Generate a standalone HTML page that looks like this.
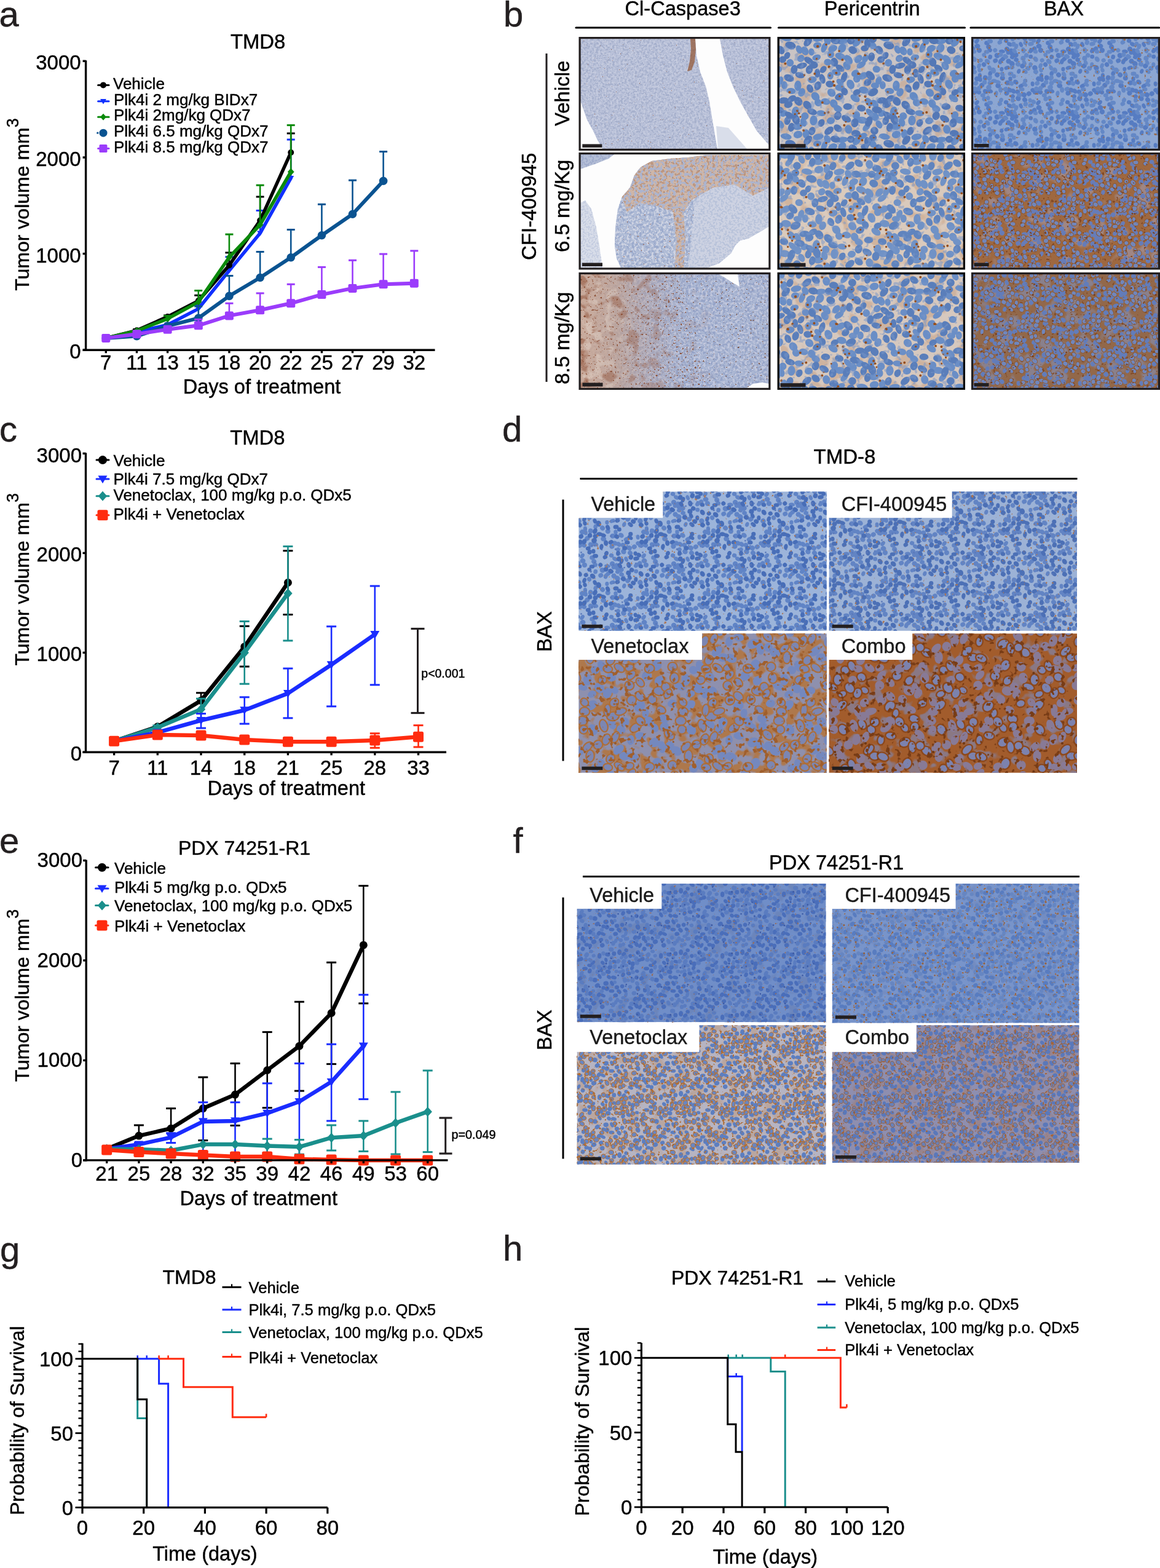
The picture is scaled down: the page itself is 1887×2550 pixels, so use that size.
<!DOCTYPE html>
<html><head><meta charset="utf-8"><title>Figure</title>
<style>html,body{margin:0;padding:0;background:#fff;}svg{display:block;}</style></head>
<body><svg width="1887" height="2550" viewBox="0 0 1887 2550" font-family="'Liberation Sans', Arial, Helvetica, sans-serif">
<defs><filter id="f1" x="0" y="0" width="1" height="1" color-interpolation-filters="sRGB"><feTurbulence type="fractalNoise" baseFrequency="0.3" numOctaves="2" seed="2"/><feColorMatrix type="matrix" values="0 0 0 0 0.651 0 0 0 0 0.690 0 0 0 0 0.800 14 0 0 0 -7.0"/></filter><filter id="f2" x="0" y="0" width="1" height="1" color-interpolation-filters="sRGB"><feTurbulence type="fractalNoise" baseFrequency="0.3" numOctaves="2" seed="6"/><feColorMatrix type="matrix" values="0 0 0 0 0.769 0 0 0 0 0.792 0 0 0 0 0.871 14 0 0 0 -7.5"/></filter><filter id="f3" x="0" y="0" width="1" height="1" color-interpolation-filters="sRGB"><feTurbulence type="fractalNoise" baseFrequency="0.45" numOctaves="2" seed="11"/><feColorMatrix type="matrix" values="0 0 0 0 0.588 0 0 0 0 0.353 0 0 0 0 0.235 14 0 0 0 -11.0"/></filter><clipPath id="c1"><polygon points="1025.0,305.0 1032.0,285.0 1042.0,272.0 1060.0,262.0 1090.0,258.0 1120.0,256.0 1150.0,252.0 1251.0,252.0 1251.0,368.0 1238.0,376.0 1217.0,388.0 1204.0,391.0 1196.0,399.0 1189.0,412.0 1170.0,428.0 1150.0,435.5 1010.0,435.5 1003.0,420.0 1000.0,400.0 1001.0,370.0 1005.0,340.0 1012.0,320.0"/></clipPath><filter id="f4" x="0" y="0" width="1" height="1" color-interpolation-filters="sRGB"><feTurbulence type="fractalNoise" baseFrequency="0.25" numOctaves="2" seed="5"/><feColorMatrix type="matrix" values="0 0 0 0 0.608 0 0 0 0 0.667 0 0 0 0 0.800 14 0 0 0 -7.0"/></filter><filter id="f5" x="0" y="0" width="1" height="1" color-interpolation-filters="sRGB"><feTurbulence type="fractalNoise" baseFrequency="0.25" numOctaves="2" seed="9"/><feColorMatrix type="matrix" values="0 0 0 0 0.804 0 0 0 0 0.824 0 0 0 0 0.886 14 0 0 0 -7.4"/></filter><filter id="f6" x="0" y="0" width="1" height="1" color-interpolation-filters="sRGB"><feTurbulence type="fractalNoise" baseFrequency="0.35" numOctaves="2" seed="14"/><feColorMatrix type="matrix" values="0 0 0 0 0.627 0 0 0 0 0.392 0 0 0 0 0.275 14 0 0 0 -10.5"/></filter><clipPath id="c2"><polygon points="1150.0,300.0 1200.0,290.0 1251.0,300.0 1251.0,368.0 1238.0,376.0 1217.0,388.0 1204.0,391.0 1196.0,399.0 1189.0,412.0 1170.0,428.0 1150.0,435.5 1120.0,435.5 1125.0,380.0 1130.0,330.0"/></clipPath><filter id="f7" x="0" y="0" width="1" height="1" color-interpolation-filters="sRGB"><feTurbulence type="fractalNoise" baseFrequency="0.3" numOctaves="2" seed="6"/><feColorMatrix type="matrix" values="0 0 0 0 0.725 0 0 0 0 0.765 0 0 0 0 0.855 14 0 0 0 -7.0"/></filter><clipPath id="c3"><polygon points="944.0,251.0 999.0,251.0 990.0,258.0 970.0,266.0 944.0,275.0"/></clipPath><filter id="f8" x="0" y="0" width="1" height="1" color-interpolation-filters="sRGB"><feTurbulence type="fractalNoise" baseFrequency="0.3" numOctaves="2" seed="8"/><feColorMatrix type="matrix" values="0 0 0 0 0.627 0 0 0 0 0.675 0 0 0 0 0.800 14 0 0 0 -7.0"/></filter><clipPath id="c4"><polygon points="944.0,330.0 952.0,326.0 962.0,340.0 970.0,370.0 975.0,400.0 980.0,435.5 944.0,435.5"/></clipPath><filter id="f9" x="0" y="0" width="1" height="1" color-interpolation-filters="sRGB"><feTurbulence type="fractalNoise" baseFrequency="0.35" numOctaves="2" seed="9"/><feColorMatrix type="matrix" values="0 0 0 0 0.769 0 0 0 0 0.800 0 0 0 0 0.878 14 0 0 0 -7.0"/></filter><clipPath id="c5"><polygon points="1032.0,285.0 1042.0,272.0 1060.0,262.0 1090.0,258.0 1120.0,256.0 1150.0,252.0 1251.0,252.0 1251.0,305.0 1225.0,318.0 1195.0,300.0 1160.0,305.0 1125.0,325.0 1112.0,345.0 1115.0,390.0 1112.0,435.5 1098.0,435.5 1100.0,390.0 1095.0,345.0 1070.0,335.0 1040.0,330.0 1020.0,345.0 1012.0,320.0 1025.0,305.0"/></clipPath><filter id="f10" x="0" y="0" width="1" height="1" color-interpolation-filters="sRGB"><feTurbulence type="fractalNoise" baseFrequency="0.22" numOctaves="2" seed="12"/><feColorMatrix type="matrix" values="0 0 0 0 0.737 0 0 0 0 0.588 0 0 0 0 0.502 14 0 0 0 -7.2"/></filter><filter id="f11" x="0" y="0" width="1" height="1" color-interpolation-filters="sRGB"><feTurbulence type="fractalNoise" baseFrequency="0.22" numOctaves="2" seed="16"/><feColorMatrix type="matrix" values="0 0 0 0 0.675 0 0 0 0 0.706 0 0 0 0 0.808 14 0 0 0 -7.0"/></filter><filter id="f12" x="0" y="0" width="1" height="1" color-interpolation-filters="sRGB"><feTurbulence type="fractalNoise" baseFrequency="0.35" numOctaves="2" seed="21"/><feColorMatrix type="matrix" values="0 0 0 0 0.549 0 0 0 0 0.333 0 0 0 0 0.216 14 0 0 0 -10.5"/></filter><linearGradient id="g31" x1="0" y1="0" x2="1" y2="0"><stop offset="0" stop-color="rgb(205,170,150)" stop-opacity="0.9"/><stop offset="0.2" stop-color="rgb(195,160,140)" stop-opacity="0.7"/><stop offset="0.42" stop-color="rgb(180,160,160)" stop-opacity="0.3"/><stop offset="0.6" stop-color="rgb(170,175,200)" stop-opacity="0"/></linearGradient><filter id="f13" x="0" y="0" width="1" height="1" color-interpolation-filters="sRGB"><feTurbulence type="fractalNoise" baseFrequency="0.25" numOctaves="2" seed="14"/><feColorMatrix type="matrix" values="0 0 0 0 0.588 0 0 0 0 0.643 0 0 0 0 0.784 14 0 0 0 -7.0"/></filter><filter id="f14" x="0" y="0" width="1" height="1" color-interpolation-filters="sRGB"><feTurbulence type="fractalNoise" baseFrequency="0.25" numOctaves="2" seed="18"/><feColorMatrix type="matrix" values="0 0 0 0 0.753 0 0 0 0 0.776 0 0 0 0 0.863 14 0 0 0 -7.6"/></filter><filter id="f15" x="0" y="0" width="1" height="1" color-interpolation-filters="sRGB"><feTurbulence type="fractalNoise" baseFrequency="0.3" numOctaves="2" seed="23"/><feColorMatrix type="matrix" values="0 0 0 0 0.471 0 0 0 0 0.294 0 0 0 0 0.216 14 0 0 0 -10.2"/></filter><clipPath id="c6"><polygon points="944.0,446.0 1100.0,446.0 1120.0,500.0 1130.0,560.0 1150.0,631.0 944.0,631.0"/></clipPath><linearGradient id="gm31" x1="0" y1="0" x2="1" y2="0"><stop offset="0" stop-color="#fff"/><stop offset="0.35" stop-color="#888"/><stop offset="0.75" stop-color="#000"/></linearGradient><mask id="m31" maskUnits="userSpaceOnUse" x="944" y="446" width="307" height="185"><rect x="944" y="446" width="307" height="185" fill="url(#gm31)"/></mask><linearGradient id="gm31b" x1="0" y1="0" x2="1" y2="0"><stop offset="0" stop-color="#fff"/><stop offset="0.15" stop-color="#bbb"/><stop offset="0.32" stop-color="#000"/></linearGradient><mask id="m31b" maskUnits="userSpaceOnUse" x="944" y="446" width="307" height="185"><rect x="944" y="446" width="307" height="185" fill="url(#gm31b)"/></mask><filter id="f16" x="0" y="0" width="1" height="1" color-interpolation-filters="sRGB"><feTurbulence type="fractalNoise" baseFrequency="0.05" numOctaves="2" seed="77"/><feColorMatrix type="matrix" values="0 0 0 0 0.588 0 0 0 0 0.361 0 0 0 0 0.267 9 0 0 0 -5.0"/></filter><filter id="f17" x="0" y="0" width="1" height="1" color-interpolation-filters="sRGB"><feTurbulence type="fractalNoise" baseFrequency="0.3" numOctaves="2" seed="79"/><feColorMatrix type="matrix" values="0 0 0 0 0.549 0 0 0 0 0.314 0 0 0 0 0.216 14 0 0 0 -9.3"/></filter><filter id="f18" x="0" y="0" width="1" height="1" color-interpolation-filters="sRGB"><feTurbulence type="fractalNoise" baseFrequency="0.06" numOctaves="2" seed="78"/><feColorMatrix type="matrix" values="0 0 0 0 0.894 0 0 0 0 0.843 0 0 0 0 0.804 9 0 0 0 -5.0"/></filter><g id="GA0"><ellipse cx="38.1" cy="87.1" rx="7.1" ry="5.6" transform="rotate(113 38.1 87.1)"/><ellipse cx="86.6" cy="87.9" rx="7.2" ry="6.1" transform="rotate(42 86.6 87.9)"/><ellipse cx="138.9" cy="83.7" rx="8.2" ry="5.7" transform="rotate(12 138.9 83.7)"/><ellipse cx="114.3" cy="147.4" rx="7.2" ry="6.0" transform="rotate(80 114.3 147.4)"/><ellipse cx="137.0" cy="-1.4" rx="8.0" ry="4.9" transform="rotate(155 137.0 -1.4)"/><ellipse cx="137.0" cy="158.6" rx="8.0" ry="4.9" transform="rotate(155 137.0 158.6)"/><ellipse cx="114.2" cy="33.8" rx="8.5" ry="5.6" transform="rotate(51 114.2 33.8)"/><ellipse cx="77.1" cy="102.2" rx="7.5" ry="5.2" transform="rotate(12 77.1 102.2)"/><ellipse cx="3.2" cy="68.3" rx="7.2" ry="4.8" transform="rotate(109 3.2 68.3)"/><ellipse cx="163.2" cy="68.3" rx="7.2" ry="4.8" transform="rotate(109 163.2 68.3)"/><ellipse cx="60.4" cy="93.8" rx="7.7" ry="6.2" transform="rotate(50 60.4 93.8)"/><ellipse cx="-0.2" cy="49.5" rx="6.2" ry="5.6" transform="rotate(6 -0.2 49.5)"/><ellipse cx="159.8" cy="49.5" rx="6.2" ry="5.6" transform="rotate(6 159.8 49.5)"/><ellipse cx="137.9" cy="60.3" rx="8.6" ry="5.3" transform="rotate(156 137.9 60.3)"/><ellipse cx="135.0" cy="42.3" rx="8.4" ry="4.8" transform="rotate(146 135.0 42.3)"/><ellipse cx="103.9" cy="15.5" rx="7.8" ry="6.2" transform="rotate(121 103.9 15.5)"/><ellipse cx="43.3" cy="125.9" rx="6.2" ry="6.1" transform="rotate(57 43.3 125.9)"/><ellipse cx="55.4" cy="66.7" rx="7.3" ry="5.3" transform="rotate(166 55.4 66.7)"/><ellipse cx="31.9" cy="76.4" rx="8.5" ry="5.7" transform="rotate(92 31.9 76.4)"/><ellipse cx="19.2" cy="39.1" rx="6.1" ry="6.0" transform="rotate(92 19.2 39.1)"/><ellipse cx="143.5" cy="143.9" rx="7.7" ry="4.6" transform="rotate(134 143.5 143.9)"/><ellipse cx="80.5" cy="38.2" rx="6.1" ry="5.5" transform="rotate(10 80.5 38.2)"/><ellipse cx="125.2" cy="56.3" rx="6.6" ry="5.5" transform="rotate(147 125.2 56.3)"/><ellipse cx="84.8" cy="60.2" rx="6.3" ry="5.1" transform="rotate(96 84.8 60.2)"/><ellipse cx="90.3" cy="105.5" rx="7.1" ry="6.0" transform="rotate(61 90.3 105.5)"/><ellipse cx="127.8" cy="5.8" rx="8.3" ry="5.5" transform="rotate(129 127.8 5.8)"/><ellipse cx="127.8" cy="165.8" rx="8.3" ry="5.5" transform="rotate(129 127.8 165.8)"/><ellipse cx="88.7" cy="16.0" rx="7.7" ry="5.5" transform="rotate(156 88.7 16.0)"/><ellipse cx="104.4" cy="4.4" rx="9.0" ry="4.7" transform="rotate(171 104.4 4.4)"/><ellipse cx="104.4" cy="164.4" rx="9.0" ry="4.7" transform="rotate(171 104.4 164.4)"/><ellipse cx="100.9" cy="28.7" rx="8.7" ry="5.7" transform="rotate(22 100.9 28.7)"/><ellipse cx="147.3" cy="103.2" rx="7.9" ry="5.3" transform="rotate(54 147.3 103.2)"/><ellipse cx="74.8" cy="14.2" rx="8.8" ry="4.6" transform="rotate(111 74.8 14.2)"/><ellipse cx="79.8" cy="3.0" rx="7.0" ry="5.2" transform="rotate(62 79.8 3.0)"/><ellipse cx="79.8" cy="163.0" rx="7.0" ry="5.2" transform="rotate(62 79.8 163.0)"/><ellipse cx="12.8" cy="-0.9" rx="9.0" ry="4.9" transform="rotate(11 12.8 -0.9)"/><ellipse cx="12.8" cy="159.1" rx="9.0" ry="4.9" transform="rotate(11 12.8 159.1)"/><ellipse cx="69.9" cy="121.1" rx="7.5" ry="4.8" transform="rotate(8 69.9 121.1)"/><ellipse cx="41.1" cy="135.8" rx="7.3" ry="5.2" transform="rotate(72 41.1 135.8)"/><ellipse cx="85.4" cy="25.5" rx="6.1" ry="5.6" transform="rotate(91 85.4 25.5)"/><ellipse cx="62.3" cy="30.5" rx="7.0" ry="4.8" transform="rotate(164 62.3 30.5)"/><ellipse cx="32.1" cy="-4.2" rx="7.4" ry="6.0" transform="rotate(165 32.1 -4.2)"/><ellipse cx="32.1" cy="155.8" rx="7.4" ry="6.0" transform="rotate(165 32.1 155.8)"/><ellipse cx="27.9" cy="118.4" rx="8.2" ry="6.0" transform="rotate(100 27.9 118.4)"/><ellipse cx="96.9" cy="113.7" rx="7.2" ry="5.4" transform="rotate(28 96.9 113.7)"/><ellipse cx="125.0" cy="96.7" rx="8.4" ry="5.5" transform="rotate(34 125.0 96.7)"/><ellipse cx="130.4" cy="33.0" rx="7.6" ry="5.4" transform="rotate(131 130.4 33.0)"/><ellipse cx="117.6" cy="74.2" rx="8.1" ry="6.0" transform="rotate(66 117.6 74.2)"/><ellipse cx="65.1" cy="-0.4" rx="8.8" ry="5.1" transform="rotate(168 65.1 -0.4)"/><ellipse cx="65.1" cy="159.6" rx="8.8" ry="5.1" transform="rotate(168 65.1 159.6)"/><ellipse cx="9.8" cy="75.5" rx="6.6" ry="5.0" transform="rotate(89 9.8 75.5)"/><ellipse cx="57.5" cy="132.9" rx="8.2" ry="6.2" transform="rotate(94 57.5 132.9)"/><ellipse cx="21.0" cy="84.9" rx="7.6" ry="4.9" transform="rotate(9 21.0 84.9)"/><ellipse cx="-2.6" cy="126.9" rx="7.1" ry="6.2" transform="rotate(65 -2.6 126.9)"/><ellipse cx="157.4" cy="126.9" rx="7.1" ry="6.2" transform="rotate(65 157.4 126.9)"/><ellipse cx="54.0" cy="21.4" rx="6.0" ry="4.7" transform="rotate(87 54.0 21.4)"/><ellipse cx="136.2" cy="132.4" rx="8.8" ry="5.6" transform="rotate(6 136.2 132.4)"/><ellipse cx="36.8" cy="32.0" rx="6.2" ry="5.5" transform="rotate(134 36.8 32.0)"/><ellipse cx="-6.2" cy="11.1" rx="6.8" ry="5.4" transform="rotate(48 -6.2 11.1)"/><ellipse cx="153.8" cy="11.1" rx="6.8" ry="5.4" transform="rotate(48 153.8 11.1)"/><ellipse cx="8.7" cy="121.5" rx="6.5" ry="4.9" transform="rotate(148 8.7 121.5)"/><ellipse cx="85.5" cy="133.3" rx="6.6" ry="5.6" transform="rotate(168 85.5 133.3)"/><ellipse cx="111.5" cy="44.0" rx="7.4" ry="5.6" transform="rotate(59 111.5 44.0)"/><ellipse cx="43.2" cy="19.7" rx="7.5" ry="5.8" transform="rotate(61 43.2 19.7)"/><ellipse cx="45.2" cy="-5.3" rx="7.4" ry="5.4" transform="rotate(96 45.2 -5.3)"/><ellipse cx="45.2" cy="154.7" rx="7.4" ry="5.4" transform="rotate(96 45.2 154.7)"/><ellipse cx="141.5" cy="32.3" rx="7.2" ry="4.8" transform="rotate(115 141.5 32.3)"/><ellipse cx="-2.9" cy="105.8" rx="7.6" ry="4.9" transform="rotate(54 -2.9 105.8)"/><ellipse cx="157.1" cy="105.8" rx="7.6" ry="4.9" transform="rotate(54 157.1 105.8)"/><ellipse cx="63.6" cy="10.6" rx="6.8" ry="5.1" transform="rotate(169 63.6 10.6)"/><ellipse cx="33.9" cy="17.6" rx="7.1" ry="4.9" transform="rotate(66 33.9 17.6)"/><ellipse cx="100.4" cy="70.6" rx="6.7" ry="4.6" transform="rotate(39 100.4 70.6)"/><ellipse cx="64.9" cy="103.9" rx="6.3" ry="5.8" transform="rotate(43 64.9 103.9)"/><ellipse cx="31.1" cy="142.6" rx="8.4" ry="5.8" transform="rotate(176 31.1 142.6)"/><ellipse cx="100.3" cy="79.6" rx="7.9" ry="5.5" transform="rotate(5 100.3 79.6)"/><ellipse cx="94.5" cy="54.9" rx="7.7" ry="5.0" transform="rotate(22 94.5 54.9)"/><ellipse cx="149.4" cy="120.5" rx="8.5" ry="4.7" transform="rotate(45 149.4 120.5)"/><ellipse cx="127.2" cy="124.6" rx="6.7" ry="5.9" transform="rotate(109 127.2 124.6)"/><ellipse cx="3.9" cy="139.4" rx="7.0" ry="4.9" transform="rotate(59 3.9 139.4)"/><ellipse cx="163.9" cy="139.4" rx="7.0" ry="4.9" transform="rotate(59 163.9 139.4)"/><ellipse cx="-2.6" cy="76.2" rx="6.7" ry="4.9" transform="rotate(6 -2.6 76.2)"/><ellipse cx="157.4" cy="76.2" rx="6.7" ry="4.9" transform="rotate(6 157.4 76.2)"/><ellipse cx="127.7" cy="65.2" rx="6.1" ry="5.8" transform="rotate(76 127.7 65.2)"/></g><g id="GA1"><ellipse cx="96.9" cy="145.4" rx="7.4" ry="5.5" transform="rotate(35 96.9 145.4)"/><ellipse cx="48.2" cy="5.0" rx="8.6" ry="5.4" transform="rotate(129 48.2 5.0)"/><ellipse cx="48.2" cy="165.0" rx="8.6" ry="5.4" transform="rotate(129 48.2 165.0)"/><ellipse cx="140.6" cy="15.6" rx="6.4" ry="5.0" transform="rotate(174 140.6 15.6)"/><ellipse cx="124.6" cy="136.8" rx="7.3" ry="6.0" transform="rotate(103 124.6 136.8)"/><ellipse cx="92.8" cy="3.2" rx="7.8" ry="5.7" transform="rotate(11 92.8 3.2)"/><ellipse cx="92.8" cy="163.2" rx="7.8" ry="5.7" transform="rotate(11 92.8 163.2)"/><ellipse cx="118.1" cy="3.5" rx="6.2" ry="5.7" transform="rotate(173 118.1 3.5)"/><ellipse cx="118.1" cy="163.5" rx="6.2" ry="5.7" transform="rotate(173 118.1 163.5)"/><ellipse cx="100.5" cy="47.8" rx="7.8" ry="4.9" transform="rotate(33 100.5 47.8)"/><ellipse cx="49.6" cy="35.6" rx="8.4" ry="5.0" transform="rotate(34 49.6 35.6)"/><ellipse cx="70.1" cy="136.9" rx="6.5" ry="5.2" transform="rotate(117 70.1 136.9)"/><ellipse cx="99.1" cy="94.3" rx="7.3" ry="5.5" transform="rotate(153 99.1 94.3)"/><ellipse cx="-5.9" cy="87.0" rx="8.7" ry="6.1" transform="rotate(154 -5.9 87.0)"/><ellipse cx="154.1" cy="87.0" rx="8.7" ry="6.1" transform="rotate(154 154.1 87.0)"/><ellipse cx="38.3" cy="43.8" rx="8.7" ry="4.8" transform="rotate(166 38.3 43.8)"/><ellipse cx="19.9" cy="10.9" rx="8.9" ry="6.1" transform="rotate(16 19.9 10.9)"/><ellipse cx="50.5" cy="50.3" rx="7.1" ry="5.7" transform="rotate(106 50.5 50.3)"/><ellipse cx="0.6" cy="115.7" rx="8.4" ry="5.6" transform="rotate(8 0.6 115.7)"/><ellipse cx="160.6" cy="115.7" rx="8.4" ry="5.6" transform="rotate(8 160.6 115.7)"/><ellipse cx="96.7" cy="125.2" rx="7.1" ry="6.0" transform="rotate(112 96.7 125.2)"/><ellipse cx="8.5" cy="100.4" rx="8.3" ry="5.1" transform="rotate(171 8.5 100.4)"/><ellipse cx="149.8" cy="59.9" rx="8.7" ry="5.9" transform="rotate(47 149.8 59.9)"/><ellipse cx="4.1" cy="18.4" rx="7.4" ry="5.8" transform="rotate(51 4.1 18.4)"/><ellipse cx="164.1" cy="18.4" rx="7.4" ry="5.8" transform="rotate(51 164.1 18.4)"/><ellipse cx="63.5" cy="56.0" rx="7.3" ry="4.7" transform="rotate(90 63.5 56.0)"/><ellipse cx="82.5" cy="149.6" rx="8.6" ry="5.5" transform="rotate(140 82.5 149.6)"/><ellipse cx="91.2" cy="38.2" rx="7.4" ry="6.1" transform="rotate(75 91.2 38.2)"/><ellipse cx="14.8" cy="133.4" rx="6.9" ry="5.2" transform="rotate(104 14.8 133.4)"/><ellipse cx="47.3" cy="108.1" rx="8.0" ry="6.0" transform="rotate(48 47.3 108.1)"/><ellipse cx="107.7" cy="85.8" rx="6.3" ry="5.4" transform="rotate(63 107.7 85.8)"/><ellipse cx="73.2" cy="50.0" rx="6.5" ry="4.7" transform="rotate(129 73.2 50.0)"/><ellipse cx="57.5" cy="42.5" rx="7.2" ry="6.1" transform="rotate(8 57.5 42.5)"/><ellipse cx="18.0" cy="124.6" rx="8.2" ry="4.9" transform="rotate(34 18.0 124.6)"/><ellipse cx="107.2" cy="62.6" rx="9.0" ry="4.8" transform="rotate(109 107.2 62.6)"/><ellipse cx="127.7" cy="87.2" rx="6.5" ry="4.9" transform="rotate(156 127.7 87.2)"/><ellipse cx="83.8" cy="73.7" rx="6.6" ry="5.5" transform="rotate(7 83.8 73.7)"/><ellipse cx="135.2" cy="112.9" rx="7.2" ry="5.4" transform="rotate(12 135.2 112.9)"/><ellipse cx="22.3" cy="97.4" rx="7.3" ry="4.9" transform="rotate(151 22.3 97.4)"/><ellipse cx="71.7" cy="65.2" rx="8.1" ry="4.7" transform="rotate(73 71.7 65.2)"/><ellipse cx="126.3" cy="-6.1" rx="7.5" ry="5.6" transform="rotate(5 126.3 -6.1)"/><ellipse cx="126.3" cy="153.9" rx="7.5" ry="5.6" transform="rotate(5 126.3 153.9)"/><ellipse cx="14.5" cy="27.3" rx="6.1" ry="4.7" transform="rotate(118 14.5 27.3)"/><ellipse cx="151.6" cy="29.5" rx="7.2" ry="5.5" transform="rotate(99 151.6 29.5)"/><ellipse cx="-3.6" cy="149.7" rx="6.4" ry="6.3" transform="rotate(20 -3.6 149.7)"/><ellipse cx="156.4" cy="149.7" rx="6.4" ry="6.3" transform="rotate(20 156.4 149.7)"/><ellipse cx="17.4" cy="63.9" rx="8.5" ry="5.8" transform="rotate(20 17.4 63.9)"/><ellipse cx="55.2" cy="118.7" rx="8.2" ry="5.1" transform="rotate(19 55.2 118.7)"/><ellipse cx="145.4" cy="71.0" rx="6.6" ry="5.4" transform="rotate(146 145.4 71.0)"/><ellipse cx="25.8" cy="49.9" rx="7.4" ry="5.5" transform="rotate(98 25.8 49.9)"/><ellipse cx="16.4" cy="107.0" rx="7.1" ry="5.5" transform="rotate(161 16.4 107.0)"/><ellipse cx="112.9" cy="110.4" rx="7.4" ry="5.3" transform="rotate(2 112.9 110.4)"/><ellipse cx="51.7" cy="81.0" rx="7.1" ry="5.1" transform="rotate(65 51.7 81.0)"/><ellipse cx="35.2" cy="59.3" rx="7.8" ry="4.8" transform="rotate(15 35.2 59.3)"/><ellipse cx="32.6" cy="101.7" rx="7.8" ry="6.2" transform="rotate(54 32.6 101.7)"/><ellipse cx="28.8" cy="131.3" rx="8.5" ry="6.2" transform="rotate(71 28.8 131.3)"/><ellipse cx="121.3" cy="18.4" rx="7.3" ry="6.1" transform="rotate(26 121.3 18.4)"/><ellipse cx="21.3" cy="144.0" rx="7.3" ry="5.3" transform="rotate(102 21.3 144.0)"/><ellipse cx="7.1" cy="33.8" rx="6.0" ry="5.5" transform="rotate(168 7.1 33.8)"/><ellipse cx="144.9" cy="7.7" rx="8.0" ry="5.1" transform="rotate(85 144.9 7.7)"/><ellipse cx="144.9" cy="167.7" rx="8.0" ry="5.1" transform="rotate(85 144.9 167.7)"/><ellipse cx="-6.0" cy="1.0" rx="6.2" ry="5.7" transform="rotate(167 -6.0 1.0)"/><ellipse cx="-6.0" cy="161.0" rx="6.2" ry="5.7" transform="rotate(167 -6.0 161.0)"/><ellipse cx="154.0" cy="1.0" rx="6.2" ry="5.7" transform="rotate(167 154.0 1.0)"/><ellipse cx="154.0" cy="161.0" rx="6.2" ry="5.7" transform="rotate(167 154.0 161.0)"/><ellipse cx="54.9" cy="150.1" rx="7.0" ry="5.4" transform="rotate(114 54.9 150.1)"/><ellipse cx="64.2" cy="76.5" rx="7.5" ry="5.5" transform="rotate(110 64.2 76.5)"/><ellipse cx="110.6" cy="130.1" rx="8.3" ry="5.3" transform="rotate(30 110.6 130.1)"/><ellipse cx="147.3" cy="134.6" rx="8.8" ry="5.8" transform="rotate(111 147.3 134.6)"/></g><g id="GAd"><circle cx="109.9" cy="135.2" r="1.3"/><circle cx="42.5" cy="59.0" r="1.7"/><circle cx="107.3" cy="140.7" r="2.0"/><circle cx="148.6" cy="111.4" r="1.6"/><circle cx="81.3" cy="119.8" r="2.0"/><circle cx="59.2" cy="56.9" r="1.9"/><circle cx="36.5" cy="141.3" r="1.3"/><circle cx="103.8" cy="77.7" r="1.5"/><circle cx="91.2" cy="75.9" r="2.2"/><circle cx="141.5" cy="93.9" r="2.1"/><circle cx="141.4" cy="26.4" r="2.0"/><circle cx="133.3" cy="158.5" r="2.0"/><circle cx="62.7" cy="33.0" r="1.9"/><circle cx="33.7" cy="121.2" r="1.8"/><circle cx="132.1" cy="57.0" r="1.6"/><circle cx="144.7" cy="106.0" r="1.6"/><circle cx="89.7" cy="69.7" r="1.9"/><circle cx="82.7" cy="45.7" r="2.2"/><circle cx="141.6" cy="121.4" r="1.6"/><circle cx="31.1" cy="117.0" r="2.0"/><circle cx="104.4" cy="34.2" r="1.9"/><circle cx="83.7" cy="59.7" r="1.8"/><circle cx="71.8" cy="103.8" r="2.0"/><circle cx="157.2" cy="17.8" r="1.8"/><circle cx="151.3" cy="105.1" r="1.8"/><circle cx="136.5" cy="5.0" r="2.0"/><circle cx="99.7" cy="93.5" r="1.6"/><circle cx="99.1" cy="20.1" r="1.8"/><circle cx="41.2" cy="149.1" r="2.0"/><circle cx="75.7" cy="120.8" r="1.6"/><circle cx="83.8" cy="25.8" r="2.1"/><circle cx="122.2" cy="121.6" r="1.4"/><circle cx="131.1" cy="1.9" r="1.8"/><circle cx="78.0" cy="9.5" r="1.7"/><circle cx="141.9" cy="99.9" r="1.6"/><circle cx="130.3" cy="56.9" r="2.1"/><circle cx="64.1" cy="12.4" r="2.2"/><circle cx="11.4" cy="40.5" r="2.0"/><circle cx="18.4" cy="87.1" r="2.1"/><circle cx="94.4" cy="55.7" r="2.0"/><circle cx="132.1" cy="92.7" r="1.9"/><circle cx="51.6" cy="65.2" r="2.2"/><circle cx="155.5" cy="0.3" r="1.5"/><circle cx="36.0" cy="126.9" r="1.5"/><circle cx="27.1" cy="122.5" r="1.5"/></g><g id="GB0"><ellipse cx="28.0" cy="94.5" rx="4.3" ry="3.7" transform="rotate(151 28.0 94.5)"/><ellipse cx="42.4" cy="28.8" rx="3.7" ry="2.9" transform="rotate(47 42.4 28.8)"/><ellipse cx="10.1" cy="6.2" rx="3.5" ry="3.4" transform="rotate(111 10.1 6.2)"/><ellipse cx="12.2" cy="93.5" rx="3.5" ry="2.6" transform="rotate(64 12.2 93.5)"/><ellipse cx="13.6" cy="38.2" rx="4.5" ry="3.0" transform="rotate(2 13.6 38.2)"/><ellipse cx="-1.8" cy="42.4" rx="3.3" ry="2.7" transform="rotate(10 -1.8 42.4)"/><ellipse cx="98.2" cy="42.4" rx="3.3" ry="2.7" transform="rotate(10 98.2 42.4)"/><ellipse cx="-0.2" cy="12.2" rx="3.8" ry="3.5" transform="rotate(74 -0.2 12.2)"/><ellipse cx="99.8" cy="12.2" rx="3.8" ry="3.5" transform="rotate(74 99.8 12.2)"/><ellipse cx="47.8" cy="24.2" rx="3.7" ry="2.6" transform="rotate(76 47.8 24.2)"/><ellipse cx="79.1" cy="74.5" rx="3.8" ry="2.7" transform="rotate(38 79.1 74.5)"/><ellipse cx="33.7" cy="65.7" rx="4.3" ry="3.4" transform="rotate(147 33.7 65.7)"/><ellipse cx="65.5" cy="68.6" rx="3.7" ry="3.4" transform="rotate(172 65.5 68.6)"/><ellipse cx="85.9" cy="28.0" rx="4.0" ry="2.8" transform="rotate(71 85.9 28.0)"/><ellipse cx="56.9" cy="74.6" rx="4.5" ry="2.9" transform="rotate(1 56.9 74.6)"/><ellipse cx="1.3" cy="87.6" rx="3.6" ry="3.2" transform="rotate(141 1.3 87.6)"/><ellipse cx="101.3" cy="87.6" rx="3.6" ry="3.2" transform="rotate(141 101.3 87.6)"/><ellipse cx="60.8" cy="13.9" rx="3.6" ry="3.5" transform="rotate(94 60.8 13.9)"/><ellipse cx="51.2" cy="43.4" rx="4.4" ry="3.5" transform="rotate(12 51.2 43.4)"/><ellipse cx="87.4" cy="17.6" rx="3.2" ry="3.2" transform="rotate(61 87.4 17.6)"/><ellipse cx="52.6" cy="52.1" rx="3.7" ry="3.0" transform="rotate(41 52.6 52.1)"/><ellipse cx="90.2" cy="37.2" rx="3.9" ry="3.0" transform="rotate(112 90.2 37.2)"/><ellipse cx="37.2" cy="17.5" rx="4.4" ry="3.3" transform="rotate(94 37.2 17.5)"/><ellipse cx="22.2" cy="78.7" rx="4.1" ry="3.6" transform="rotate(124 22.2 78.7)"/><ellipse cx="40.0" cy="40.1" rx="4.3" ry="2.9" transform="rotate(74 40.0 40.1)"/><ellipse cx="-2.6" cy="-1.2" rx="4.5" ry="3.3" transform="rotate(56 -2.6 -1.2)"/><ellipse cx="-2.6" cy="98.8" rx="4.5" ry="3.3" transform="rotate(56 -2.6 98.8)"/><ellipse cx="97.4" cy="-1.2" rx="4.5" ry="3.3" transform="rotate(56 97.4 -1.2)"/><ellipse cx="97.4" cy="98.8" rx="4.5" ry="3.3" transform="rotate(56 97.4 98.8)"/><ellipse cx="75.6" cy="48.3" rx="4.0" ry="3.2" transform="rotate(109 75.6 48.3)"/><ellipse cx="1.9" cy="24.5" rx="4.2" ry="2.8" transform="rotate(171 1.9 24.5)"/><ellipse cx="101.9" cy="24.5" rx="4.2" ry="2.8" transform="rotate(171 101.9 24.5)"/><ellipse cx="95.3" cy="87.8" rx="4.2" ry="3.3" transform="rotate(125 95.3 87.8)"/><ellipse cx="50.3" cy="15.4" rx="4.4" ry="3.2" transform="rotate(12 50.3 15.4)"/><ellipse cx="87.7" cy="1.9" rx="4.5" ry="2.8" transform="rotate(28 87.7 1.9)"/><ellipse cx="87.7" cy="101.9" rx="4.5" ry="2.8" transform="rotate(28 87.7 101.9)"/><ellipse cx="-0.4" cy="70.6" rx="4.5" ry="3.7" transform="rotate(68 -0.4 70.6)"/><ellipse cx="99.6" cy="70.6" rx="4.5" ry="3.7" transform="rotate(68 99.6 70.6)"/><ellipse cx="91.2" cy="30.5" rx="4.0" ry="3.7" transform="rotate(108 91.2 30.5)"/><ellipse cx="80.7" cy="8.3" rx="3.4" ry="3.0" transform="rotate(19 80.7 8.3)"/><ellipse cx="60.5" cy="52.7" rx="4.6" ry="3.0" transform="rotate(15 60.5 52.7)"/><ellipse cx="69.7" cy="11.7" rx="4.6" ry="3.6" transform="rotate(92 69.7 11.7)"/><ellipse cx="7.1" cy="22.6" rx="3.7" ry="3.4" transform="rotate(160 7.1 22.6)"/><ellipse cx="26.4" cy="28.7" rx="4.5" ry="2.8" transform="rotate(136 26.4 28.7)"/><ellipse cx="29.7" cy="56.7" rx="4.1" ry="3.7" transform="rotate(14 29.7 56.7)"/><ellipse cx="54.1" cy="36.2" rx="4.2" ry="3.6" transform="rotate(137 54.1 36.2)"/><ellipse cx="16.4" cy="-0.5" rx="4.0" ry="3.0" transform="rotate(1 16.4 -0.5)"/><ellipse cx="16.4" cy="99.5" rx="4.0" ry="3.0" transform="rotate(1 16.4 99.5)"/><ellipse cx="21.1" cy="33.1" rx="4.0" ry="2.7" transform="rotate(14 21.1 33.1)"/><ellipse cx="-2.6" cy="52.7" rx="3.3" ry="3.3" transform="rotate(108 -2.6 52.7)"/><ellipse cx="97.4" cy="52.7" rx="3.3" ry="3.3" transform="rotate(108 97.4 52.7)"/><ellipse cx="5.1" cy="82.0" rx="4.4" ry="2.7" transform="rotate(170 5.1 82.0)"/><ellipse cx="41.7" cy="0.3" rx="3.8" ry="3.6" transform="rotate(152 41.7 0.3)"/><ellipse cx="41.7" cy="100.3" rx="3.8" ry="3.6" transform="rotate(152 41.7 100.3)"/><ellipse cx="9.3" cy="88.8" rx="4.5" ry="3.2" transform="rotate(95 9.3 88.8)"/><ellipse cx="61.7" cy="26.9" rx="4.4" ry="2.8" transform="rotate(17 61.7 26.9)"/><ellipse cx="3.3" cy="0.6" rx="4.4" ry="2.6" transform="rotate(118 3.3 0.6)"/><ellipse cx="3.3" cy="100.6" rx="4.4" ry="2.6" transform="rotate(118 3.3 100.6)"/><ellipse cx="103.3" cy="0.6" rx="4.4" ry="2.6" transform="rotate(118 103.3 0.6)"/><ellipse cx="103.3" cy="100.6" rx="4.4" ry="2.6" transform="rotate(118 103.3 100.6)"/><ellipse cx="37.4" cy="50.8" rx="4.4" ry="2.8" transform="rotate(62 37.4 50.8)"/><ellipse cx="39.6" cy="91.4" rx="3.7" ry="3.2" transform="rotate(159 39.6 91.4)"/><ellipse cx="57.6" cy="62.2" rx="4.5" ry="2.9" transform="rotate(60 57.6 62.2)"/><ellipse cx="47.7" cy="62.2" rx="4.3" ry="3.7" transform="rotate(175 47.7 62.2)"/><ellipse cx="74.2" cy="66.9" rx="3.4" ry="3.3" transform="rotate(34 74.2 66.9)"/><ellipse cx="84.6" cy="46.0" rx="4.1" ry="3.3" transform="rotate(24 84.6 46.0)"/><ellipse cx="11.1" cy="73.7" rx="3.4" ry="3.2" transform="rotate(96 11.1 73.7)"/><ellipse cx="22.0" cy="1.4" rx="3.8" ry="3.0" transform="rotate(103 22.0 1.4)"/><ellipse cx="22.0" cy="101.4" rx="3.8" ry="3.0" transform="rotate(103 22.0 101.4)"/><ellipse cx="42.8" cy="81.9" rx="4.5" ry="2.7" transform="rotate(26 42.8 81.9)"/><ellipse cx="36.3" cy="80.9" rx="4.2" ry="3.3" transform="rotate(130 36.3 80.9)"/><ellipse cx="69.0" cy="75.6" rx="4.3" ry="3.2" transform="rotate(47 69.0 75.6)"/><ellipse cx="43.6" cy="69.6" rx="3.4" ry="3.1" transform="rotate(10 43.6 69.6)"/><ellipse cx="76.7" cy="14.8" rx="4.0" ry="3.2" transform="rotate(139 76.7 14.8)"/><ellipse cx="49.3" cy="70.8" rx="3.9" ry="3.7" transform="rotate(128 49.3 70.8)"/><ellipse cx="63.3" cy="81.8" rx="4.0" ry="3.3" transform="rotate(168 63.3 81.8)"/><ellipse cx="6.0" cy="53.9" rx="4.5" ry="3.3" transform="rotate(142 6.0 53.9)"/><ellipse cx="21.3" cy="42.0" rx="4.1" ry="3.3" transform="rotate(105 21.3 42.0)"/><ellipse cx="23.4" cy="89.5" rx="3.0" ry="2.8" transform="rotate(114 23.4 89.5)"/></g><g id="GB1"><ellipse cx="23.6" cy="10.3" rx="3.6" ry="2.8" transform="rotate(12 23.6 10.3)"/><ellipse cx="54.9" cy="28.9" rx="4.6" ry="2.7" transform="rotate(94 54.9 28.9)"/><ellipse cx="27.7" cy="17.3" rx="3.2" ry="2.9" transform="rotate(167 27.7 17.3)"/><ellipse cx="80.0" cy="19.3" rx="3.5" ry="3.4" transform="rotate(132 80.0 19.3)"/><ellipse cx="8.7" cy="60.6" rx="4.1" ry="3.2" transform="rotate(32 8.7 60.6)"/><ellipse cx="90.9" cy="57.2" rx="4.4" ry="3.6" transform="rotate(92 90.9 57.2)"/><ellipse cx="8.1" cy="46.3" rx="4.6" ry="3.2" transform="rotate(117 8.1 46.3)"/><ellipse cx="14.5" cy="67.4" rx="3.7" ry="3.1" transform="rotate(114 14.5 67.4)"/><ellipse cx="27.6" cy="35.6" rx="4.2" ry="3.0" transform="rotate(101 27.6 35.6)"/><ellipse cx="89.6" cy="95.5" rx="4.2" ry="3.8" transform="rotate(3 89.6 95.5)"/><ellipse cx="87.0" cy="68.0" rx="3.3" ry="3.1" transform="rotate(161 87.0 68.0)"/><ellipse cx="45.5" cy="36.5" rx="4.3" ry="3.8" transform="rotate(103 45.5 36.5)"/><ellipse cx="59.6" cy="-2.9" rx="4.0" ry="3.3" transform="rotate(105 59.6 -2.9)"/><ellipse cx="59.6" cy="97.1" rx="4.0" ry="3.3" transform="rotate(105 59.6 97.1)"/><ellipse cx="64.7" cy="42.8" rx="3.3" ry="2.8" transform="rotate(7 64.7 42.8)"/><ellipse cx="76.7" cy="26.9" rx="4.4" ry="3.6" transform="rotate(124 76.7 26.9)"/><ellipse cx="55.1" cy="87.9" rx="3.4" ry="3.3" transform="rotate(60 55.1 87.9)"/><ellipse cx="91.5" cy="44.0" rx="3.4" ry="3.1" transform="rotate(20 91.5 44.0)"/><ellipse cx="75.9" cy="85.5" rx="3.6" ry="2.7" transform="rotate(165 75.9 85.5)"/><ellipse cx="63.7" cy="93.0" rx="3.8" ry="2.7" transform="rotate(100 63.7 93.0)"/><ellipse cx="71.1" cy="0.6" rx="3.5" ry="3.3" transform="rotate(88 71.1 0.6)"/><ellipse cx="71.1" cy="100.6" rx="3.5" ry="3.3" transform="rotate(88 71.1 100.6)"/><ellipse cx="-1.4" cy="62.7" rx="4.1" ry="3.3" transform="rotate(56 -1.4 62.7)"/><ellipse cx="98.6" cy="62.7" rx="4.1" ry="3.3" transform="rotate(56 98.6 62.7)"/><ellipse cx="78.2" cy="56.8" rx="4.5" ry="3.2" transform="rotate(79 78.2 56.8)"/><ellipse cx="34.0" cy="43.3" rx="4.0" ry="3.4" transform="rotate(112 34.0 43.3)"/><ellipse cx="80.1" cy="80.7" rx="4.5" ry="2.8" transform="rotate(105 80.1 80.7)"/><ellipse cx="82.6" cy="40.4" rx="3.6" ry="2.6" transform="rotate(92 82.6 40.4)"/><ellipse cx="14.9" cy="23.8" rx="3.7" ry="3.5" transform="rotate(29 14.9 23.8)"/><ellipse cx="16.3" cy="89.0" rx="3.8" ry="3.2" transform="rotate(55 16.3 89.0)"/><ellipse cx="23.2" cy="55.4" rx="3.8" ry="3.5" transform="rotate(33 23.2 55.4)"/><ellipse cx="73.8" cy="34.5" rx="4.6" ry="3.6" transform="rotate(114 73.8 34.5)"/><ellipse cx="70.5" cy="43.7" rx="3.3" ry="2.6" transform="rotate(160 70.5 43.7)"/><ellipse cx="41.0" cy="75.0" rx="3.3" ry="2.9" transform="rotate(16 41.0 75.0)"/><ellipse cx="93.5" cy="78.2" rx="4.0" ry="3.4" transform="rotate(168 93.5 78.2)"/><ellipse cx="66.9" cy="89.1" rx="3.8" ry="2.7" transform="rotate(61 66.9 89.1)"/><ellipse cx="57.0" cy="20.4" rx="3.2" ry="3.1" transform="rotate(17 57.0 20.4)"/><ellipse cx="67.7" cy="26.3" rx="3.9" ry="3.4" transform="rotate(132 67.7 26.3)"/><ellipse cx="5.3" cy="16.1" rx="4.5" ry="3.7" transform="rotate(121 5.3 16.1)"/><ellipse cx="43.6" cy="13.5" rx="3.5" ry="3.2" transform="rotate(58 43.6 13.5)"/><ellipse cx="62.3" cy="60.2" rx="3.0" ry="2.7" transform="rotate(49 62.3 60.2)"/><ellipse cx="16.2" cy="16.0" rx="4.5" ry="3.6" transform="rotate(127 16.2 16.0)"/><ellipse cx="79.8" cy="32.9" rx="4.3" ry="2.8" transform="rotate(17 79.8 32.9)"/><ellipse cx="22.3" cy="24.6" rx="4.5" ry="3.1" transform="rotate(44 22.3 24.6)"/><ellipse cx="49.5" cy="94.2" rx="4.3" ry="3.1" transform="rotate(64 49.5 94.2)"/><ellipse cx="83.8" cy="57.4" rx="3.4" ry="2.7" transform="rotate(11 83.8 57.4)"/><ellipse cx="11.9" cy="51.3" rx="3.7" ry="3.3" transform="rotate(29 11.9 51.3)"/><ellipse cx="56.2" cy="7.2" rx="4.2" ry="3.6" transform="rotate(6 56.2 7.2)"/><ellipse cx="16.8" cy="73.3" rx="4.5" ry="2.8" transform="rotate(97 16.8 73.3)"/><ellipse cx="26.9" cy="74.7" rx="3.2" ry="3.0" transform="rotate(2 26.9 74.7)"/><ellipse cx="76.0" cy="-1.3" rx="3.1" ry="3.0" transform="rotate(127 76.0 -1.3)"/><ellipse cx="76.0" cy="98.7" rx="3.1" ry="3.0" transform="rotate(127 76.0 98.7)"/><ellipse cx="-1.9" cy="92.4" rx="3.0" ry="2.8" transform="rotate(73 -1.9 92.4)"/><ellipse cx="98.1" cy="92.4" rx="3.0" ry="2.8" transform="rotate(73 98.1 92.4)"/><ellipse cx="92.8" cy="17.1" rx="3.0" ry="3.0" transform="rotate(46 92.8 17.1)"/><ellipse cx="43.7" cy="46.8" rx="4.0" ry="3.3" transform="rotate(169 43.7 46.8)"/><ellipse cx="36.3" cy="35.8" rx="3.9" ry="3.3" transform="rotate(84 36.3 35.8)"/><ellipse cx="31.9" cy="86.7" rx="4.3" ry="3.6" transform="rotate(173 31.9 86.7)"/><ellipse cx="72.0" cy="92.0" rx="3.3" ry="3.1" transform="rotate(98 72.0 92.0)"/><ellipse cx="73.1" cy="20.4" rx="3.3" ry="2.7" transform="rotate(133 73.1 20.4)"/><ellipse cx="16.4" cy="79.4" rx="3.3" ry="2.9" transform="rotate(136 16.4 79.4)"/><ellipse cx="81.2" cy="89.7" rx="4.4" ry="3.1" transform="rotate(177 81.2 89.7)"/><ellipse cx="27.3" cy="81.8" rx="3.4" ry="3.3" transform="rotate(155 27.3 81.8)"/><ellipse cx="62.2" cy="34.8" rx="4.1" ry="3.1" transform="rotate(105 62.2 34.8)"/><ellipse cx="-2.1" cy="29.1" rx="4.1" ry="3.2" transform="rotate(12 -2.1 29.1)"/><ellipse cx="97.9" cy="29.1" rx="4.1" ry="3.2" transform="rotate(12 97.9 29.1)"/><ellipse cx="-3.1" cy="22.0" rx="3.8" ry="3.3" transform="rotate(124 -3.1 22.0)"/><ellipse cx="96.9" cy="22.0" rx="3.8" ry="3.3" transform="rotate(124 96.9 22.0)"/><ellipse cx="75.6" cy="42.0" rx="3.2" ry="3.0" transform="rotate(165 75.6 42.0)"/></g><g id="GBd"><circle cx="93.8" cy="94.8" r="1.5"/><circle cx="67.6" cy="49.2" r="1.2"/><circle cx="39.1" cy="95.2" r="1.4"/><circle cx="79.9" cy="66.7" r="1.0"/><circle cx="44.8" cy="35.0" r="1.6"/><circle cx="68.8" cy="36.6" r="1.3"/><circle cx="89.3" cy="52.8" r="1.4"/><circle cx="36.2" cy="42.6" r="1.4"/><circle cx="19.9" cy="67.6" r="1.5"/><circle cx="99.5" cy="52.9" r="1.3"/><circle cx="99.4" cy="79.3" r="1.5"/><circle cx="52.6" cy="13.2" r="1.5"/><circle cx="9.4" cy="71.3" r="1.1"/><circle cx="80.8" cy="64.1" r="1.3"/><circle cx="48.0" cy="29.9" r="1.6"/><circle cx="55.6" cy="96.0" r="1.0"/><circle cx="2.5" cy="17.5" r="1.1"/><circle cx="98.5" cy="12.8" r="1.3"/><circle cx="85.6" cy="30.4" r="1.1"/><circle cx="21.2" cy="5.4" r="1.3"/><circle cx="56.2" cy="21.6" r="1.3"/><circle cx="50.2" cy="69.5" r="1.1"/><circle cx="22.7" cy="87.6" r="1.4"/><circle cx="75.8" cy="34.4" r="1.3"/><circle cx="37.9" cy="68.0" r="1.6"/></g><g id="GC0"><ellipse cx="99.7" cy="118.7" rx="9.8" ry="7.9" transform="rotate(133 99.7 118.7)"/><ellipse cx="75.1" cy="39.5" rx="8.9" ry="6.9" transform="rotate(2 75.1 39.5)"/><ellipse cx="65.3" cy="29.1" rx="10.0" ry="6.5" transform="rotate(137 65.3 29.1)"/><ellipse cx="22.2" cy="98.8" rx="7.4" ry="5.5" transform="rotate(157 22.2 98.8)"/><ellipse cx="123.8" cy="-6.4" rx="7.6" ry="5.9" transform="rotate(56 123.8 -6.4)"/><ellipse cx="123.8" cy="153.6" rx="7.6" ry="5.9" transform="rotate(56 123.8 153.6)"/><ellipse cx="131.0" cy="76.9" rx="8.1" ry="6.7" transform="rotate(127 131.0 76.9)"/><ellipse cx="58.6" cy="92.6" rx="7.0" ry="5.6" transform="rotate(33 58.6 92.6)"/><ellipse cx="124.1" cy="17.3" rx="9.6" ry="7.5" transform="rotate(155 124.1 17.3)"/><ellipse cx="69.3" cy="-3.5" rx="7.7" ry="6.8" transform="rotate(65 69.3 -3.5)"/><ellipse cx="69.3" cy="156.5" rx="7.7" ry="6.8" transform="rotate(65 69.3 156.5)"/><ellipse cx="54.4" cy="147.9" rx="8.9" ry="6.3" transform="rotate(57 54.4 147.9)"/><ellipse cx="23.3" cy="-3.4" rx="9.2" ry="7.5" transform="rotate(60 23.3 -3.4)"/><ellipse cx="23.3" cy="156.6" rx="9.2" ry="7.5" transform="rotate(60 23.3 156.6)"/><ellipse cx="20.9" cy="117.1" rx="10.3" ry="7.1" transform="rotate(142 20.9 117.1)"/><ellipse cx="27.0" cy="59.7" rx="7.2" ry="6.6" transform="rotate(25 27.0 59.7)"/><ellipse cx="75.2" cy="144.3" rx="7.6" ry="7.4" transform="rotate(96 75.2 144.3)"/><ellipse cx="-0.6" cy="31.3" rx="9.1" ry="7.1" transform="rotate(33 -0.6 31.3)"/><ellipse cx="159.4" cy="31.3" rx="9.1" ry="7.1" transform="rotate(33 159.4 31.3)"/><ellipse cx="100.9" cy="6.7" rx="8.7" ry="6.1" transform="rotate(10 100.9 6.7)"/><ellipse cx="100.9" cy="166.7" rx="8.7" ry="6.1" transform="rotate(10 100.9 166.7)"/><ellipse cx="148.7" cy="22.9" rx="7.2" ry="7.1" transform="rotate(173 148.7 22.9)"/><ellipse cx="46.9" cy="97.3" rx="8.7" ry="7.1" transform="rotate(109 46.9 97.3)"/><ellipse cx="109.1" cy="130.0" rx="7.5" ry="5.5" transform="rotate(100 109.1 130.0)"/><ellipse cx="115.1" cy="143.8" rx="8.6" ry="7.4" transform="rotate(55 115.1 143.8)"/><ellipse cx="111.1" cy="69.3" rx="8.0" ry="7.5" transform="rotate(164 111.1 69.3)"/><ellipse cx="152.4" cy="114.0" rx="7.5" ry="6.2" transform="rotate(165 152.4 114.0)"/><ellipse cx="34.1" cy="88.9" rx="9.3" ry="7.4" transform="rotate(50 34.1 88.9)"/><ellipse cx="88.3" cy="40.7" rx="9.6" ry="6.8" transform="rotate(24 88.3 40.7)"/><ellipse cx="37.6" cy="53.3" rx="9.1" ry="6.4" transform="rotate(69 37.6 53.3)"/><ellipse cx="139.1" cy="139.0" rx="8.6" ry="6.9" transform="rotate(20 139.1 139.0)"/><ellipse cx="135.8" cy="25.0" rx="9.7" ry="6.3" transform="rotate(82 135.8 25.0)"/><ellipse cx="14.7" cy="75.4" rx="9.4" ry="7.1" transform="rotate(90 14.7 75.4)"/><ellipse cx="140.0" cy="152.0" rx="7.7" ry="7.2" transform="rotate(115 140.0 152.0)"/><ellipse cx="85.0" cy="13.5" rx="8.1" ry="5.8" transform="rotate(98 85.0 13.5)"/><ellipse cx="5.4" cy="86.8" rx="9.6" ry="5.6" transform="rotate(22 5.4 86.8)"/><ellipse cx="165.4" cy="86.8" rx="9.6" ry="5.6" transform="rotate(22 165.4 86.8)"/><ellipse cx="53.4" cy="71.3" rx="7.8" ry="7.0" transform="rotate(31 53.4 71.3)"/><ellipse cx="127.5" cy="51.8" rx="9.4" ry="7.7" transform="rotate(112 127.5 51.8)"/></g><g id="GC1"><ellipse cx="134.5" cy="124.2" rx="7.9" ry="5.6" transform="rotate(28 134.5 124.2)"/><ellipse cx="86.3" cy="108.5" rx="7.9" ry="7.7" transform="rotate(124 86.3 108.5)"/><ellipse cx="47.8" cy="57.8" rx="7.6" ry="5.9" transform="rotate(12 47.8 57.8)"/><ellipse cx="130.8" cy="93.8" rx="9.1" ry="7.3" transform="rotate(12 130.8 93.8)"/><ellipse cx="41.0" cy="-9.8" rx="10.3" ry="6.4" transform="rotate(73 41.0 -9.8)"/><ellipse cx="41.0" cy="150.2" rx="10.3" ry="6.4" transform="rotate(73 41.0 150.2)"/><ellipse cx="19.0" cy="39.4" rx="9.9" ry="6.7" transform="rotate(92 19.0 39.4)"/><ellipse cx="147.8" cy="5.1" rx="9.6" ry="6.4" transform="rotate(45 147.8 5.1)"/><ellipse cx="147.8" cy="165.1" rx="9.6" ry="6.4" transform="rotate(45 147.8 165.1)"/><ellipse cx="-3.8" cy="72.6" rx="8.7" ry="7.3" transform="rotate(86 -3.8 72.6)"/><ellipse cx="156.2" cy="72.6" rx="8.7" ry="7.3" transform="rotate(86 156.2 72.6)"/><ellipse cx="100.3" cy="79.9" rx="8.2" ry="5.7" transform="rotate(49 100.3 79.9)"/><ellipse cx="10.1" cy="127.2" rx="8.2" ry="7.0" transform="rotate(6 10.1 127.2)"/><ellipse cx="58.1" cy="112.7" rx="8.0" ry="6.7" transform="rotate(139 58.1 112.7)"/><ellipse cx="-6.9" cy="54.4" rx="7.6" ry="7.6" transform="rotate(85 -6.9 54.4)"/><ellipse cx="153.1" cy="54.4" rx="7.6" ry="7.6" transform="rotate(85 153.1 54.4)"/><ellipse cx="52.1" cy="43.8" rx="8.0" ry="6.8" transform="rotate(121 52.1 43.8)"/><ellipse cx="56.0" cy="134.9" rx="10.0" ry="7.2" transform="rotate(176 56.0 134.9)"/><ellipse cx="82.9" cy="84.7" rx="7.6" ry="7.6" transform="rotate(169 82.9 84.7)"/><ellipse cx="45.3" cy="12.6" rx="9.3" ry="6.5" transform="rotate(111 45.3 12.6)"/><ellipse cx="66.5" cy="56.2" rx="9.3" ry="5.7" transform="rotate(37 66.5 56.2)"/><ellipse cx="92.9" cy="-6.7" rx="9.9" ry="6.5" transform="rotate(146 92.9 -6.7)"/><ellipse cx="92.9" cy="153.3" rx="9.9" ry="6.5" transform="rotate(146 92.9 153.3)"/><ellipse cx="31.9" cy="21.3" rx="7.6" ry="7.3" transform="rotate(119 31.9 21.3)"/><ellipse cx="100.7" cy="142.6" rx="8.3" ry="6.6" transform="rotate(41 100.7 142.6)"/><ellipse cx="46.9" cy="125.1" rx="9.9" ry="5.5" transform="rotate(96 46.9 125.1)"/><ellipse cx="39.0" cy="75.9" rx="7.1" ry="6.7" transform="rotate(152 39.0 75.9)"/><ellipse cx="142.1" cy="87.3" rx="7.4" ry="7.1" transform="rotate(77 142.1 87.3)"/><ellipse cx="86.1" cy="68.1" rx="8.9" ry="5.6" transform="rotate(132 86.1 68.1)"/><ellipse cx="59.9" cy="8.9" rx="9.4" ry="5.9" transform="rotate(114 59.9 8.9)"/><ellipse cx="59.9" cy="168.9" rx="9.4" ry="5.9" transform="rotate(114 59.9 168.9)"/><ellipse cx="68.7" cy="127.1" rx="9.6" ry="5.7" transform="rotate(164 68.7 127.1)"/><ellipse cx="115.6" cy="57.3" rx="8.0" ry="7.1" transform="rotate(173 115.6 57.3)"/><ellipse cx="6.3" cy="142.3" rx="8.7" ry="7.4" transform="rotate(0 6.3 142.3)"/><ellipse cx="166.3" cy="142.3" rx="8.7" ry="7.4" transform="rotate(0 166.3 142.3)"/><ellipse cx="120.1" cy="107.5" rx="7.7" ry="7.1" transform="rotate(62 120.1 107.5)"/><ellipse cx="83.0" cy="56.0" rx="7.3" ry="5.7" transform="rotate(162 83.0 56.0)"/><ellipse cx="9.8" cy="112.1" rx="7.2" ry="6.0" transform="rotate(51 9.8 112.1)"/><ellipse cx="8.4" cy="-3.5" rx="7.1" ry="6.9" transform="rotate(87 8.4 -3.5)"/><ellipse cx="8.4" cy="156.5" rx="7.1" ry="6.9" transform="rotate(87 8.4 156.5)"/><ellipse cx="145.6" cy="98.2" rx="8.4" ry="5.8" transform="rotate(124 145.6 98.2)"/><ellipse cx="100.2" cy="102.4" rx="8.9" ry="6.5" transform="rotate(42 100.2 102.4)"/><ellipse cx="14.9" cy="24.3" rx="9.2" ry="5.8" transform="rotate(136 14.9 24.3)"/></g><g id="GCd"><circle cx="130.6" cy="128.6" r="2.2"/><circle cx="147.9" cy="153.1" r="2.1"/><circle cx="154.4" cy="16.5" r="1.6"/><circle cx="10.3" cy="33.0" r="1.9"/><circle cx="73.4" cy="108.9" r="2.2"/><circle cx="13.4" cy="64.5" r="2.0"/><circle cx="60.0" cy="18.8" r="2.1"/><circle cx="59.9" cy="109.4" r="2.0"/><circle cx="154.0" cy="151.2" r="1.6"/><circle cx="121.6" cy="115.4" r="1.8"/><circle cx="18.7" cy="76.6" r="1.9"/><circle cx="118.0" cy="146.9" r="1.9"/></g><g id="GD0"><ellipse cx="-3.4" cy="73.5" rx="3.9" ry="3.0" transform="rotate(88 -3.4 73.5)"/><ellipse cx="96.6" cy="73.5" rx="3.9" ry="3.0" transform="rotate(88 96.6 73.5)"/><ellipse cx="19.7" cy="63.5" rx="4.1" ry="3.9" transform="rotate(106 19.7 63.5)"/><ellipse cx="82.8" cy="91.3" rx="4.2" ry="4.0" transform="rotate(35 82.8 91.3)"/><ellipse cx="63.3" cy="24.5" rx="4.1" ry="3.4" transform="rotate(22 63.3 24.5)"/><ellipse cx="11.7" cy="66.3" rx="3.9" ry="3.2" transform="rotate(87 11.7 66.3)"/><ellipse cx="59.7" cy="83.4" rx="4.8" ry="3.6" transform="rotate(34 59.7 83.4)"/><ellipse cx="94.1" cy="19.2" rx="4.5" ry="3.5" transform="rotate(130 94.1 19.2)"/><ellipse cx="69.4" cy="26.6" rx="4.4" ry="4.2" transform="rotate(131 69.4 26.6)"/><ellipse cx="93.7" cy="29.1" rx="3.5" ry="3.4" transform="rotate(10 93.7 29.1)"/><ellipse cx="90.8" cy="89.3" rx="4.1" ry="3.8" transform="rotate(142 90.8 89.3)"/><ellipse cx="44.4" cy="37.1" rx="4.5" ry="3.3" transform="rotate(109 44.4 37.1)"/><ellipse cx="53.6" cy="3.3" rx="3.7" ry="3.4" transform="rotate(9 53.6 3.3)"/><ellipse cx="53.6" cy="103.3" rx="3.7" ry="3.4" transform="rotate(9 53.6 103.3)"/><ellipse cx="70.1" cy="34.3" rx="3.9" ry="3.5" transform="rotate(21 70.1 34.3)"/><ellipse cx="46.4" cy="49.5" rx="3.5" ry="3.1" transform="rotate(94 46.4 49.5)"/><ellipse cx="27.2" cy="18.5" rx="3.8" ry="3.6" transform="rotate(24 27.2 18.5)"/><ellipse cx="6.1" cy="4.0" rx="4.6" ry="3.1" transform="rotate(128 6.1 4.0)"/><ellipse cx="6.1" cy="104.0" rx="4.6" ry="3.1" transform="rotate(128 6.1 104.0)"/><ellipse cx="40.7" cy="76.4" rx="4.5" ry="4.1" transform="rotate(17 40.7 76.4)"/><ellipse cx="72.4" cy="86.4" rx="3.8" ry="3.7" transform="rotate(22 72.4 86.4)"/><ellipse cx="84.1" cy="-0.7" rx="4.1" ry="3.8" transform="rotate(46 84.1 -0.7)"/><ellipse cx="84.1" cy="99.3" rx="4.1" ry="3.8" transform="rotate(46 84.1 99.3)"/><ellipse cx="20.2" cy="85.9" rx="4.6" ry="3.9" transform="rotate(39 20.2 85.9)"/><ellipse cx="77.7" cy="9.4" rx="4.4" ry="3.0" transform="rotate(66 77.7 9.4)"/><ellipse cx="25.2" cy="13.3" rx="4.0" ry="4.0" transform="rotate(65 25.2 13.3)"/><ellipse cx="39.0" cy="27.3" rx="4.5" ry="4.2" transform="rotate(47 39.0 27.3)"/><ellipse cx="10.9" cy="60.3" rx="4.6" ry="3.2" transform="rotate(91 10.9 60.3)"/><ellipse cx="78.2" cy="76.5" rx="4.9" ry="3.1" transform="rotate(150 78.2 76.5)"/><ellipse cx="73.4" cy="-2.9" rx="4.4" ry="4.1" transform="rotate(49 73.4 -2.9)"/><ellipse cx="73.4" cy="97.1" rx="4.4" ry="4.1" transform="rotate(49 73.4 97.1)"/><ellipse cx="6.1" cy="65.4" rx="4.2" ry="3.8" transform="rotate(57 6.1 65.4)"/><ellipse cx="14.2" cy="75.6" rx="4.0" ry="3.9" transform="rotate(134 14.2 75.6)"/><ellipse cx="7.0" cy="12.1" rx="4.5" ry="4.0" transform="rotate(178 7.0 12.1)"/><ellipse cx="54.5" cy="88.4" rx="4.2" ry="4.1" transform="rotate(129 54.5 88.4)"/><ellipse cx="59.4" cy="9.0" rx="4.8" ry="3.4" transform="rotate(33 59.4 9.0)"/><ellipse cx="47.8" cy="63.9" rx="4.2" ry="4.1" transform="rotate(112 47.8 63.9)"/><ellipse cx="64.3" cy="93.8" rx="3.6" ry="3.5" transform="rotate(147 64.3 93.8)"/><ellipse cx="61.5" cy="19.3" rx="3.7" ry="3.1" transform="rotate(120 61.5 19.3)"/><ellipse cx="39.1" cy="58.8" rx="4.1" ry="3.9" transform="rotate(49 39.1 58.8)"/><ellipse cx="57.0" cy="22.6" rx="3.4" ry="3.3" transform="rotate(177 57.0 22.6)"/><ellipse cx="57.6" cy="36.6" rx="4.2" ry="4.1" transform="rotate(144 57.6 36.6)"/><ellipse cx="-0.2" cy="16.1" rx="3.7" ry="3.6" transform="rotate(73 -0.2 16.1)"/><ellipse cx="99.8" cy="16.1" rx="3.7" ry="3.6" transform="rotate(73 99.8 16.1)"/><ellipse cx="47.0" cy="20.6" rx="5.0" ry="3.1" transform="rotate(9 47.0 20.6)"/><ellipse cx="48.2" cy="33.0" rx="4.5" ry="3.5" transform="rotate(138 48.2 33.0)"/><ellipse cx="8.9" cy="86.7" rx="4.4" ry="3.6" transform="rotate(31 8.9 86.7)"/><ellipse cx="36.3" cy="35.7" rx="4.1" ry="3.6" transform="rotate(150 36.3 35.7)"/><ellipse cx="60.5" cy="65.3" rx="3.8" ry="3.2" transform="rotate(84 60.5 65.3)"/><ellipse cx="-3.2" cy="83.7" rx="3.5" ry="3.5" transform="rotate(63 -3.2 83.7)"/><ellipse cx="96.8" cy="83.7" rx="3.5" ry="3.5" transform="rotate(63 96.8 83.7)"/><ellipse cx="74.3" cy="52.9" rx="4.0" ry="3.1" transform="rotate(109 74.3 52.9)"/><ellipse cx="65.5" cy="85.3" rx="4.4" ry="3.6" transform="rotate(45 65.5 85.3)"/><ellipse cx="22.5" cy="7.1" rx="4.3" ry="3.7" transform="rotate(10 22.5 7.1)"/><ellipse cx="9.9" cy="18.8" rx="4.2" ry="4.1" transform="rotate(44 9.9 18.8)"/><ellipse cx="69.4" cy="70.6" rx="4.6" ry="3.7" transform="rotate(36 69.4 70.6)"/><ellipse cx="0.4" cy="47.4" rx="4.4" ry="4.2" transform="rotate(63 0.4 47.4)"/><ellipse cx="100.4" cy="47.4" rx="4.4" ry="4.2" transform="rotate(63 100.4 47.4)"/><ellipse cx="27.5" cy="85.2" rx="4.9" ry="3.3" transform="rotate(19 27.5 85.2)"/><ellipse cx="27.8" cy="56.4" rx="4.0" ry="3.4" transform="rotate(108 27.8 56.4)"/><ellipse cx="63.6" cy="30.0" rx="3.6" ry="3.3" transform="rotate(20 63.6 30.0)"/><ellipse cx="1.3" cy="87.5" rx="4.5" ry="3.2" transform="rotate(6 1.3 87.5)"/><ellipse cx="101.3" cy="87.5" rx="4.5" ry="3.2" transform="rotate(6 101.3 87.5)"/><ellipse cx="27.7" cy="29.7" rx="3.8" ry="3.4" transform="rotate(104 27.7 29.7)"/><ellipse cx="55.1" cy="47.2" rx="4.7" ry="3.1" transform="rotate(160 55.1 47.2)"/><ellipse cx="55.9" cy="71.7" rx="4.2" ry="3.9" transform="rotate(169 55.9 71.7)"/><ellipse cx="63.3" cy="40.6" rx="4.7" ry="4.2" transform="rotate(50 63.3 40.6)"/><ellipse cx="17.5" cy="42.0" rx="3.9" ry="3.5" transform="rotate(52 17.5 42.0)"/><ellipse cx="55.1" cy="17.0" rx="4.3" ry="4.2" transform="rotate(45 55.1 17.0)"/><ellipse cx="80.4" cy="44.2" rx="4.3" ry="3.9" transform="rotate(142 80.4 44.2)"/></g><g id="GD1"><ellipse cx="79.3" cy="82.2" rx="4.2" ry="3.3" transform="rotate(0 79.3 82.2)"/><ellipse cx="73.0" cy="41.4" rx="4.3" ry="3.8" transform="rotate(35 73.0 41.4)"/><ellipse cx="66.3" cy="61.0" rx="3.5" ry="3.5" transform="rotate(178 66.3 61.0)"/><ellipse cx="1.7" cy="33.3" rx="4.8" ry="3.7" transform="rotate(55 1.7 33.3)"/><ellipse cx="101.7" cy="33.3" rx="4.8" ry="3.7" transform="rotate(55 101.7 33.3)"/><ellipse cx="52.7" cy="28.9" rx="4.5" ry="3.6" transform="rotate(33 52.7 28.9)"/><ellipse cx="9.6" cy="44.1" rx="4.7" ry="3.1" transform="rotate(109 9.6 44.1)"/><ellipse cx="44.7" cy="83.1" rx="4.7" ry="3.6" transform="rotate(85 44.7 83.1)"/><ellipse cx="1.9" cy="53.8" rx="4.0" ry="3.8" transform="rotate(34 1.9 53.8)"/><ellipse cx="101.9" cy="53.8" rx="4.0" ry="3.8" transform="rotate(34 101.9 53.8)"/><ellipse cx="32.9" cy="51.7" rx="5.0" ry="4.1" transform="rotate(76 32.9 51.7)"/><ellipse cx="26.8" cy="47.5" rx="4.2" ry="3.2" transform="rotate(68 26.8 47.5)"/><ellipse cx="63.4" cy="46.7" rx="4.0" ry="3.2" transform="rotate(164 63.4 46.7)"/><ellipse cx="61.0" cy="57.0" rx="4.5" ry="3.4" transform="rotate(177 61.0 57.0)"/><ellipse cx="85.3" cy="6.2" rx="4.1" ry="3.7" transform="rotate(110 85.3 6.2)"/><ellipse cx="23.2" cy="37.1" rx="4.9" ry="3.8" transform="rotate(44 23.2 37.1)"/><ellipse cx="70.1" cy="12.7" rx="4.7" ry="3.1" transform="rotate(111 70.1 12.7)"/><ellipse cx="81.8" cy="18.9" rx="4.9" ry="3.6" transform="rotate(79 81.8 18.9)"/><ellipse cx="47.7" cy="57.9" rx="4.7" ry="3.4" transform="rotate(65 47.7 57.9)"/><ellipse cx="94.0" cy="8.4" rx="4.8" ry="3.3" transform="rotate(174 94.0 8.4)"/><ellipse cx="18.6" cy="70.8" rx="3.9" ry="3.7" transform="rotate(91 18.6 70.8)"/><ellipse cx="84.5" cy="53.1" rx="4.8" ry="3.2" transform="rotate(42 84.5 53.1)"/><ellipse cx="25.5" cy="79.1" rx="4.6" ry="4.2" transform="rotate(127 25.5 79.1)"/><ellipse cx="34.1" cy="68.6" rx="5.0" ry="3.4" transform="rotate(5 34.1 68.6)"/><ellipse cx="18.2" cy="-2.3" rx="4.0" ry="3.7" transform="rotate(101 18.2 -2.3)"/><ellipse cx="18.2" cy="97.7" rx="4.0" ry="3.7" transform="rotate(101 18.2 97.7)"/><ellipse cx="92.8" cy="0.3" rx="3.7" ry="3.2" transform="rotate(71 92.8 0.3)"/><ellipse cx="92.8" cy="100.3" rx="3.7" ry="3.2" transform="rotate(71 92.8 100.3)"/><ellipse cx="75.3" cy="91.3" rx="4.1" ry="3.6" transform="rotate(9 75.3 91.3)"/><ellipse cx="24.4" cy="-3.5" rx="3.8" ry="3.2" transform="rotate(86 24.4 -3.5)"/><ellipse cx="24.4" cy="96.5" rx="3.8" ry="3.2" transform="rotate(86 24.4 96.5)"/><ellipse cx="62.2" cy="72.6" rx="4.2" ry="3.6" transform="rotate(35 62.2 72.6)"/><ellipse cx="27.5" cy="72.1" rx="4.0" ry="3.7" transform="rotate(18 27.5 72.1)"/><ellipse cx="37.4" cy="89.3" rx="4.9" ry="3.2" transform="rotate(99 37.4 89.3)"/><ellipse cx="52.7" cy="81.7" rx="4.3" ry="3.3" transform="rotate(152 52.7 81.7)"/><ellipse cx="1.4" cy="21.0" rx="3.9" ry="3.2" transform="rotate(10 1.4 21.0)"/><ellipse cx="101.4" cy="21.0" rx="3.9" ry="3.2" transform="rotate(10 101.4 21.0)"/><ellipse cx="65.6" cy="8.8" rx="4.1" ry="3.7" transform="rotate(111 65.6 8.8)"/><ellipse cx="26.9" cy="63.8" rx="5.0" ry="3.6" transform="rotate(116 26.9 63.8)"/><ellipse cx="17.7" cy="26.3" rx="3.4" ry="3.3" transform="rotate(56 17.7 26.3)"/><ellipse cx="40.3" cy="70.4" rx="4.7" ry="3.1" transform="rotate(21 40.3 70.4)"/><ellipse cx="44.7" cy="25.7" rx="3.9" ry="3.9" transform="rotate(166 44.7 25.7)"/><ellipse cx="64.5" cy="-0.2" rx="4.1" ry="3.4" transform="rotate(94 64.5 -0.2)"/><ellipse cx="64.5" cy="99.8" rx="4.1" ry="3.4" transform="rotate(94 64.5 99.8)"/><ellipse cx="45.4" cy="-0.0" rx="4.1" ry="3.4" transform="rotate(109 45.4 -0.0)"/><ellipse cx="45.4" cy="100.0" rx="4.1" ry="3.4" transform="rotate(109 45.4 100.0)"/><ellipse cx="43.4" cy="5.9" rx="3.9" ry="3.4" transform="rotate(149 43.4 5.9)"/><ellipse cx="3.0" cy="81.6" rx="3.9" ry="3.8" transform="rotate(45 3.0 81.6)"/><ellipse cx="103.0" cy="81.6" rx="3.9" ry="3.8" transform="rotate(45 103.0 81.6)"/><ellipse cx="83.2" cy="38.6" rx="4.5" ry="3.0" transform="rotate(62 83.2 38.6)"/><ellipse cx="86.7" cy="26.9" rx="3.8" ry="3.6" transform="rotate(27 86.7 26.9)"/><ellipse cx="84.1" cy="74.3" rx="4.8" ry="3.1" transform="rotate(36 84.1 74.3)"/><ellipse cx="22.0" cy="21.4" rx="4.3" ry="3.2" transform="rotate(1 22.0 21.4)"/><ellipse cx="10.5" cy="51.2" rx="3.7" ry="3.2" transform="rotate(74 10.5 51.2)"/><ellipse cx="67.2" cy="19.9" rx="4.5" ry="3.3" transform="rotate(54 67.2 19.9)"/><ellipse cx="-1.7" cy="2.7" rx="4.0" ry="3.4" transform="rotate(36 -1.7 2.7)"/><ellipse cx="-1.7" cy="102.7" rx="4.0" ry="3.4" transform="rotate(36 -1.7 102.7)"/><ellipse cx="98.3" cy="2.7" rx="4.0" ry="3.4" transform="rotate(36 98.3 2.7)"/><ellipse cx="98.3" cy="102.7" rx="4.0" ry="3.4" transform="rotate(36 98.3 102.7)"/><ellipse cx="93.3" cy="42.4" rx="4.2" ry="3.1" transform="rotate(92 93.3 42.4)"/><ellipse cx="35.8" cy="18.7" rx="3.5" ry="3.5" transform="rotate(51 35.8 18.7)"/><ellipse cx="4.2" cy="72.4" rx="4.0" ry="3.6" transform="rotate(148 4.2 72.4)"/><ellipse cx="15.8" cy="91.8" rx="4.1" ry="3.2" transform="rotate(160 15.8 91.8)"/><ellipse cx="81.4" cy="31.7" rx="4.1" ry="4.0" transform="rotate(10 81.4 31.7)"/><ellipse cx="27.5" cy="4.2" rx="4.6" ry="3.4" transform="rotate(4 27.5 4.2)"/><ellipse cx="27.5" cy="104.2" rx="4.6" ry="3.4" transform="rotate(4 27.5 104.2)"/><ellipse cx="9.4" cy="80.9" rx="4.6" ry="3.7" transform="rotate(117 9.4 80.9)"/><ellipse cx="12.2" cy="35.1" rx="3.6" ry="3.5" transform="rotate(148 12.2 35.1)"/><ellipse cx="84.8" cy="68.5" rx="3.6" ry="3.6" transform="rotate(177 84.8 68.5)"/><ellipse cx="89.2" cy="48.1" rx="4.1" ry="3.5" transform="rotate(29 89.2 48.1)"/></g><g id="GDd"><circle cx="52.7" cy="71.8" r="1.6"/><circle cx="56.2" cy="18.4" r="1.1"/><circle cx="2.1" cy="90.2" r="0.9"/><circle cx="86.0" cy="18.6" r="1.0"/><circle cx="26.1" cy="87.6" r="1.4"/><circle cx="63.5" cy="48.0" r="1.0"/><circle cx="21.9" cy="87.3" r="1.3"/><circle cx="92.8" cy="16.0" r="1.0"/><circle cx="57.5" cy="19.2" r="1.0"/><circle cx="80.3" cy="18.6" r="1.5"/><circle cx="60.4" cy="93.2" r="1.6"/><circle cx="79.3" cy="87.5" r="1.3"/><circle cx="20.2" cy="29.7" r="1.6"/><circle cx="26.3" cy="14.7" r="1.5"/><circle cx="74.5" cy="37.3" r="1.0"/><circle cx="74.6" cy="23.1" r="1.4"/><circle cx="12.3" cy="60.3" r="1.1"/><circle cx="68.4" cy="0.3" r="1.2"/><circle cx="38.1" cy="93.9" r="1.2"/><circle cx="82.5" cy="53.4" r="1.4"/><circle cx="64.7" cy="45.4" r="0.9"/><circle cx="4.5" cy="98.4" r="1.3"/><circle cx="58.1" cy="48.3" r="1.2"/><circle cx="71.3" cy="79.4" r="1.3"/><circle cx="92.0" cy="45.8" r="1.1"/></g><pattern id="pP1" patternUnits="userSpaceOnUse" x="1266" y="63" width="160" height="160"><use href="#GA0" fill="rgb(100,138,196)"/><use href="#GA1" fill="rgb(84,120,182)"/><use href="#GAd" fill="rgb(150,78,28)"/></pattern><pattern id="pP2" patternUnits="userSpaceOnUse" x="1300" y="280" width="160" height="160"><use href="#GA0" fill="rgb(112,146,198)"/><use href="#GA1" fill="rgb(96,132,190)"/><use href="#GAd" fill="rgb(150,78,28)"/></pattern><pattern id="pP3" patternUnits="userSpaceOnUse" x="1230" y="470" width="160" height="160"><use href="#GA0" fill="rgb(106,142,198)"/><use href="#GA1" fill="rgb(90,126,186)"/><use href="#GAd" fill="rgb(150,78,28)"/></pattern><filter id="f19" x="0" y="0" width="1" height="1" color-interpolation-filters="sRGB"><feTurbulence type="fractalNoise" baseFrequency="0.05" numOctaves="2" seed="21"/><feColorMatrix type="matrix" values="0 0 0 0 0.784 0 0 0 0 0.627 0 0 0 0 0.510 8 0 0 0 -4.2"/></filter><filter id="f20" x="0" y="0" width="1" height="1" color-interpolation-filters="sRGB"><feTurbulence type="fractalNoise" baseFrequency="0.12" numOctaves="2" seed="22"/><feColorMatrix type="matrix" values="0 0 0 0 0.471 0 0 0 0 0.588 0 0 0 0 0.784 12 0 0 0 -6.9"/></filter><filter id="f21" x="0" y="0" width="1" height="1" color-interpolation-filters="sRGB"><feTurbulence type="fractalNoise" baseFrequency="0.05" numOctaves="2" seed="23"/><feColorMatrix type="matrix" values="0 0 0 0 0.784 0 0 0 0 0.627 0 0 0 0 0.510 8 0 0 0 -4.2"/></filter><filter id="f22" x="0" y="0" width="1" height="1" color-interpolation-filters="sRGB"><feTurbulence type="fractalNoise" baseFrequency="0.12" numOctaves="2" seed="24"/><feColorMatrix type="matrix" values="0 0 0 0 0.471 0 0 0 0 0.588 0 0 0 0 0.784 12 0 0 0 -6.9"/></filter><filter id="f23" x="0" y="0" width="1" height="1" color-interpolation-filters="sRGB"><feTurbulence type="fractalNoise" baseFrequency="0.05" numOctaves="2" seed="25"/><feColorMatrix type="matrix" values="0 0 0 0 0.784 0 0 0 0 0.627 0 0 0 0 0.510 8 0 0 0 -4.2"/></filter><filter id="f24" x="0" y="0" width="1" height="1" color-interpolation-filters="sRGB"><feTurbulence type="fractalNoise" baseFrequency="0.12" numOctaves="2" seed="26"/><feColorMatrix type="matrix" values="0 0 0 0 0.471 0 0 0 0 0.588 0 0 0 0 0.784 12 0 0 0 -6.9"/></filter><pattern id="pB1" patternUnits="userSpaceOnUse" x="1583" y="63" width="100" height="100"><use href="#GD0" fill="rgb(86,124,194)"/><use href="#GD1" fill="rgb(100,136,198)"/><use href="#GDd" fill="rgb(150,108,85)"/></pattern><pattern id="pB2" patternUnits="userSpaceOnUse" x="1620" y="260" width="100" height="100"><use href="#GD0" fill="rgb(102,124,184)"/><use href="#GD1" fill="rgb(114,134,186)" stroke="rgb(140,85,45)" stroke-width="1.0"/><use href="#GDd" fill="rgb(120,62,28)"/></pattern><pattern id="pB3" patternUnits="userSpaceOnUse" x="1560" y="450" width="100" height="100"><use href="#GD0" fill="rgb(98,124,186)"/><use href="#GD1" fill="rgb(112,134,188)" stroke="rgb(140,88,50)" stroke-width="1.0"/><use href="#GDd" fill="rgb(120,62,28)"/></pattern><filter id="f25" x="0" y="0" width="1" height="1" color-interpolation-filters="sRGB"><feTurbulence type="fractalNoise" baseFrequency="0.18" numOctaves="2" seed="31"/><feColorMatrix type="matrix" values="0 0 0 0 0.588 0 0 0 0 0.431 0 0 0 0 0.333 14 0 0 0 -9.8"/></filter><filter id="f26" x="0" y="0" width="1" height="1" color-interpolation-filters="sRGB"><feTurbulence type="fractalNoise" baseFrequency="0.04" numOctaves="2" seed="33"/><feColorMatrix type="matrix" values="0 0 0 0 0.627 0 0 0 0 0.647 0 0 0 0 0.784 8 0 0 0 -4.4"/></filter><filter id="f27" x="0" y="0" width="1" height="1" color-interpolation-filters="sRGB"><feTurbulence type="fractalNoise" baseFrequency="0.2" numOctaves="2" seed="34"/><feColorMatrix type="matrix" values="0 0 0 0 0.510 0 0 0 0 0.282 0 0 0 0 0.137 14 0 0 0 -9.2"/></filter><filter id="f28" x="0" y="0" width="1" height="1" color-interpolation-filters="sRGB"><feTurbulence type="fractalNoise" baseFrequency="0.045" numOctaves="2" seed="35"/><feColorMatrix type="matrix" values="0 0 0 0 0.510 0 0 0 0 0.580 0 0 0 0 0.765 8 0 0 0 -4.0"/></filter><filter id="f29" x="0" y="0" width="1" height="1" color-interpolation-filters="sRGB"><feTurbulence type="fractalNoise" baseFrequency="0.2" numOctaves="2" seed="36"/><feColorMatrix type="matrix" values="0 0 0 0 0.510 0 0 0 0 0.294 0 0 0 0 0.157 14 0 0 0 -9.4"/></filter><pattern id="pD1" patternUnits="userSpaceOnUse" x="941" y="800" width="100" height="100"><use href="#GD0" fill="rgb(96,132,198)"/><use href="#GD1" fill="rgb(72,110,184)"/><use href="#GDd" fill="rgb(90,120,185)"/></pattern><pattern id="pD2" patternUnits="userSpaceOnUse" x="1330" y="780" width="100" height="100"><use href="#GD0" fill="rgb(98,132,196)"/><use href="#GD1" fill="rgb(76,112,182)"/><use href="#GDd" fill="rgb(90,120,185)"/></pattern><pattern id="pD3" patternUnits="userSpaceOnUse" x="941" y="1030" width="160" height="160"><use href="#GC0" fill="rgb(116,136,190)"/><use href="#GC1" fill="rgb(124,134,178)" stroke="rgb(172,110,58)" stroke-width="2.2"/><use href="#GCd" fill="rgb(150,90,45)"/></pattern><pattern id="pD4" patternUnits="userSpaceOnUse" x="1348" y="1030" width="160" height="160"><use href="#GC0" fill="rgb(124,130,174)" stroke="rgb(140,72,28)" stroke-width="2.4"/><use href="#GC1" fill="rgb(136,122,150)"/><use href="#GCd" fill="rgb(110,55,20)"/></pattern><filter id="f30" x="0" y="0" width="1" height="1" color-interpolation-filters="sRGB"><feTurbulence type="fractalNoise" baseFrequency="0.2" numOctaves="2" seed="41"/><feColorMatrix type="matrix" values="0 0 0 0 0.667 0 0 0 0 0.471 0 0 0 0 0.353 14 0 0 0 -10.2"/></filter><filter id="f31" x="0" y="0" width="1" height="1" color-interpolation-filters="sRGB"><feTurbulence type="fractalNoise" baseFrequency="0.2" numOctaves="2" seed="43"/><feColorMatrix type="matrix" values="0 0 0 0 0.667 0 0 0 0 0.463 0 0 0 0 0.333 14 0 0 0 -10.0"/></filter><filter id="f32" x="0" y="0" width="1" height="1" color-interpolation-filters="sRGB"><feTurbulence type="fractalNoise" baseFrequency="0.05" numOctaves="2" seed="45"/><feColorMatrix type="matrix" values="0 0 0 0 0.706 0 0 0 0 0.455 0 0 0 0 0.235 9 0 0 0 -4.45"/></filter><filter id="f33" x="0" y="0" width="1" height="1" color-interpolation-filters="sRGB"><feTurbulence type="fractalNoise" baseFrequency="0.12" numOctaves="2" seed="46"/><feColorMatrix type="matrix" values="0 0 0 0 0.627 0 0 0 0 0.373 0 0 0 0 0.176 12 0 0 0 -7.2"/></filter><filter id="f34" x="0" y="0" width="1" height="1" color-interpolation-filters="sRGB"><feTurbulence type="fractalNoise" baseFrequency="0.05" numOctaves="2" seed="47"/><feColorMatrix type="matrix" values="0 0 0 0 0.502 0 0 0 0 0.518 0 0 0 0 0.667 9 0 0 0 -4.9"/></filter><filter id="f35" x="0" y="0" width="1" height="1" color-interpolation-filters="sRGB"><feTurbulence type="fractalNoise" baseFrequency="0.12" numOctaves="2" seed="48"/><feColorMatrix type="matrix" values="0 0 0 0 0.471 0 0 0 0 0.235 0 0 0 0 0.086 12 0 0 0 -7.4"/></filter><pattern id="pF1" patternUnits="userSpaceOnUse" x="938" y="1437" width="100" height="100"><use href="#GB0" fill="rgb(74,110,186)"/><use href="#GB1" fill="rgb(90,124,192)"/><use href="#GBd" fill="rgb(60,90,165)"/></pattern><pattern id="pF2" patternUnits="userSpaceOnUse" x="1353" y="1437" width="100" height="100"><use href="#GB0" fill="rgb(88,124,192)"/><use href="#GB1" fill="rgb(102,134,194)"/><use href="#GBd" fill="rgb(150,95,55)"/></pattern><pattern id="pF3" patternUnits="userSpaceOnUse" x="938" y="1667" width="100" height="100"><use href="#GB0" fill="rgb(92,126,192)"/><use href="#GB1" fill="rgb(104,134,194)" stroke="rgb(176,112,58)" stroke-width="1.1"/><use href="#GBd" fill="rgb(165,100,50)"/></pattern><pattern id="pF4" patternUnits="userSpaceOnUse" x="1353" y="1667" width="100" height="100"><use href="#GB0" fill="rgb(90,120,186)"/><use href="#GB1" fill="rgb(104,128,184)" stroke="rgb(150,95,60)" stroke-width="0.9"/><use href="#GBd" fill="rgb(150,90,50)"/></pattern><filter id="f36" x="0" y="0" width="1" height="1" color-interpolation-filters="sRGB"><feTurbulence type="fractalNoise" baseFrequency="0.05" numOctaves="2" seed="51"/><feColorMatrix type="matrix" values="0 0 0 0 0.392 0 0 0 0 0.471 0 0 0 0 0.667 8 0 0 0 -4.4"/></filter><filter id="f37" x="0" y="0" width="1" height="1" color-interpolation-filters="sRGB"><feTurbulence type="fractalNoise" baseFrequency="0.25" numOctaves="2" seed="52"/><feColorMatrix type="matrix" values="0 0 0 0 0.588 0 0 0 0 0.431 0 0 0 0 0.373 14 0 0 0 -10.0"/></filter><filter id="f38" x="0" y="0" width="1" height="1" color-interpolation-filters="sRGB"><feTurbulence type="fractalNoise" baseFrequency="0.05" numOctaves="2" seed="53"/><feColorMatrix type="matrix" values="0 0 0 0 0.431 0 0 0 0 0.510 0 0 0 0 0.706 8 0 0 0 -4.4"/></filter><filter id="f39" x="0" y="0" width="1" height="1" color-interpolation-filters="sRGB"><feTurbulence type="fractalNoise" baseFrequency="0.25" numOctaves="2" seed="54"/><feColorMatrix type="matrix" values="0 0 0 0 0.627 0 0 0 0 0.412 0 0 0 0 0.255 14 0 0 0 -9.6"/></filter><filter id="f40" x="0" y="0" width="1" height="1" color-interpolation-filters="sRGB"><feTurbulence type="fractalNoise" baseFrequency="0.05" numOctaves="2" seed="55"/><feColorMatrix type="matrix" values="0 0 0 0 0.745 0 0 0 0 0.588 0 0 0 0 0.471 8 0 0 0 -4.2"/></filter><filter id="f41" x="0" y="0" width="1" height="1" color-interpolation-filters="sRGB"><feTurbulence type="fractalNoise" baseFrequency="0.2" numOctaves="2" seed="56"/><feColorMatrix type="matrix" values="0 0 0 0 0.686 0 0 0 0 0.431 0 0 0 0 0.216 14 0 0 0 -9.0"/></filter><filter id="f42" x="0" y="0" width="1" height="1" color-interpolation-filters="sRGB"><feTurbulence type="fractalNoise" baseFrequency="0.05" numOctaves="2" seed="57"/><feColorMatrix type="matrix" values="0 0 0 0 0.647 0 0 0 0 0.463 0 0 0 0 0.373 8 0 0 0 -4.3"/></filter><filter id="f43" x="0" y="0" width="1" height="1" color-interpolation-filters="sRGB"><feTurbulence type="fractalNoise" baseFrequency="0.2" numOctaves="2" seed="58"/><feColorMatrix type="matrix" values="0 0 0 0 0.647 0 0 0 0 0.392 0 0 0 0 0.216 14 0 0 0 -9.2"/></filter></defs>
<rect width="1887" height="2550" fill="#fff"/>
<text x="-1.5" y="42.8" font-size="58" text-anchor="start" fill="#231f20" stroke="#231f20" stroke-width="0.45" stroke-linejoin="round">a</text>
<text x="419.6" y="79.3" font-size="32.8" text-anchor="middle" fill="#000" stroke="#000" stroke-width="0.45" stroke-linejoin="round">TMD8</text>
<line x1="322.8" y1="502.1" x2="322.8" y2="495.7" stroke="#1030ff" stroke-width="2.6" stroke-linecap="butt"/>
<line x1="316.2" y1="495.7" x2="329.2" y2="495.7" stroke="#1030ff" stroke-width="3.0" stroke-linecap="butt"/>
<line x1="372.9" y1="440.0" x2="372.9" y2="417.8" stroke="#1030ff" stroke-width="2.6" stroke-linecap="butt"/>
<line x1="366.4" y1="417.8" x2="379.4" y2="417.8" stroke="#1030ff" stroke-width="3.0" stroke-linecap="butt"/>
<line x1="423.1" y1="379.3" x2="423.1" y2="342.4" stroke="#1030ff" stroke-width="2.6" stroke-linecap="butt"/>
<line x1="416.6" y1="342.4" x2="429.6" y2="342.4" stroke="#1030ff" stroke-width="3.0" stroke-linecap="butt"/>
<line x1="473.2" y1="289.6" x2="473.2" y2="227.0" stroke="#1030ff" stroke-width="2.6" stroke-linecap="butt"/>
<line x1="466.7" y1="227.0" x2="479.7" y2="227.0" stroke="#1030ff" stroke-width="3.0" stroke-linecap="butt"/>
<polyline points="172.3,549.9 222.5,539.5 272.6,528.3 322.8,502.1 372.9,440.0 423.1,379.3 473.2,289.6" fill="none" stroke="#1030ff" stroke-width="5.5" stroke-linejoin="round" stroke-linecap="round"/>
<polygon points="167.3,546.1 177.3,546.1 172.3,554.6" fill="#1030ff"/>
<polygon points="217.5,535.8 227.5,535.8 222.5,544.3" fill="#1030ff"/>
<polygon points="267.6,524.5 277.6,524.5 272.6,533.0" fill="#1030ff"/>
<polygon points="317.8,498.3 327.8,498.3 322.8,506.8" fill="#1030ff"/>
<polygon points="367.9,436.3 377.9,436.3 372.9,444.8" fill="#1030ff"/>
<polygon points="418.1,375.5 428.1,375.5 423.1,384.0" fill="#1030ff"/>
<polygon points="468.2,285.9 478.2,285.9 473.2,294.4" fill="#1030ff"/>
<line x1="222.5" y1="537.3" x2="222.5" y2="535.6" stroke="#000000" stroke-width="2.6" stroke-linecap="butt"/>
<line x1="216.0" y1="535.6" x2="229.0" y2="535.6" stroke="#000000" stroke-width="3.0" stroke-linecap="butt"/>
<line x1="272.6" y1="515.1" x2="272.6" y2="512.9" stroke="#000000" stroke-width="2.6" stroke-linecap="butt"/>
<line x1="266.1" y1="512.9" x2="279.1" y2="512.9" stroke="#000000" stroke-width="3.0" stroke-linecap="butt"/>
<line x1="322.8" y1="489.1" x2="322.8" y2="480.3" stroke="#000000" stroke-width="2.6" stroke-linecap="butt"/>
<line x1="316.2" y1="480.3" x2="329.2" y2="480.3" stroke="#000000" stroke-width="3.0" stroke-linecap="butt"/>
<line x1="372.9" y1="431.4" x2="372.9" y2="410.9" stroke="#000000" stroke-width="2.6" stroke-linecap="butt"/>
<line x1="366.4" y1="410.9" x2="379.4" y2="410.9" stroke="#000000" stroke-width="3.0" stroke-linecap="butt"/>
<line x1="423.1" y1="358.6" x2="423.1" y2="320.0" stroke="#000000" stroke-width="2.6" stroke-linecap="butt"/>
<line x1="416.6" y1="320.0" x2="429.6" y2="320.0" stroke="#000000" stroke-width="3.0" stroke-linecap="butt"/>
<line x1="473.2" y1="248.0" x2="473.2" y2="216.9" stroke="#000000" stroke-width="2.6" stroke-linecap="butt"/>
<line x1="466.7" y1="216.9" x2="479.7" y2="216.9" stroke="#000000" stroke-width="3.0" stroke-linecap="butt"/>
<polyline points="172.3,549.9 222.5,537.3 272.6,515.1 322.8,489.1 372.9,431.4 423.1,358.6 473.2,248.0" fill="none" stroke="#000000" stroke-width="5.5" stroke-linejoin="round" stroke-linecap="round"/>
<circle cx="172.3" cy="549.9" r="5.0" fill="#000000"/>
<circle cx="222.5" cy="537.3" r="5.0" fill="#000000"/>
<circle cx="272.6" cy="515.1" r="5.0" fill="#000000"/>
<circle cx="322.8" cy="489.1" r="5.0" fill="#000000"/>
<circle cx="372.9" cy="431.4" r="5.0" fill="#000000"/>
<circle cx="423.1" cy="358.6" r="5.0" fill="#000000"/>
<circle cx="473.2" cy="248.0" r="5.0" fill="#000000"/>
<line x1="272.6" y1="518.4" x2="272.6" y2="513.7" stroke="#0b8a0b" stroke-width="2.6" stroke-linecap="butt"/>
<line x1="266.1" y1="513.7" x2="279.1" y2="513.7" stroke="#0b8a0b" stroke-width="3.0" stroke-linecap="butt"/>
<line x1="322.8" y1="491.1" x2="322.8" y2="472.6" stroke="#0b8a0b" stroke-width="2.6" stroke-linecap="butt"/>
<line x1="316.2" y1="472.6" x2="329.2" y2="472.6" stroke="#0b8a0b" stroke-width="3.0" stroke-linecap="butt"/>
<line x1="372.9" y1="418.3" x2="372.9" y2="381.1" stroke="#0b8a0b" stroke-width="2.6" stroke-linecap="butt"/>
<line x1="366.4" y1="381.1" x2="379.4" y2="381.1" stroke="#0b8a0b" stroke-width="3.0" stroke-linecap="butt"/>
<line x1="423.1" y1="365.5" x2="423.1" y2="301.2" stroke="#0b8a0b" stroke-width="2.6" stroke-linecap="butt"/>
<line x1="416.6" y1="301.2" x2="429.6" y2="301.2" stroke="#0b8a0b" stroke-width="3.0" stroke-linecap="butt"/>
<line x1="473.2" y1="279.5" x2="473.2" y2="203.6" stroke="#0b8a0b" stroke-width="2.6" stroke-linecap="butt"/>
<line x1="466.7" y1="203.6" x2="479.7" y2="203.6" stroke="#0b8a0b" stroke-width="3.0" stroke-linecap="butt"/>
<polyline points="172.3,549.9 222.5,538.0 272.6,518.4 322.8,491.1 372.9,418.3 423.1,365.5 473.2,279.5" fill="none" stroke="#0b8a0b" stroke-width="5.5" stroke-linejoin="round" stroke-linecap="round"/>
<polygon points="172.3,543.9 177.7,549.9 172.3,555.9 166.9,549.9" fill="#0b8a0b"/>
<polygon points="222.5,532.0 227.9,538.0 222.5,544.0 217.1,538.0" fill="#0b8a0b"/>
<polygon points="272.6,512.4 278.0,518.4 272.6,524.4 267.2,518.4" fill="#0b8a0b"/>
<polygon points="322.8,485.1 328.1,491.1 322.8,497.1 317.4,491.1" fill="#0b8a0b"/>
<polygon points="372.9,412.3 378.3,418.3 372.9,424.3 367.5,418.3" fill="#0b8a0b"/>
<polygon points="423.1,359.5 428.4,365.5 423.1,371.5 417.7,365.5" fill="#0b8a0b"/>
<polygon points="473.2,273.5 478.6,279.5 473.2,285.5 467.8,279.5" fill="#0b8a0b"/>
<line x1="322.8" y1="517.3" x2="322.8" y2="498.2" stroke="#0a5391" stroke-width="2.6" stroke-linecap="butt"/>
<line x1="316.2" y1="498.2" x2="329.2" y2="498.2" stroke="#0a5391" stroke-width="3.0" stroke-linecap="butt"/>
<line x1="372.9" y1="481.4" x2="372.9" y2="448.5" stroke="#0a5391" stroke-width="2.6" stroke-linecap="butt"/>
<line x1="366.4" y1="448.5" x2="379.4" y2="448.5" stroke="#0a5391" stroke-width="3.0" stroke-linecap="butt"/>
<line x1="423.1" y1="451.5" x2="423.1" y2="409.5" stroke="#0a5391" stroke-width="2.6" stroke-linecap="butt"/>
<line x1="416.6" y1="409.5" x2="429.6" y2="409.5" stroke="#0a5391" stroke-width="3.0" stroke-linecap="butt"/>
<line x1="473.2" y1="418.7" x2="473.2" y2="373.5" stroke="#0a5391" stroke-width="2.6" stroke-linecap="butt"/>
<line x1="466.7" y1="373.5" x2="479.7" y2="373.5" stroke="#0a5391" stroke-width="3.0" stroke-linecap="butt"/>
<line x1="523.4" y1="382.7" x2="523.4" y2="332.3" stroke="#0a5391" stroke-width="2.6" stroke-linecap="butt"/>
<line x1="516.9" y1="332.3" x2="529.9" y2="332.3" stroke="#0a5391" stroke-width="3.0" stroke-linecap="butt"/>
<line x1="573.5" y1="348.2" x2="573.5" y2="293.2" stroke="#0a5391" stroke-width="2.6" stroke-linecap="butt"/>
<line x1="567.0" y1="293.2" x2="580.0" y2="293.2" stroke="#0a5391" stroke-width="3.0" stroke-linecap="butt"/>
<line x1="623.6" y1="294.3" x2="623.6" y2="246.6" stroke="#0a5391" stroke-width="2.6" stroke-linecap="butt"/>
<line x1="617.1" y1="246.6" x2="630.1" y2="246.6" stroke="#0a5391" stroke-width="3.0" stroke-linecap="butt"/>
<polyline points="172.3,549.9 222.5,546.6 272.6,530.1 322.8,517.3 372.9,481.4 423.1,451.5 473.2,418.7 523.4,382.7 573.5,348.2 623.6,294.3" fill="none" stroke="#0a5391" stroke-width="6" stroke-linejoin="round" stroke-linecap="round"/>
<circle cx="172.3" cy="549.9" r="6.8" fill="#0a5391"/>
<circle cx="222.5" cy="546.6" r="6.8" fill="#0a5391"/>
<circle cx="272.6" cy="530.1" r="6.8" fill="#0a5391"/>
<circle cx="322.8" cy="517.3" r="6.8" fill="#0a5391"/>
<circle cx="372.9" cy="481.4" r="6.8" fill="#0a5391"/>
<circle cx="423.1" cy="451.5" r="6.8" fill="#0a5391"/>
<circle cx="473.2" cy="418.7" r="6.8" fill="#0a5391"/>
<circle cx="523.4" cy="382.7" r="6.8" fill="#0a5391"/>
<circle cx="573.5" cy="348.2" r="6.8" fill="#0a5391"/>
<circle cx="623.6" cy="294.3" r="6.8" fill="#0a5391"/>
<line x1="272.6" y1="535.8" x2="272.6" y2="531.7" stroke="#9b3cfb" stroke-width="2.6" stroke-linecap="butt"/>
<line x1="266.1" y1="531.7" x2="279.1" y2="531.7" stroke="#9b3cfb" stroke-width="3.0" stroke-linecap="butt"/>
<line x1="322.8" y1="529.3" x2="322.8" y2="519.5" stroke="#9b3cfb" stroke-width="2.6" stroke-linecap="butt"/>
<line x1="316.2" y1="519.5" x2="329.2" y2="519.5" stroke="#9b3cfb" stroke-width="3.0" stroke-linecap="butt"/>
<line x1="372.9" y1="513.4" x2="372.9" y2="493.3" stroke="#9b3cfb" stroke-width="2.6" stroke-linecap="butt"/>
<line x1="366.4" y1="493.3" x2="379.4" y2="493.3" stroke="#9b3cfb" stroke-width="3.0" stroke-linecap="butt"/>
<line x1="423.1" y1="504.3" x2="423.1" y2="476.9" stroke="#9b3cfb" stroke-width="2.6" stroke-linecap="butt"/>
<line x1="416.6" y1="476.9" x2="429.6" y2="476.9" stroke="#9b3cfb" stroke-width="3.0" stroke-linecap="butt"/>
<line x1="473.2" y1="493.3" x2="473.2" y2="462.3" stroke="#9b3cfb" stroke-width="2.6" stroke-linecap="butt"/>
<line x1="466.7" y1="462.3" x2="479.7" y2="462.3" stroke="#9b3cfb" stroke-width="3.0" stroke-linecap="butt"/>
<line x1="523.4" y1="479.1" x2="523.4" y2="434.4" stroke="#9b3cfb" stroke-width="2.6" stroke-linecap="butt"/>
<line x1="516.9" y1="434.4" x2="529.9" y2="434.4" stroke="#9b3cfb" stroke-width="3.0" stroke-linecap="butt"/>
<line x1="573.5" y1="468.9" x2="573.5" y2="423.3" stroke="#9b3cfb" stroke-width="2.6" stroke-linecap="butt"/>
<line x1="567.0" y1="423.3" x2="580.0" y2="423.3" stroke="#9b3cfb" stroke-width="3.0" stroke-linecap="butt"/>
<line x1="623.6" y1="462.3" x2="623.6" y2="413.1" stroke="#9b3cfb" stroke-width="2.6" stroke-linecap="butt"/>
<line x1="617.1" y1="413.1" x2="630.1" y2="413.1" stroke="#9b3cfb" stroke-width="3.0" stroke-linecap="butt"/>
<line x1="673.8" y1="460.7" x2="673.8" y2="407.9" stroke="#9b3cfb" stroke-width="2.6" stroke-linecap="butt"/>
<line x1="667.3" y1="407.9" x2="680.3" y2="407.9" stroke="#9b3cfb" stroke-width="3.0" stroke-linecap="butt"/>
<polyline points="172.3,549.9 222.5,543.3 272.6,535.8 322.8,529.3 372.9,513.4 423.1,504.3 473.2,493.3 523.4,479.1 573.5,468.9 623.6,462.3 673.8,460.7" fill="none" stroke="#9b3cfb" stroke-width="6" stroke-linejoin="round" stroke-linecap="round"/>
<rect x="165.3" y="542.9" width="14.0" height="14.0" rx="2.1" fill="#9b3cfb"/>
<rect x="215.5" y="536.3" width="14.0" height="14.0" rx="2.1" fill="#9b3cfb"/>
<rect x="265.6" y="528.8" width="14.0" height="14.0" rx="2.1" fill="#9b3cfb"/>
<rect x="315.8" y="522.3" width="14.0" height="14.0" rx="2.1" fill="#9b3cfb"/>
<rect x="365.9" y="506.4" width="14.0" height="14.0" rx="2.1" fill="#9b3cfb"/>
<rect x="416.1" y="497.3" width="14.0" height="14.0" rx="2.1" fill="#9b3cfb"/>
<rect x="466.2" y="486.3" width="14.0" height="14.0" rx="2.1" fill="#9b3cfb"/>
<rect x="516.4" y="472.1" width="14.0" height="14.0" rx="2.1" fill="#9b3cfb"/>
<rect x="566.5" y="461.9" width="14.0" height="14.0" rx="2.1" fill="#9b3cfb"/>
<rect x="616.6" y="455.3" width="14.0" height="14.0" rx="2.1" fill="#9b3cfb"/>
<rect x="666.8" y="453.7" width="14.0" height="14.0" rx="2.1" fill="#9b3cfb"/>
<line x1="139.6" y1="98.3" x2="139.6" y2="571.0" stroke="#000" stroke-width="3.4" stroke-linecap="butt"/>
<line x1="134.6" y1="569.3" x2="707.5" y2="569.3" stroke="#000" stroke-width="3.4" stroke-linecap="butt"/>
<line x1="134.6" y1="569.3" x2="139.6" y2="569.3" stroke="#000" stroke-width="3.4" stroke-linecap="butt"/>
<text x="131.6" y="583.3" font-size="33" text-anchor="end" fill="#000" stroke="#000" stroke-width="0.45" stroke-linejoin="round">0</text>
<line x1="134.6" y1="412.6" x2="139.6" y2="412.6" stroke="#000" stroke-width="3.4" stroke-linecap="butt"/>
<text x="131.6" y="426.6" font-size="33" text-anchor="end" fill="#000" stroke="#000" stroke-width="0.45" stroke-linejoin="round">1000</text>
<line x1="134.6" y1="256.0" x2="139.6" y2="256.0" stroke="#000" stroke-width="3.4" stroke-linecap="butt"/>
<text x="131.6" y="270.0" font-size="33" text-anchor="end" fill="#000" stroke="#000" stroke-width="0.45" stroke-linejoin="round">2000</text>
<line x1="134.6" y1="99.3" x2="139.6" y2="99.3" stroke="#000" stroke-width="3.4" stroke-linecap="butt"/>
<text x="131.6" y="113.3" font-size="33" text-anchor="end" fill="#000" stroke="#000" stroke-width="0.45" stroke-linejoin="round">3000</text>
<line x1="172.3" y1="569.3" x2="172.3" y2="574.3" stroke="#000" stroke-width="3.4" stroke-linecap="butt"/>
<text x="172.3" y="601.0" font-size="33" text-anchor="middle" fill="#000" stroke="#000" stroke-width="0.45" stroke-linejoin="round">7</text>
<line x1="222.5" y1="569.3" x2="222.5" y2="574.3" stroke="#000" stroke-width="3.4" stroke-linecap="butt"/>
<text x="222.5" y="601.0" font-size="33" text-anchor="middle" fill="#000" stroke="#000" stroke-width="0.45" stroke-linejoin="round">11</text>
<line x1="272.6" y1="569.3" x2="272.6" y2="574.3" stroke="#000" stroke-width="3.4" stroke-linecap="butt"/>
<text x="272.6" y="601.0" font-size="33" text-anchor="middle" fill="#000" stroke="#000" stroke-width="0.45" stroke-linejoin="round">13</text>
<line x1="322.8" y1="569.3" x2="322.8" y2="574.3" stroke="#000" stroke-width="3.4" stroke-linecap="butt"/>
<text x="322.8" y="601.0" font-size="33" text-anchor="middle" fill="#000" stroke="#000" stroke-width="0.45" stroke-linejoin="round">15</text>
<line x1="372.9" y1="569.3" x2="372.9" y2="574.3" stroke="#000" stroke-width="3.4" stroke-linecap="butt"/>
<text x="372.9" y="601.0" font-size="33" text-anchor="middle" fill="#000" stroke="#000" stroke-width="0.45" stroke-linejoin="round">18</text>
<line x1="423.1" y1="569.3" x2="423.1" y2="574.3" stroke="#000" stroke-width="3.4" stroke-linecap="butt"/>
<text x="423.1" y="601.0" font-size="33" text-anchor="middle" fill="#000" stroke="#000" stroke-width="0.45" stroke-linejoin="round">20</text>
<line x1="473.2" y1="569.3" x2="473.2" y2="574.3" stroke="#000" stroke-width="3.4" stroke-linecap="butt"/>
<text x="473.2" y="601.0" font-size="33" text-anchor="middle" fill="#000" stroke="#000" stroke-width="0.45" stroke-linejoin="round">22</text>
<line x1="523.4" y1="569.3" x2="523.4" y2="574.3" stroke="#000" stroke-width="3.4" stroke-linecap="butt"/>
<text x="523.4" y="601.0" font-size="33" text-anchor="middle" fill="#000" stroke="#000" stroke-width="0.45" stroke-linejoin="round">25</text>
<line x1="573.5" y1="569.3" x2="573.5" y2="574.3" stroke="#000" stroke-width="3.4" stroke-linecap="butt"/>
<text x="573.5" y="601.0" font-size="33" text-anchor="middle" fill="#000" stroke="#000" stroke-width="0.45" stroke-linejoin="round">27</text>
<line x1="623.6" y1="569.3" x2="623.6" y2="574.3" stroke="#000" stroke-width="3.4" stroke-linecap="butt"/>
<text x="623.6" y="601.0" font-size="33" text-anchor="middle" fill="#000" stroke="#000" stroke-width="0.45" stroke-linejoin="round">29</text>
<line x1="673.8" y1="569.3" x2="673.8" y2="574.3" stroke="#000" stroke-width="3.4" stroke-linecap="butt"/>
<text x="673.8" y="601.0" font-size="33" text-anchor="middle" fill="#000" stroke="#000" stroke-width="0.45" stroke-linejoin="round">32</text>
<text x="426.0" y="639.6" font-size="32.5" text-anchor="middle" fill="#000" stroke="#000" stroke-width="0.45" stroke-linejoin="round">Days of treatment</text>
<text x="47.5" y="472.8" font-size="32" text-anchor="start" fill="#000" stroke="#000" stroke-width="0.45" stroke-linejoin="round" transform="rotate(-90 47.5 472.8)">Tumor volume mm<tspan font-size="27" dy="-17.5">3</tspan></text>
<line x1="159.6" y1="138.4" x2="177.0" y2="138.4" stroke="#000000" stroke-width="3" stroke-linecap="round"/>
<circle cx="168.0" cy="138.4" r="5.0" fill="#000000"/>
<text x="184.0" y="144.6" font-size="26" text-anchor="start" fill="#000" stroke="#000" stroke-width="0.45" stroke-linejoin="round">Vehicle</text>
<line x1="159.6" y1="164.8" x2="177.0" y2="164.8" stroke="#1030ff" stroke-width="3" stroke-linecap="round"/>
<polygon points="163.0,161.1 173.0,161.1 168.0,169.6" fill="#1030ff"/>
<text x="185.0" y="171.0" font-size="26" text-anchor="start" fill="#000" stroke="#000" stroke-width="0.45" stroke-linejoin="round">Plk4i 2 mg/kg BIDx7</text>
<line x1="159.6" y1="190.2" x2="177.0" y2="190.2" stroke="#0b8a0b" stroke-width="3" stroke-linecap="round"/>
<polygon points="168.0,184.7 172.9,190.2 168.0,195.7 163.1,190.2" fill="#0b8a0b"/>
<text x="185.0" y="196.4" font-size="26" text-anchor="start" fill="#000" stroke="#000" stroke-width="0.45" stroke-linejoin="round">Plk4i 2mg/kg QDx7</text>
<circle cx="158.8" cy="216.2" r="1.6" fill="#0a5391"/>
<circle cx="168.0" cy="216.2" r="6.5" fill="#0a5391"/>
<text x="185.0" y="222.4" font-size="26" text-anchor="start" fill="#000" stroke="#000" stroke-width="0.45" stroke-linejoin="round">Plk4i 6.5 mg/kg QDx7</text>
<line x1="159.6" y1="241.6" x2="177.0" y2="241.6" stroke="#9b3cfb" stroke-width="3" stroke-linecap="round"/>
<rect x="161.5" y="235.1" width="13.0" height="13.0" rx="1.9" fill="#9b3cfb"/>
<text x="185.0" y="247.8" font-size="26" text-anchor="start" fill="#000" stroke="#000" stroke-width="0.45" stroke-linejoin="round">Plk4i 8.5 mg/kg QDx7</text>
<text x="-1.0" y="717.5" font-size="58" text-anchor="start" fill="#231f20" stroke="#231f20" stroke-width="0.45" stroke-linejoin="round">c</text>
<text x="418.9" y="722.6" font-size="32.8" text-anchor="middle" fill="#000" stroke="#000" stroke-width="0.45" stroke-linejoin="round">TMD8</text>
<line x1="327.0" y1="1139.4" x2="327.0" y2="1126.8" stroke="#000000" stroke-width="2.6" stroke-linecap="butt"/>
<line x1="319.0" y1="1126.8" x2="335.0" y2="1126.8" stroke="#000000" stroke-width="3.0" stroke-linecap="butt"/>
<line x1="397.7" y1="1051.7" x2="397.7" y2="1018.3" stroke="#000000" stroke-width="2.6" stroke-linecap="butt"/>
<line x1="389.7" y1="1018.3" x2="405.7" y2="1018.3" stroke="#000000" stroke-width="3.0" stroke-linecap="butt"/>
<line x1="397.7" y1="1051.7" x2="397.7" y2="1084.0" stroke="#000000" stroke-width="2.6" stroke-linecap="butt"/>
<line x1="389.7" y1="1084.0" x2="405.7" y2="1084.0" stroke="#000000" stroke-width="3.0" stroke-linecap="butt"/>
<line x1="468.4" y1="947.5" x2="468.4" y2="895.7" stroke="#000000" stroke-width="2.6" stroke-linecap="butt"/>
<line x1="460.4" y1="895.7" x2="476.4" y2="895.7" stroke="#000000" stroke-width="3.0" stroke-linecap="butt"/>
<line x1="468.4" y1="947.5" x2="468.4" y2="999.5" stroke="#000000" stroke-width="2.6" stroke-linecap="butt"/>
<line x1="460.4" y1="999.5" x2="476.4" y2="999.5" stroke="#000000" stroke-width="3.0" stroke-linecap="butt"/>
<polyline points="185.6,1205.3 256.3,1181.8 327.0,1139.4 397.7,1051.7 468.4,947.5" fill="none" stroke="#000000" stroke-width="6.5" stroke-linejoin="round" stroke-linecap="round"/>
<circle cx="185.6" cy="1205.3" r="6.5" fill="#000000"/>
<circle cx="256.3" cy="1181.8" r="6.5" fill="#000000"/>
<circle cx="327.0" cy="1139.4" r="6.5" fill="#000000"/>
<circle cx="397.7" cy="1051.7" r="6.5" fill="#000000"/>
<circle cx="468.4" cy="947.5" r="6.5" fill="#000000"/>
<line x1="256.3" y1="1183.1" x2="256.3" y2="1179.9" stroke="#1a8f8c" stroke-width="2.6" stroke-linecap="butt"/>
<line x1="248.3" y1="1179.9" x2="264.3" y2="1179.9" stroke="#1a8f8c" stroke-width="3.0" stroke-linecap="butt"/>
<line x1="327.0" y1="1153.5" x2="327.0" y2="1136.2" stroke="#1a8f8c" stroke-width="2.6" stroke-linecap="butt"/>
<line x1="319.0" y1="1136.2" x2="335.0" y2="1136.2" stroke="#1a8f8c" stroke-width="3.0" stroke-linecap="butt"/>
<line x1="327.0" y1="1153.5" x2="327.0" y2="1170.2" stroke="#1a8f8c" stroke-width="2.6" stroke-linecap="butt"/>
<line x1="319.0" y1="1170.2" x2="335.0" y2="1170.2" stroke="#1a8f8c" stroke-width="3.0" stroke-linecap="butt"/>
<line x1="397.7" y1="1061.4" x2="397.7" y2="1010.5" stroke="#1a8f8c" stroke-width="2.6" stroke-linecap="butt"/>
<line x1="389.7" y1="1010.5" x2="405.7" y2="1010.5" stroke="#1a8f8c" stroke-width="3.0" stroke-linecap="butt"/>
<line x1="397.7" y1="1061.4" x2="397.7" y2="1112.2" stroke="#1a8f8c" stroke-width="2.6" stroke-linecap="butt"/>
<line x1="389.7" y1="1112.2" x2="405.7" y2="1112.2" stroke="#1a8f8c" stroke-width="3.0" stroke-linecap="butt"/>
<line x1="468.4" y1="965.0" x2="468.4" y2="888.6" stroke="#1a8f8c" stroke-width="2.6" stroke-linecap="butt"/>
<line x1="460.4" y1="888.6" x2="476.4" y2="888.6" stroke="#1a8f8c" stroke-width="3.0" stroke-linecap="butt"/>
<line x1="468.4" y1="965.0" x2="468.4" y2="1041.9" stroke="#1a8f8c" stroke-width="2.6" stroke-linecap="butt"/>
<line x1="460.4" y1="1041.9" x2="476.4" y2="1041.9" stroke="#1a8f8c" stroke-width="3.0" stroke-linecap="butt"/>
<polyline points="185.6,1205.3 256.3,1183.1 327.0,1153.5 397.7,1061.4 468.4,965.0" fill="none" stroke="#1a8f8c" stroke-width="6.5" stroke-linejoin="round" stroke-linecap="round"/>
<polygon points="185.6,1197.3 192.8,1205.3 185.6,1213.3 178.4,1205.3" fill="#1a8f8c"/>
<polygon points="256.3,1175.1 263.5,1183.1 256.3,1191.1 249.1,1183.1" fill="#1a8f8c"/>
<polygon points="327.0,1145.5 334.2,1153.5 327.0,1161.5 319.8,1153.5" fill="#1a8f8c"/>
<polygon points="397.7,1053.4 404.9,1061.4 397.7,1069.4 390.5,1061.4" fill="#1a8f8c"/>
<polygon points="468.4,957.0 475.6,965.0 468.4,973.0 461.2,965.0" fill="#1a8f8c"/>
<line x1="327.0" y1="1171.5" x2="327.0" y2="1160.6" stroke="#1a2cff" stroke-width="2.6" stroke-linecap="butt"/>
<line x1="319.0" y1="1160.6" x2="335.0" y2="1160.6" stroke="#1a2cff" stroke-width="3.0" stroke-linecap="butt"/>
<line x1="327.0" y1="1171.5" x2="327.0" y2="1184.1" stroke="#1a2cff" stroke-width="2.6" stroke-linecap="butt"/>
<line x1="319.0" y1="1184.1" x2="335.0" y2="1184.1" stroke="#1a2cff" stroke-width="3.0" stroke-linecap="butt"/>
<line x1="397.7" y1="1155.0" x2="397.7" y2="1133.8" stroke="#1a2cff" stroke-width="2.6" stroke-linecap="butt"/>
<line x1="389.7" y1="1133.8" x2="405.7" y2="1133.8" stroke="#1a2cff" stroke-width="3.0" stroke-linecap="butt"/>
<line x1="397.7" y1="1155.0" x2="397.7" y2="1177.1" stroke="#1a2cff" stroke-width="2.6" stroke-linecap="butt"/>
<line x1="389.7" y1="1177.1" x2="405.7" y2="1177.1" stroke="#1a2cff" stroke-width="3.0" stroke-linecap="butt"/>
<line x1="468.4" y1="1127.6" x2="468.4" y2="1087.1" stroke="#1a2cff" stroke-width="2.6" stroke-linecap="butt"/>
<line x1="460.4" y1="1087.1" x2="476.4" y2="1087.1" stroke="#1a2cff" stroke-width="3.0" stroke-linecap="butt"/>
<line x1="468.4" y1="1127.6" x2="468.4" y2="1167.8" stroke="#1a2cff" stroke-width="2.6" stroke-linecap="butt"/>
<line x1="460.4" y1="1167.8" x2="476.4" y2="1167.8" stroke="#1a2cff" stroke-width="3.0" stroke-linecap="butt"/>
<line x1="539.1" y1="1081.0" x2="539.1" y2="1018.8" stroke="#1a2cff" stroke-width="2.6" stroke-linecap="butt"/>
<line x1="531.1" y1="1018.8" x2="547.1" y2="1018.8" stroke="#1a2cff" stroke-width="3.0" stroke-linecap="butt"/>
<line x1="539.1" y1="1081.0" x2="539.1" y2="1148.8" stroke="#1a2cff" stroke-width="2.6" stroke-linecap="butt"/>
<line x1="531.1" y1="1148.8" x2="547.1" y2="1148.8" stroke="#1a2cff" stroke-width="3.0" stroke-linecap="butt"/>
<line x1="609.8" y1="1031.7" x2="609.8" y2="953.0" stroke="#1a2cff" stroke-width="2.6" stroke-linecap="butt"/>
<line x1="601.8" y1="953.0" x2="617.8" y2="953.0" stroke="#1a2cff" stroke-width="3.0" stroke-linecap="butt"/>
<line x1="609.8" y1="1031.7" x2="609.8" y2="1113.8" stroke="#1a2cff" stroke-width="2.6" stroke-linecap="butt"/>
<line x1="601.8" y1="1113.8" x2="617.8" y2="1113.8" stroke="#1a2cff" stroke-width="3.0" stroke-linecap="butt"/>
<polyline points="185.6,1205.3 256.3,1191.2 327.0,1171.5 397.7,1155.0 468.4,1127.6 539.1,1081.0 609.8,1031.7" fill="none" stroke="#1a2cff" stroke-width="6.5" stroke-linejoin="round" stroke-linecap="round"/>
<polygon points="178.1,1199.7 193.1,1199.7 185.6,1212.5" fill="#1a2cff"/>
<polygon points="248.8,1185.6 263.8,1185.6 256.3,1198.4" fill="#1a2cff"/>
<polygon points="319.5,1165.9 334.5,1165.9 327.0,1178.6" fill="#1a2cff"/>
<polygon points="390.2,1149.3 405.2,1149.3 397.7,1162.1" fill="#1a2cff"/>
<polygon points="460.9,1122.0 475.9,1122.0 468.4,1134.7" fill="#1a2cff"/>
<polygon points="531.6,1075.3 546.6,1075.3 539.1,1088.1" fill="#1a2cff"/>
<polygon points="602.3,1026.1 617.3,1026.1 609.8,1038.9" fill="#1a2cff"/>
<line x1="609.8" y1="1203.9" x2="609.8" y2="1192.7" stroke="#ff2c0f" stroke-width="2.6" stroke-linecap="butt"/>
<line x1="601.8" y1="1192.7" x2="617.8" y2="1192.7" stroke="#ff2c0f" stroke-width="3.0" stroke-linecap="butt"/>
<line x1="609.8" y1="1203.9" x2="609.8" y2="1216.2" stroke="#ff2c0f" stroke-width="2.6" stroke-linecap="butt"/>
<line x1="601.8" y1="1216.2" x2="617.8" y2="1216.2" stroke="#ff2c0f" stroke-width="3.0" stroke-linecap="butt"/>
<line x1="680.5" y1="1198.2" x2="680.5" y2="1179.6" stroke="#ff2c0f" stroke-width="2.6" stroke-linecap="butt"/>
<line x1="672.5" y1="1179.6" x2="688.5" y2="1179.6" stroke="#ff2c0f" stroke-width="3.0" stroke-linecap="butt"/>
<line x1="680.5" y1="1198.2" x2="680.5" y2="1214.9" stroke="#ff2c0f" stroke-width="2.6" stroke-linecap="butt"/>
<line x1="672.5" y1="1214.9" x2="688.5" y2="1214.9" stroke="#ff2c0f" stroke-width="3.0" stroke-linecap="butt"/>
<polyline points="185.6,1205.3 256.3,1195.1 327.0,1195.9 397.7,1203.1 468.4,1206.3 539.1,1206.3 609.8,1203.9 680.5,1198.2" fill="none" stroke="#ff2c0f" stroke-width="6.5" stroke-linejoin="round" stroke-linecap="round"/>
<rect x="177.1" y="1196.8" width="17.0" height="17.0" rx="2.5" fill="#ff2c0f"/>
<rect x="247.8" y="1186.6" width="17.0" height="17.0" rx="2.5" fill="#ff2c0f"/>
<rect x="318.5" y="1187.4" width="17.0" height="17.0" rx="2.5" fill="#ff2c0f"/>
<rect x="389.2" y="1194.6" width="17.0" height="17.0" rx="2.5" fill="#ff2c0f"/>
<rect x="459.9" y="1197.8" width="17.0" height="17.0" rx="2.5" fill="#ff2c0f"/>
<rect x="530.6" y="1197.8" width="17.0" height="17.0" rx="2.5" fill="#ff2c0f"/>
<rect x="601.3" y="1195.4" width="17.0" height="17.0" rx="2.5" fill="#ff2c0f"/>
<rect x="672.0" y="1189.7" width="17.0" height="17.0" rx="2.5" fill="#ff2c0f"/>
<line x1="139.5" y1="736.5" x2="139.5" y2="1225.0" stroke="#000" stroke-width="3.4" stroke-linecap="butt"/>
<line x1="134.5" y1="1223.3" x2="726.0" y2="1223.3" stroke="#000" stroke-width="3.4" stroke-linecap="butt"/>
<line x1="134.5" y1="1223.3" x2="139.5" y2="1223.3" stroke="#000" stroke-width="3.4" stroke-linecap="butt"/>
<text x="133.0" y="1237.3" font-size="33" text-anchor="end" fill="#000" stroke="#000" stroke-width="0.45" stroke-linejoin="round">0</text>
<line x1="134.5" y1="1061.4" x2="139.5" y2="1061.4" stroke="#000" stroke-width="3.4" stroke-linecap="butt"/>
<text x="133.0" y="1075.4" font-size="33" text-anchor="end" fill="#000" stroke="#000" stroke-width="0.45" stroke-linejoin="round">1000</text>
<line x1="134.5" y1="899.4" x2="139.5" y2="899.4" stroke="#000" stroke-width="3.4" stroke-linecap="butt"/>
<text x="133.0" y="913.4" font-size="33" text-anchor="end" fill="#000" stroke="#000" stroke-width="0.45" stroke-linejoin="round">2000</text>
<line x1="134.5" y1="737.5" x2="139.5" y2="737.5" stroke="#000" stroke-width="3.4" stroke-linecap="butt"/>
<text x="133.0" y="751.5" font-size="33" text-anchor="end" fill="#000" stroke="#000" stroke-width="0.45" stroke-linejoin="round">3000</text>
<line x1="185.6" y1="1223.3" x2="185.6" y2="1228.3" stroke="#000" stroke-width="3.4" stroke-linecap="butt"/>
<text x="185.6" y="1259.5" font-size="33" text-anchor="middle" fill="#000" stroke="#000" stroke-width="0.45" stroke-linejoin="round">7</text>
<line x1="256.3" y1="1223.3" x2="256.3" y2="1228.3" stroke="#000" stroke-width="3.4" stroke-linecap="butt"/>
<text x="256.3" y="1259.5" font-size="33" text-anchor="middle" fill="#000" stroke="#000" stroke-width="0.45" stroke-linejoin="round">11</text>
<line x1="327.0" y1="1223.3" x2="327.0" y2="1228.3" stroke="#000" stroke-width="3.4" stroke-linecap="butt"/>
<text x="327.0" y="1259.5" font-size="33" text-anchor="middle" fill="#000" stroke="#000" stroke-width="0.45" stroke-linejoin="round">14</text>
<line x1="397.7" y1="1223.3" x2="397.7" y2="1228.3" stroke="#000" stroke-width="3.4" stroke-linecap="butt"/>
<text x="397.7" y="1259.5" font-size="33" text-anchor="middle" fill="#000" stroke="#000" stroke-width="0.45" stroke-linejoin="round">18</text>
<line x1="468.4" y1="1223.3" x2="468.4" y2="1228.3" stroke="#000" stroke-width="3.4" stroke-linecap="butt"/>
<text x="468.4" y="1259.5" font-size="33" text-anchor="middle" fill="#000" stroke="#000" stroke-width="0.45" stroke-linejoin="round">21</text>
<line x1="539.1" y1="1223.3" x2="539.1" y2="1228.3" stroke="#000" stroke-width="3.4" stroke-linecap="butt"/>
<text x="539.1" y="1259.5" font-size="33" text-anchor="middle" fill="#000" stroke="#000" stroke-width="0.45" stroke-linejoin="round">25</text>
<line x1="609.8" y1="1223.3" x2="609.8" y2="1228.3" stroke="#000" stroke-width="3.4" stroke-linecap="butt"/>
<text x="609.8" y="1259.5" font-size="33" text-anchor="middle" fill="#000" stroke="#000" stroke-width="0.45" stroke-linejoin="round">28</text>
<line x1="680.5" y1="1223.3" x2="680.5" y2="1228.3" stroke="#000" stroke-width="3.4" stroke-linecap="butt"/>
<text x="680.5" y="1259.5" font-size="33" text-anchor="middle" fill="#000" stroke="#000" stroke-width="0.45" stroke-linejoin="round">33</text>
<text x="465.8" y="1292.6" font-size="32.5" text-anchor="middle" fill="#000" stroke="#000" stroke-width="0.45" stroke-linejoin="round">Days of treatment</text>
<text x="47.5" y="1082.6" font-size="32" text-anchor="start" fill="#000" stroke="#000" stroke-width="0.45" stroke-linejoin="round" transform="rotate(-90 47.5 1082.6)">Tumor volume mm<tspan font-size="27" dy="-17.5">3</tspan></text>
<line x1="679.5" y1="1022.5" x2="679.5" y2="1159.5" stroke="#231f20" stroke-width="3" stroke-linecap="butt"/>
<line x1="668.5" y1="1022.5" x2="690.5" y2="1022.5" stroke="#231f20" stroke-width="3.2" stroke-linecap="butt"/>
<line x1="668.5" y1="1159.5" x2="690.5" y2="1159.5" stroke="#231f20" stroke-width="3.2" stroke-linecap="butt"/>
<text x="685.3" y="1102.3" font-size="19.5" text-anchor="start" fill="#000" stroke="#000" stroke-width="0.45" stroke-linejoin="round">p&lt;0.001</text>
<line x1="157.0" y1="748.1" x2="177.0" y2="748.1" stroke="#000000" stroke-width="3" stroke-linecap="round"/>
<circle cx="167.0" cy="748.1" r="7.0" fill="#000000"/>
<text x="184.5" y="758.0" font-size="26" text-anchor="start" fill="#000" stroke="#000" stroke-width="0.45" stroke-linejoin="round">Vehicle</text>
<line x1="157.0" y1="779.1" x2="177.0" y2="779.1" stroke="#1a2cff" stroke-width="3" stroke-linecap="round"/>
<polygon points="159.5,773.5 174.5,773.5 167.0,786.2" fill="#1a2cff"/>
<text x="184.5" y="787.9" font-size="26" text-anchor="start" fill="#000" stroke="#000" stroke-width="0.45" stroke-linejoin="round">Plk4i 7.5 mg/kg QDx7</text>
<line x1="157.0" y1="806.8" x2="177.0" y2="806.8" stroke="#1a8f8c" stroke-width="3" stroke-linecap="round"/>
<polygon points="167.0,798.8 174.2,806.8 167.0,814.8 159.8,806.8" fill="#1a8f8c"/>
<text x="184.5" y="814.2" font-size="26" text-anchor="start" fill="#000" stroke="#000" stroke-width="0.45" stroke-linejoin="round">Venetoclax, 100 mg/kg p.o. QDx5</text>
<line x1="157.0" y1="837.8" x2="177.0" y2="837.8" stroke="#ff2c0f" stroke-width="3" stroke-linecap="round"/>
<rect x="158.5" y="829.3" width="17.0" height="17.0" rx="2.5" fill="#ff2c0f"/>
<text x="184.5" y="844.6" font-size="26" text-anchor="start" fill="#000" stroke="#000" stroke-width="0.45" stroke-linejoin="round">Plk4i + Venetoclax</text>
<text x="-1.0" y="1387.0" font-size="58" text-anchor="start" fill="#231f20" stroke="#231f20" stroke-width="0.45" stroke-linejoin="round">e</text>
<text x="397.5" y="1389.5" font-size="32" text-anchor="middle" fill="#000" stroke="#000" stroke-width="0.45" stroke-linejoin="round">PDX 74251-R1</text>
<line x1="225.9" y1="1847.1" x2="225.9" y2="1829.9" stroke="#000000" stroke-width="2.6" stroke-linecap="butt"/>
<line x1="217.9" y1="1829.9" x2="233.9" y2="1829.9" stroke="#000000" stroke-width="3.0" stroke-linecap="butt"/>
<line x1="278.1" y1="1835.2" x2="278.1" y2="1802.6" stroke="#000000" stroke-width="2.6" stroke-linecap="butt"/>
<line x1="270.1" y1="1802.6" x2="286.1" y2="1802.6" stroke="#000000" stroke-width="3.0" stroke-linecap="butt"/>
<line x1="330.3" y1="1802.6" x2="330.3" y2="1751.9" stroke="#000000" stroke-width="2.6" stroke-linecap="butt"/>
<line x1="322.3" y1="1751.9" x2="338.3" y2="1751.9" stroke="#000000" stroke-width="3.0" stroke-linecap="butt"/>
<line x1="330.3" y1="1802.6" x2="330.3" y2="1854.6" stroke="#000000" stroke-width="2.6" stroke-linecap="butt"/>
<line x1="322.3" y1="1854.6" x2="338.3" y2="1854.6" stroke="#000000" stroke-width="3.0" stroke-linecap="butt"/>
<line x1="382.5" y1="1780.1" x2="382.5" y2="1729.4" stroke="#000000" stroke-width="2.6" stroke-linecap="butt"/>
<line x1="374.5" y1="1729.4" x2="390.5" y2="1729.4" stroke="#000000" stroke-width="3.0" stroke-linecap="butt"/>
<line x1="382.5" y1="1780.1" x2="382.5" y2="1830.4" stroke="#000000" stroke-width="2.6" stroke-linecap="butt"/>
<line x1="374.5" y1="1830.4" x2="390.5" y2="1830.4" stroke="#000000" stroke-width="3.0" stroke-linecap="butt"/>
<line x1="434.7" y1="1740.5" x2="434.7" y2="1678.4" stroke="#000000" stroke-width="2.6" stroke-linecap="butt"/>
<line x1="426.7" y1="1678.4" x2="442.7" y2="1678.4" stroke="#000000" stroke-width="3.0" stroke-linecap="butt"/>
<line x1="434.7" y1="1740.5" x2="434.7" y2="1801.6" stroke="#000000" stroke-width="2.6" stroke-linecap="butt"/>
<line x1="426.7" y1="1801.6" x2="442.7" y2="1801.6" stroke="#000000" stroke-width="3.0" stroke-linecap="butt"/>
<line x1="486.9" y1="1701.2" x2="486.9" y2="1629.2" stroke="#000000" stroke-width="2.6" stroke-linecap="butt"/>
<line x1="478.9" y1="1629.2" x2="494.9" y2="1629.2" stroke="#000000" stroke-width="3.0" stroke-linecap="butt"/>
<line x1="486.9" y1="1701.2" x2="486.9" y2="1774.1" stroke="#000000" stroke-width="2.6" stroke-linecap="butt"/>
<line x1="478.9" y1="1774.1" x2="494.9" y2="1774.1" stroke="#000000" stroke-width="3.0" stroke-linecap="butt"/>
<line x1="539.1" y1="1647.5" x2="539.1" y2="1565.2" stroke="#000000" stroke-width="2.6" stroke-linecap="butt"/>
<line x1="531.1" y1="1565.2" x2="547.1" y2="1565.2" stroke="#000000" stroke-width="3.0" stroke-linecap="butt"/>
<line x1="539.1" y1="1647.5" x2="539.1" y2="1730.4" stroke="#000000" stroke-width="2.6" stroke-linecap="butt"/>
<line x1="531.1" y1="1730.4" x2="547.1" y2="1730.4" stroke="#000000" stroke-width="3.0" stroke-linecap="butt"/>
<line x1="591.3" y1="1536.9" x2="591.3" y2="1440.5" stroke="#000000" stroke-width="2.6" stroke-linecap="butt"/>
<line x1="583.3" y1="1440.5" x2="599.3" y2="1440.5" stroke="#000000" stroke-width="3.0" stroke-linecap="butt"/>
<line x1="591.3" y1="1536.9" x2="591.3" y2="1631.8" stroke="#000000" stroke-width="2.6" stroke-linecap="butt"/>
<line x1="583.3" y1="1631.8" x2="599.3" y2="1631.8" stroke="#000000" stroke-width="3.0" stroke-linecap="butt"/>
<polyline points="173.7,1868.5 225.9,1847.1 278.1,1835.2 330.3,1802.6 382.5,1780.1 434.7,1740.5 486.9,1701.2 539.1,1647.5 591.3,1536.9" fill="none" stroke="#000000" stroke-width="6.5" stroke-linejoin="round" stroke-linecap="round"/>
<circle cx="173.7" cy="1868.5" r="6.5" fill="#000000"/>
<circle cx="225.9" cy="1847.1" r="6.5" fill="#000000"/>
<circle cx="278.1" cy="1835.2" r="6.5" fill="#000000"/>
<circle cx="330.3" cy="1802.6" r="6.5" fill="#000000"/>
<circle cx="382.5" cy="1780.1" r="6.5" fill="#000000"/>
<circle cx="434.7" cy="1740.5" r="6.5" fill="#000000"/>
<circle cx="486.9" cy="1701.2" r="6.5" fill="#000000"/>
<circle cx="539.1" cy="1647.5" r="6.5" fill="#000000"/>
<circle cx="591.3" cy="1536.9" r="6.5" fill="#000000"/>
<line x1="225.9" y1="1861.1" x2="225.9" y2="1858.5" stroke="#1a2cff" stroke-width="2.6" stroke-linecap="butt"/>
<line x1="217.9" y1="1858.5" x2="233.9" y2="1858.5" stroke="#1a2cff" stroke-width="3.0" stroke-linecap="butt"/>
<line x1="278.1" y1="1849.7" x2="278.1" y2="1842.7" stroke="#1a2cff" stroke-width="2.6" stroke-linecap="butt"/>
<line x1="270.1" y1="1842.7" x2="286.1" y2="1842.7" stroke="#1a2cff" stroke-width="3.0" stroke-linecap="butt"/>
<line x1="278.1" y1="1849.7" x2="278.1" y2="1858.6" stroke="#1a2cff" stroke-width="2.6" stroke-linecap="butt"/>
<line x1="270.1" y1="1858.6" x2="286.1" y2="1858.6" stroke="#1a2cff" stroke-width="3.0" stroke-linecap="butt"/>
<line x1="330.3" y1="1823.9" x2="330.3" y2="1792.7" stroke="#1a2cff" stroke-width="2.6" stroke-linecap="butt"/>
<line x1="322.3" y1="1792.7" x2="338.3" y2="1792.7" stroke="#1a2cff" stroke-width="3.0" stroke-linecap="butt"/>
<line x1="330.3" y1="1823.9" x2="330.3" y2="1885.3" stroke="#1a2cff" stroke-width="2.6" stroke-linecap="butt"/>
<line x1="322.3" y1="1885.3" x2="338.3" y2="1885.3" stroke="#1a2cff" stroke-width="3.0" stroke-linecap="butt"/>
<line x1="382.5" y1="1822.9" x2="382.5" y2="1792.7" stroke="#1a2cff" stroke-width="2.6" stroke-linecap="butt"/>
<line x1="374.5" y1="1792.7" x2="390.5" y2="1792.7" stroke="#1a2cff" stroke-width="3.0" stroke-linecap="butt"/>
<line x1="382.5" y1="1822.9" x2="382.5" y2="1885.3" stroke="#1a2cff" stroke-width="2.6" stroke-linecap="butt"/>
<line x1="374.5" y1="1885.3" x2="390.5" y2="1885.3" stroke="#1a2cff" stroke-width="3.0" stroke-linecap="butt"/>
<line x1="434.7" y1="1810.4" x2="434.7" y2="1761.8" stroke="#1a2cff" stroke-width="2.6" stroke-linecap="butt"/>
<line x1="426.7" y1="1761.8" x2="442.7" y2="1761.8" stroke="#1a2cff" stroke-width="3.0" stroke-linecap="butt"/>
<line x1="434.7" y1="1810.4" x2="434.7" y2="1885.3" stroke="#1a2cff" stroke-width="2.6" stroke-linecap="butt"/>
<line x1="426.7" y1="1885.3" x2="442.7" y2="1885.3" stroke="#1a2cff" stroke-width="3.0" stroke-linecap="butt"/>
<line x1="486.9" y1="1791.5" x2="486.9" y2="1729.4" stroke="#1a2cff" stroke-width="2.6" stroke-linecap="butt"/>
<line x1="478.9" y1="1729.4" x2="494.9" y2="1729.4" stroke="#1a2cff" stroke-width="3.0" stroke-linecap="butt"/>
<line x1="486.9" y1="1791.5" x2="486.9" y2="1885.3" stroke="#1a2cff" stroke-width="2.6" stroke-linecap="butt"/>
<line x1="478.9" y1="1885.3" x2="494.9" y2="1885.3" stroke="#1a2cff" stroke-width="3.0" stroke-linecap="butt"/>
<line x1="539.1" y1="1759.3" x2="539.1" y2="1698.2" stroke="#1a2cff" stroke-width="2.6" stroke-linecap="butt"/>
<line x1="531.1" y1="1698.2" x2="547.1" y2="1698.2" stroke="#1a2cff" stroke-width="3.0" stroke-linecap="butt"/>
<line x1="539.1" y1="1759.3" x2="539.1" y2="1822.9" stroke="#1a2cff" stroke-width="2.6" stroke-linecap="butt"/>
<line x1="531.1" y1="1822.9" x2="547.1" y2="1822.9" stroke="#1a2cff" stroke-width="3.0" stroke-linecap="butt"/>
<line x1="591.3" y1="1701.2" x2="591.3" y2="1617.8" stroke="#1a2cff" stroke-width="2.6" stroke-linecap="butt"/>
<line x1="583.3" y1="1617.8" x2="599.3" y2="1617.8" stroke="#1a2cff" stroke-width="3.0" stroke-linecap="butt"/>
<line x1="591.3" y1="1701.2" x2="591.3" y2="1787.6" stroke="#1a2cff" stroke-width="2.6" stroke-linecap="butt"/>
<line x1="583.3" y1="1787.6" x2="599.3" y2="1787.6" stroke="#1a2cff" stroke-width="3.0" stroke-linecap="butt"/>
<polyline points="173.7,1868.5 225.9,1861.1 278.1,1849.7 330.3,1823.9 382.5,1822.9 434.7,1810.4 486.9,1791.5 539.1,1759.3 591.3,1701.2" fill="none" stroke="#1a2cff" stroke-width="6.5" stroke-linejoin="round" stroke-linecap="round"/>
<polygon points="166.2,1862.9 181.2,1862.9 173.7,1875.7" fill="#1a2cff"/>
<polygon points="218.4,1855.4 233.4,1855.4 225.9,1868.2" fill="#1a2cff"/>
<polygon points="270.6,1844.1 285.6,1844.1 278.1,1856.8" fill="#1a2cff"/>
<polygon points="322.8,1818.2 337.8,1818.2 330.3,1831.0" fill="#1a2cff"/>
<polygon points="375.0,1817.2 390.0,1817.2 382.5,1830.0" fill="#1a2cff"/>
<polygon points="427.2,1804.7 442.2,1804.7 434.7,1817.5" fill="#1a2cff"/>
<polygon points="479.4,1785.9 494.4,1785.9 486.9,1798.6" fill="#1a2cff"/>
<polygon points="531.6,1753.7 546.6,1753.7 539.1,1766.5" fill="#1a2cff"/>
<polygon points="583.8,1695.5 598.8,1695.5 591.3,1708.3" fill="#1a2cff"/>
<line x1="434.7" y1="1863.5" x2="434.7" y2="1852.1" stroke="#1a8f8c" stroke-width="2.6" stroke-linecap="butt"/>
<line x1="426.7" y1="1852.1" x2="442.7" y2="1852.1" stroke="#1a8f8c" stroke-width="3.0" stroke-linecap="butt"/>
<line x1="434.7" y1="1863.5" x2="434.7" y2="1875.5" stroke="#1a8f8c" stroke-width="2.6" stroke-linecap="butt"/>
<line x1="426.7" y1="1875.5" x2="442.7" y2="1875.5" stroke="#1a8f8c" stroke-width="3.0" stroke-linecap="butt"/>
<line x1="486.9" y1="1865.1" x2="486.9" y2="1853.6" stroke="#1a8f8c" stroke-width="2.6" stroke-linecap="butt"/>
<line x1="478.9" y1="1853.6" x2="494.9" y2="1853.6" stroke="#1a8f8c" stroke-width="3.0" stroke-linecap="butt"/>
<line x1="486.9" y1="1865.1" x2="486.9" y2="1877.2" stroke="#1a8f8c" stroke-width="2.6" stroke-linecap="butt"/>
<line x1="478.9" y1="1877.2" x2="494.9" y2="1877.2" stroke="#1a8f8c" stroke-width="3.0" stroke-linecap="butt"/>
<line x1="539.1" y1="1850.2" x2="539.1" y2="1829.9" stroke="#1a8f8c" stroke-width="2.6" stroke-linecap="butt"/>
<line x1="531.1" y1="1829.9" x2="547.1" y2="1829.9" stroke="#1a8f8c" stroke-width="3.0" stroke-linecap="butt"/>
<line x1="539.1" y1="1850.2" x2="539.1" y2="1871.0" stroke="#1a8f8c" stroke-width="2.6" stroke-linecap="butt"/>
<line x1="531.1" y1="1871.0" x2="547.1" y2="1871.0" stroke="#1a8f8c" stroke-width="3.0" stroke-linecap="butt"/>
<line x1="591.3" y1="1847.1" x2="591.3" y2="1822.9" stroke="#1a8f8c" stroke-width="2.6" stroke-linecap="butt"/>
<line x1="583.3" y1="1822.9" x2="599.3" y2="1822.9" stroke="#1a8f8c" stroke-width="3.0" stroke-linecap="butt"/>
<line x1="591.3" y1="1847.1" x2="591.3" y2="1872.4" stroke="#1a8f8c" stroke-width="2.6" stroke-linecap="butt"/>
<line x1="583.3" y1="1872.4" x2="599.3" y2="1872.4" stroke="#1a8f8c" stroke-width="3.0" stroke-linecap="butt"/>
<line x1="643.5" y1="1826.3" x2="643.5" y2="1775.8" stroke="#1a8f8c" stroke-width="2.6" stroke-linecap="butt"/>
<line x1="635.5" y1="1775.8" x2="651.5" y2="1775.8" stroke="#1a8f8c" stroke-width="3.0" stroke-linecap="butt"/>
<line x1="643.5" y1="1826.3" x2="643.5" y2="1877.0" stroke="#1a8f8c" stroke-width="2.6" stroke-linecap="butt"/>
<line x1="635.5" y1="1877.0" x2="651.5" y2="1877.0" stroke="#1a8f8c" stroke-width="3.0" stroke-linecap="butt"/>
<line x1="695.7" y1="1807.9" x2="695.7" y2="1741.0" stroke="#1a8f8c" stroke-width="2.6" stroke-linecap="butt"/>
<line x1="687.7" y1="1741.0" x2="703.7" y2="1741.0" stroke="#1a8f8c" stroke-width="3.0" stroke-linecap="butt"/>
<line x1="695.7" y1="1807.9" x2="695.7" y2="1873.6" stroke="#1a8f8c" stroke-width="2.6" stroke-linecap="butt"/>
<line x1="687.7" y1="1873.6" x2="703.7" y2="1873.6" stroke="#1a8f8c" stroke-width="3.0" stroke-linecap="butt"/>
<polyline points="173.7,1868.5 225.9,1869.0 278.1,1871.0 330.3,1861.1 382.5,1861.1 434.7,1863.5 486.9,1865.1 539.1,1850.2 591.3,1847.1 643.5,1826.3 695.7,1807.9" fill="none" stroke="#1a8f8c" stroke-width="6.5" stroke-linejoin="round" stroke-linecap="round"/>
<polygon points="173.7,1860.5 180.9,1868.5 173.7,1876.5 166.5,1868.5" fill="#1a8f8c"/>
<polygon points="225.9,1861.0 233.1,1869.0 225.9,1877.0 218.7,1869.0" fill="#1a8f8c"/>
<polygon points="278.1,1863.0 285.3,1871.0 278.1,1879.0 270.9,1871.0" fill="#1a8f8c"/>
<polygon points="330.3,1853.1 337.5,1861.1 330.3,1869.1 323.1,1861.1" fill="#1a8f8c"/>
<polygon points="382.5,1853.1 389.7,1861.1 382.5,1869.1 375.3,1861.1" fill="#1a8f8c"/>
<polygon points="434.7,1855.5 441.9,1863.5 434.7,1871.5 427.5,1863.5" fill="#1a8f8c"/>
<polygon points="486.9,1857.1 494.1,1865.1 486.9,1873.1 479.7,1865.1" fill="#1a8f8c"/>
<polygon points="539.1,1842.2 546.3,1850.2 539.1,1858.2 531.9,1850.2" fill="#1a8f8c"/>
<polygon points="591.3,1839.1 598.5,1847.1 591.3,1855.1 584.1,1847.1" fill="#1a8f8c"/>
<polygon points="643.5,1818.3 650.7,1826.3 643.5,1834.3 636.3,1826.3" fill="#1a8f8c"/>
<polygon points="695.7,1799.9 702.9,1807.9 695.7,1815.9 688.5,1807.9" fill="#1a8f8c"/>
<polyline points="173.7,1870.0 225.9,1873.6 278.1,1876.0 330.3,1878.5 382.5,1880.9 434.7,1880.9 486.9,1885.0 539.1,1885.9 591.3,1886.9 643.5,1886.9 695.7,1886.9" fill="none" stroke="#ff2c0f" stroke-width="6.5" stroke-linejoin="round" stroke-linecap="round"/>
<rect x="165.2" y="1861.5" width="17.0" height="17.0" rx="2.5" fill="#ff2c0f"/>
<rect x="217.4" y="1865.1" width="17.0" height="17.0" rx="2.5" fill="#ff2c0f"/>
<rect x="269.6" y="1867.5" width="17.0" height="17.0" rx="2.5" fill="#ff2c0f"/>
<rect x="321.8" y="1870.0" width="17.0" height="17.0" rx="2.5" fill="#ff2c0f"/>
<rect x="374.0" y="1872.4" width="17.0" height="17.0" rx="2.5" fill="#ff2c0f"/>
<rect x="426.2" y="1872.4" width="17.0" height="17.0" rx="2.5" fill="#ff2c0f"/>
<rect x="478.4" y="1876.5" width="17.0" height="17.0" rx="2.5" fill="#ff2c0f"/>
<rect x="530.6" y="1877.4" width="17.0" height="17.0" rx="2.5" fill="#ff2c0f"/>
<rect x="582.8" y="1878.4" width="17.0" height="17.0" rx="2.5" fill="#ff2c0f"/>
<rect x="635.0" y="1878.4" width="17.0" height="17.0" rx="2.5" fill="#ff2c0f"/>
<rect x="687.2" y="1878.4" width="17.0" height="17.0" rx="2.5" fill="#ff2c0f"/>
<line x1="140.2" y1="1398.4" x2="140.2" y2="1888.6" stroke="#000" stroke-width="3.4" stroke-linecap="butt"/>
<line x1="135.2" y1="1886.9" x2="728.5" y2="1886.9" stroke="#000" stroke-width="3.4" stroke-linecap="butt"/>
<line x1="135.2" y1="1886.9" x2="140.2" y2="1886.9" stroke="#000" stroke-width="3.4" stroke-linecap="butt"/>
<text x="134.0" y="1897.9" font-size="33" text-anchor="end" fill="#000" stroke="#000" stroke-width="0.45" stroke-linejoin="round">0</text>
<line x1="135.2" y1="1724.4" x2="140.2" y2="1724.4" stroke="#000" stroke-width="3.4" stroke-linecap="butt"/>
<text x="134.0" y="1735.4" font-size="33" text-anchor="end" fill="#000" stroke="#000" stroke-width="0.45" stroke-linejoin="round">1000</text>
<line x1="135.2" y1="1561.9" x2="140.2" y2="1561.9" stroke="#000" stroke-width="3.4" stroke-linecap="butt"/>
<text x="134.0" y="1572.9" font-size="33" text-anchor="end" fill="#000" stroke="#000" stroke-width="0.45" stroke-linejoin="round">2000</text>
<line x1="135.2" y1="1399.4" x2="140.2" y2="1399.4" stroke="#000" stroke-width="3.4" stroke-linecap="butt"/>
<text x="134.0" y="1410.4" font-size="33" text-anchor="end" fill="#000" stroke="#000" stroke-width="0.45" stroke-linejoin="round">3000</text>
<line x1="173.7" y1="1886.9" x2="173.7" y2="1891.9" stroke="#000" stroke-width="3.4" stroke-linecap="butt"/>
<text x="173.7" y="1920.0" font-size="33" text-anchor="middle" fill="#000" stroke="#000" stroke-width="0.45" stroke-linejoin="round">21</text>
<line x1="225.9" y1="1886.9" x2="225.9" y2="1891.9" stroke="#000" stroke-width="3.4" stroke-linecap="butt"/>
<text x="225.9" y="1920.0" font-size="33" text-anchor="middle" fill="#000" stroke="#000" stroke-width="0.45" stroke-linejoin="round">25</text>
<line x1="278.1" y1="1886.9" x2="278.1" y2="1891.9" stroke="#000" stroke-width="3.4" stroke-linecap="butt"/>
<text x="278.1" y="1920.0" font-size="33" text-anchor="middle" fill="#000" stroke="#000" stroke-width="0.45" stroke-linejoin="round">28</text>
<line x1="330.3" y1="1886.9" x2="330.3" y2="1891.9" stroke="#000" stroke-width="3.4" stroke-linecap="butt"/>
<text x="330.3" y="1920.0" font-size="33" text-anchor="middle" fill="#000" stroke="#000" stroke-width="0.45" stroke-linejoin="round">32</text>
<line x1="382.5" y1="1886.9" x2="382.5" y2="1891.9" stroke="#000" stroke-width="3.4" stroke-linecap="butt"/>
<text x="382.5" y="1920.0" font-size="33" text-anchor="middle" fill="#000" stroke="#000" stroke-width="0.45" stroke-linejoin="round">35</text>
<line x1="434.7" y1="1886.9" x2="434.7" y2="1891.9" stroke="#000" stroke-width="3.4" stroke-linecap="butt"/>
<text x="434.7" y="1920.0" font-size="33" text-anchor="middle" fill="#000" stroke="#000" stroke-width="0.45" stroke-linejoin="round">39</text>
<line x1="486.9" y1="1886.9" x2="486.9" y2="1891.9" stroke="#000" stroke-width="3.4" stroke-linecap="butt"/>
<text x="486.9" y="1920.0" font-size="33" text-anchor="middle" fill="#000" stroke="#000" stroke-width="0.45" stroke-linejoin="round">42</text>
<line x1="539.1" y1="1886.9" x2="539.1" y2="1891.9" stroke="#000" stroke-width="3.4" stroke-linecap="butt"/>
<text x="539.1" y="1920.0" font-size="33" text-anchor="middle" fill="#000" stroke="#000" stroke-width="0.45" stroke-linejoin="round">46</text>
<line x1="591.3" y1="1886.9" x2="591.3" y2="1891.9" stroke="#000" stroke-width="3.4" stroke-linecap="butt"/>
<text x="591.3" y="1920.0" font-size="33" text-anchor="middle" fill="#000" stroke="#000" stroke-width="0.45" stroke-linejoin="round">49</text>
<line x1="643.5" y1="1886.9" x2="643.5" y2="1891.9" stroke="#000" stroke-width="3.4" stroke-linecap="butt"/>
<text x="643.5" y="1920.0" font-size="33" text-anchor="middle" fill="#000" stroke="#000" stroke-width="0.45" stroke-linejoin="round">53</text>
<line x1="695.7" y1="1886.9" x2="695.7" y2="1891.9" stroke="#000" stroke-width="3.4" stroke-linecap="butt"/>
<text x="695.7" y="1920.0" font-size="33" text-anchor="middle" fill="#000" stroke="#000" stroke-width="0.45" stroke-linejoin="round">60</text>
<text x="420.7" y="1960.0" font-size="32.5" text-anchor="middle" fill="#000" stroke="#000" stroke-width="0.45" stroke-linejoin="round">Days of treatment</text>
<text x="47.5" y="1759.3" font-size="32" text-anchor="start" fill="#000" stroke="#000" stroke-width="0.45" stroke-linejoin="round" transform="rotate(-90 47.5 1759.3)">Tumor volume mm<tspan font-size="27" dy="-17.5">3</tspan></text>
<line x1="724.7" y1="1818.0" x2="724.7" y2="1876.0" stroke="#231f20" stroke-width="3" stroke-linecap="butt"/>
<line x1="714.5" y1="1818.0" x2="735.5" y2="1818.0" stroke="#231f20" stroke-width="3.2" stroke-linecap="butt"/>
<line x1="714.5" y1="1876.0" x2="735.5" y2="1876.0" stroke="#231f20" stroke-width="3.2" stroke-linecap="butt"/>
<text x="734.5" y="1851.5" font-size="19.8" text-anchor="start" fill="#000" stroke="#000" stroke-width="0.45" stroke-linejoin="round">p=0.049</text>
<line x1="155.5" y1="1410.8" x2="176.0" y2="1410.8" stroke="#000000" stroke-width="3" stroke-linecap="round"/>
<circle cx="166.0" cy="1410.8" r="7.0" fill="#000000"/>
<text x="186.0" y="1420.5" font-size="26" text-anchor="start" fill="#000" stroke="#000" stroke-width="0.45" stroke-linejoin="round">Vehicle</text>
<line x1="155.5" y1="1445.0" x2="176.0" y2="1445.0" stroke="#1a2cff" stroke-width="3" stroke-linecap="round"/>
<polygon points="158.5,1439.4 173.5,1439.4 166.0,1452.1" fill="#1a2cff"/>
<text x="186.0" y="1452.3" font-size="26" text-anchor="start" fill="#000" stroke="#000" stroke-width="0.45" stroke-linejoin="round">Plk4i 5 mg/kg p.o. QDx5</text>
<line x1="155.5" y1="1472.4" x2="176.0" y2="1472.4" stroke="#1a8f8c" stroke-width="3" stroke-linecap="round"/>
<polygon points="166.0,1464.4 173.2,1472.4 166.0,1480.4 158.8,1472.4" fill="#1a8f8c"/>
<text x="186.0" y="1481.5" font-size="26" text-anchor="start" fill="#000" stroke="#000" stroke-width="0.45" stroke-linejoin="round">Venetoclax, 100 mg/kg p.o. QDx5</text>
<line x1="155.5" y1="1505.1" x2="176.0" y2="1505.1" stroke="#ff2c0f" stroke-width="3" stroke-linecap="round"/>
<rect x="157.5" y="1496.6" width="17.0" height="17.0" rx="2.5" fill="#ff2c0f"/>
<text x="186.0" y="1514.5" font-size="26" text-anchor="start" fill="#000" stroke="#000" stroke-width="0.45" stroke-linejoin="round">Plk4i + Venetoclax</text>
<text x="0.0" y="2052.0" font-size="58" text-anchor="start" fill="#231f20" stroke="#231f20" stroke-width="0.45" stroke-linejoin="round">g</text>
<text x="308.0" y="2087.5" font-size="32" text-anchor="middle" fill="#000" stroke="#000" stroke-width="0.45" stroke-linejoin="round">TMD8</text>
<polyline points="223.7,2209.8 223.7,2306.5 238.7,2306.5 238.7,2451.6" fill="none" stroke="#1a8f8c" stroke-width="3" stroke-linejoin="miter" stroke-linecap="butt"/>
<polyline points="223.7,2209.8 258.6,2209.8 258.6,2250.2 273.6,2250.2 273.6,2451.6" fill="none" stroke="#1a2cff" stroke-width="3" stroke-linejoin="miter" stroke-linecap="butt"/>
<line x1="223.7" y1="2209.8" x2="223.7" y2="2204.3" stroke="#1a2cff" stroke-width="2.6" stroke-linecap="butt"/>
<line x1="238.7" y1="2209.8" x2="238.7" y2="2204.3" stroke="#1a2cff" stroke-width="2.6" stroke-linecap="butt"/>
<polyline points="134.0,2209.8 223.7,2209.8 223.7,2275.8 238.7,2275.8 238.7,2451.6" fill="none" stroke="#000000" stroke-width="3" stroke-linejoin="miter" stroke-linecap="butt"/>
<polyline points="258.6,2209.8 298.5,2209.8 298.5,2255.7 378.3,2255.7 378.3,2304.8 433.1,2304.8" fill="none" stroke="#ff2c0f" stroke-width="3" stroke-linejoin="miter" stroke-linecap="butt"/>
<line x1="258.6" y1="2209.8" x2="258.6" y2="2204.3" stroke="#ff2c0f" stroke-width="2.6" stroke-linecap="butt"/>
<line x1="273.6" y1="2209.8" x2="273.6" y2="2204.3" stroke="#ff2c0f" stroke-width="2.6" stroke-linecap="butt"/>
<line x1="433.1" y1="2304.8" x2="433.1" y2="2299.3" stroke="#ff2c0f" stroke-width="2.6" stroke-linecap="butt"/>
<line x1="134.0" y1="2184.5" x2="134.0" y2="2453.2" stroke="#000" stroke-width="3.2" stroke-linecap="butt"/>
<line x1="134.0" y1="2451.6" x2="532.8" y2="2451.6" stroke="#000" stroke-width="3.2" stroke-linecap="butt"/>
<line x1="122.5" y1="2451.6" x2="134.0" y2="2451.6" stroke="#000" stroke-width="2.8" stroke-linecap="butt"/>
<line x1="127.5" y1="2439.5" x2="134.0" y2="2439.5" stroke="#000" stroke-width="2.4" stroke-linecap="butt"/>
<line x1="127.5" y1="2427.4" x2="134.0" y2="2427.4" stroke="#000" stroke-width="2.4" stroke-linecap="butt"/>
<line x1="127.5" y1="2415.3" x2="134.0" y2="2415.3" stroke="#000" stroke-width="2.4" stroke-linecap="butt"/>
<line x1="127.5" y1="2403.2" x2="134.0" y2="2403.2" stroke="#000" stroke-width="2.4" stroke-linecap="butt"/>
<line x1="127.5" y1="2391.2" x2="134.0" y2="2391.2" stroke="#000" stroke-width="2.4" stroke-linecap="butt"/>
<line x1="127.5" y1="2379.1" x2="134.0" y2="2379.1" stroke="#000" stroke-width="2.4" stroke-linecap="butt"/>
<line x1="127.5" y1="2367.0" x2="134.0" y2="2367.0" stroke="#000" stroke-width="2.4" stroke-linecap="butt"/>
<line x1="127.5" y1="2354.9" x2="134.0" y2="2354.9" stroke="#000" stroke-width="2.4" stroke-linecap="butt"/>
<line x1="127.5" y1="2342.8" x2="134.0" y2="2342.8" stroke="#000" stroke-width="2.4" stroke-linecap="butt"/>
<line x1="122.5" y1="2330.7" x2="134.0" y2="2330.7" stroke="#000" stroke-width="2.8" stroke-linecap="butt"/>
<line x1="127.5" y1="2318.6" x2="134.0" y2="2318.6" stroke="#000" stroke-width="2.4" stroke-linecap="butt"/>
<line x1="127.5" y1="2306.5" x2="134.0" y2="2306.5" stroke="#000" stroke-width="2.4" stroke-linecap="butt"/>
<line x1="127.5" y1="2294.4" x2="134.0" y2="2294.4" stroke="#000" stroke-width="2.4" stroke-linecap="butt"/>
<line x1="127.5" y1="2282.3" x2="134.0" y2="2282.3" stroke="#000" stroke-width="2.4" stroke-linecap="butt"/>
<line x1="127.5" y1="2270.2" x2="134.0" y2="2270.2" stroke="#000" stroke-width="2.4" stroke-linecap="butt"/>
<line x1="127.5" y1="2258.2" x2="134.0" y2="2258.2" stroke="#000" stroke-width="2.4" stroke-linecap="butt"/>
<line x1="127.5" y1="2246.1" x2="134.0" y2="2246.1" stroke="#000" stroke-width="2.4" stroke-linecap="butt"/>
<line x1="127.5" y1="2234.0" x2="134.0" y2="2234.0" stroke="#000" stroke-width="2.4" stroke-linecap="butt"/>
<line x1="127.5" y1="2221.9" x2="134.0" y2="2221.9" stroke="#000" stroke-width="2.4" stroke-linecap="butt"/>
<line x1="122.5" y1="2209.8" x2="134.0" y2="2209.8" stroke="#000" stroke-width="2.8" stroke-linecap="butt"/>
<line x1="127.5" y1="2197.7" x2="134.0" y2="2197.7" stroke="#000" stroke-width="2.4" stroke-linecap="butt"/>
<line x1="127.5" y1="2185.6" x2="134.0" y2="2185.6" stroke="#000" stroke-width="2.4" stroke-linecap="butt"/>
<text x="119.0" y="2463.6" font-size="33" text-anchor="end" fill="#000" stroke="#000" stroke-width="0.45" stroke-linejoin="round">0</text>
<text x="119.0" y="2342.7" font-size="33" text-anchor="end" fill="#000" stroke="#000" stroke-width="0.45" stroke-linejoin="round">50</text>
<text x="119.0" y="2221.8" font-size="33" text-anchor="end" fill="#000" stroke="#000" stroke-width="0.45" stroke-linejoin="round">100</text>
<line x1="134.0" y1="2451.6" x2="134.0" y2="2461.6" stroke="#000" stroke-width="3.2" stroke-linecap="butt"/>
<text x="134.0" y="2496.0" font-size="33" text-anchor="middle" fill="#000" stroke="#000" stroke-width="0.45" stroke-linejoin="round">0</text>
<line x1="233.7" y1="2451.6" x2="233.7" y2="2461.6" stroke="#000" stroke-width="3.2" stroke-linecap="butt"/>
<text x="233.7" y="2496.0" font-size="33" text-anchor="middle" fill="#000" stroke="#000" stroke-width="0.45" stroke-linejoin="round">20</text>
<line x1="333.4" y1="2451.6" x2="333.4" y2="2461.6" stroke="#000" stroke-width="3.2" stroke-linecap="butt"/>
<text x="333.4" y="2496.0" font-size="33" text-anchor="middle" fill="#000" stroke="#000" stroke-width="0.45" stroke-linejoin="round">40</text>
<line x1="433.1" y1="2451.6" x2="433.1" y2="2461.6" stroke="#000" stroke-width="3.2" stroke-linecap="butt"/>
<text x="433.1" y="2496.0" font-size="33" text-anchor="middle" fill="#000" stroke="#000" stroke-width="0.45" stroke-linejoin="round">60</text>
<line x1="532.8" y1="2451.6" x2="532.8" y2="2461.6" stroke="#000" stroke-width="3.2" stroke-linecap="butt"/>
<text x="532.8" y="2496.0" font-size="33" text-anchor="middle" fill="#000" stroke="#000" stroke-width="0.45" stroke-linejoin="round">80</text>
<text x="333.3" y="2538.4" font-size="32.5" text-anchor="middle" fill="#000" stroke="#000" stroke-width="0.45" stroke-linejoin="round">Time (days)</text>
<text x="39.4" y="2464.0" font-size="32" text-anchor="start" fill="#000" stroke="#000" stroke-width="0.45" stroke-linejoin="round" transform="rotate(-90 39.4 2464.0)">Probability of Survival</text>
<line x1="361.5" y1="2093.3" x2="392.5" y2="2093.3" stroke="#000000" stroke-width="3" stroke-linecap="butt"/>
<line x1="377.0" y1="2093.3" x2="377.0" y2="2088.3" stroke="#000000" stroke-width="2.2" stroke-linecap="butt"/>
<text x="404.5" y="2102.6" font-size="25.6" text-anchor="start" fill="#000" stroke="#000" stroke-width="0.45" stroke-linejoin="round">Vehicle</text>
<line x1="361.5" y1="2129.9" x2="392.5" y2="2129.9" stroke="#1a2cff" stroke-width="3" stroke-linecap="butt"/>
<line x1="377.0" y1="2129.9" x2="377.0" y2="2124.9" stroke="#1a2cff" stroke-width="2.2" stroke-linecap="butt"/>
<text x="404.5" y="2139.2" font-size="25.6" text-anchor="start" fill="#000" stroke="#000" stroke-width="0.45" stroke-linejoin="round">Plk4i, 7.5 mg/kg p.o. QDx5</text>
<line x1="361.5" y1="2166.5" x2="392.5" y2="2166.5" stroke="#1a8f8c" stroke-width="3" stroke-linecap="butt"/>
<line x1="377.0" y1="2166.5" x2="377.0" y2="2161.5" stroke="#1a8f8c" stroke-width="2.2" stroke-linecap="butt"/>
<text x="404.5" y="2175.9" font-size="25.6" text-anchor="start" fill="#000" stroke="#000" stroke-width="0.45" stroke-linejoin="round">Venetoclax, 100 mg/kg p.o. QDx5</text>
<line x1="361.5" y1="2206.5" x2="392.5" y2="2206.5" stroke="#ff2c0f" stroke-width="3" stroke-linecap="butt"/>
<line x1="377.0" y1="2206.5" x2="377.0" y2="2201.5" stroke="#ff2c0f" stroke-width="2.2" stroke-linecap="butt"/>
<text x="404.5" y="2216.5" font-size="25.6" text-anchor="start" fill="#000" stroke="#000" stroke-width="0.45" stroke-linejoin="round">Plk4i + Venetoclax</text>
<text x="818.0" y="2050.0" font-size="58" text-anchor="start" fill="#231f20" stroke="#231f20" stroke-width="0.45" stroke-linejoin="round">h</text>
<text x="1199.5" y="2088.5" font-size="32" text-anchor="middle" fill="#000" stroke="#000" stroke-width="0.45" stroke-linejoin="round">PDX 74251-R1</text>
<polyline points="1183.7,2208.3 1253.8,2208.3 1253.8,2230.4 1277.2,2230.4 1277.2,2451.0" fill="none" stroke="#1a8f8c" stroke-width="3" stroke-linejoin="miter" stroke-linecap="butt"/>
<line x1="1184.7" y1="2208.3" x2="1184.7" y2="2202.8" stroke="#1a8f8c" stroke-width="2.6" stroke-linecap="butt"/>
<line x1="1197.7" y1="2208.3" x2="1197.7" y2="2202.8" stroke="#1a8f8c" stroke-width="2.6" stroke-linecap="butt"/>
<line x1="1207.7" y1="2208.3" x2="1207.7" y2="2202.8" stroke="#1a8f8c" stroke-width="2.6" stroke-linecap="butt"/>
<polyline points="1183.7,2208.3 1183.7,2238.6 1207.1,2238.6 1207.1,2360.0" fill="none" stroke="#1a2cff" stroke-width="3" stroke-linejoin="miter" stroke-linecap="butt"/>
<line x1="1197.7" y1="2238.6" x2="1197.7" y2="2233.1" stroke="#1a2cff" stroke-width="2.6" stroke-linecap="butt"/>
<polyline points="1043.4,2208.3 1183.7,2208.3 1183.7,2316.3 1197.0,2316.3 1197.0,2361.2 1207.1,2361.2 1207.1,2451.0" fill="none" stroke="#000000" stroke-width="3" stroke-linejoin="miter" stroke-linecap="butt"/>
<polyline points="1253.8,2208.3 1367.4,2208.3 1367.4,2289.1 1377.4,2289.1" fill="none" stroke="#ff2c0f" stroke-width="3" stroke-linejoin="miter" stroke-linecap="butt"/>
<line x1="1277.2" y1="2208.3" x2="1277.2" y2="2202.8" stroke="#ff2c0f" stroke-width="2.6" stroke-linecap="butt"/>
<line x1="1377.4" y1="2289.1" x2="1377.4" y2="2283.6" stroke="#ff2c0f" stroke-width="2.6" stroke-linecap="butt"/>
<line x1="1043.4" y1="2184.0" x2="1043.4" y2="2452.6" stroke="#000" stroke-width="3.2" stroke-linecap="butt"/>
<line x1="1043.4" y1="2451.0" x2="1444.2" y2="2451.0" stroke="#000" stroke-width="3.2" stroke-linecap="butt"/>
<line x1="1031.9" y1="2451.0" x2="1043.4" y2="2451.0" stroke="#000" stroke-width="2.8" stroke-linecap="butt"/>
<line x1="1036.9" y1="2438.9" x2="1043.4" y2="2438.9" stroke="#000" stroke-width="2.4" stroke-linecap="butt"/>
<line x1="1036.9" y1="2426.7" x2="1043.4" y2="2426.7" stroke="#000" stroke-width="2.4" stroke-linecap="butt"/>
<line x1="1036.9" y1="2414.6" x2="1043.4" y2="2414.6" stroke="#000" stroke-width="2.4" stroke-linecap="butt"/>
<line x1="1036.9" y1="2402.5" x2="1043.4" y2="2402.5" stroke="#000" stroke-width="2.4" stroke-linecap="butt"/>
<line x1="1036.9" y1="2390.3" x2="1043.4" y2="2390.3" stroke="#000" stroke-width="2.4" stroke-linecap="butt"/>
<line x1="1036.9" y1="2378.2" x2="1043.4" y2="2378.2" stroke="#000" stroke-width="2.4" stroke-linecap="butt"/>
<line x1="1036.9" y1="2366.1" x2="1043.4" y2="2366.1" stroke="#000" stroke-width="2.4" stroke-linecap="butt"/>
<line x1="1036.9" y1="2353.9" x2="1043.4" y2="2353.9" stroke="#000" stroke-width="2.4" stroke-linecap="butt"/>
<line x1="1036.9" y1="2341.8" x2="1043.4" y2="2341.8" stroke="#000" stroke-width="2.4" stroke-linecap="butt"/>
<line x1="1031.9" y1="2329.7" x2="1043.4" y2="2329.7" stroke="#000" stroke-width="2.8" stroke-linecap="butt"/>
<line x1="1036.9" y1="2317.5" x2="1043.4" y2="2317.5" stroke="#000" stroke-width="2.4" stroke-linecap="butt"/>
<line x1="1036.9" y1="2305.4" x2="1043.4" y2="2305.4" stroke="#000" stroke-width="2.4" stroke-linecap="butt"/>
<line x1="1036.9" y1="2293.2" x2="1043.4" y2="2293.2" stroke="#000" stroke-width="2.4" stroke-linecap="butt"/>
<line x1="1036.9" y1="2281.1" x2="1043.4" y2="2281.1" stroke="#000" stroke-width="2.4" stroke-linecap="butt"/>
<line x1="1036.9" y1="2269.0" x2="1043.4" y2="2269.0" stroke="#000" stroke-width="2.4" stroke-linecap="butt"/>
<line x1="1036.9" y1="2256.8" x2="1043.4" y2="2256.8" stroke="#000" stroke-width="2.4" stroke-linecap="butt"/>
<line x1="1036.9" y1="2244.7" x2="1043.4" y2="2244.7" stroke="#000" stroke-width="2.4" stroke-linecap="butt"/>
<line x1="1036.9" y1="2232.6" x2="1043.4" y2="2232.6" stroke="#000" stroke-width="2.4" stroke-linecap="butt"/>
<line x1="1036.9" y1="2220.4" x2="1043.4" y2="2220.4" stroke="#000" stroke-width="2.4" stroke-linecap="butt"/>
<line x1="1031.9" y1="2208.3" x2="1043.4" y2="2208.3" stroke="#000" stroke-width="2.8" stroke-linecap="butt"/>
<line x1="1036.9" y1="2196.2" x2="1043.4" y2="2196.2" stroke="#000" stroke-width="2.4" stroke-linecap="butt"/>
<line x1="1036.9" y1="2184.0" x2="1043.4" y2="2184.0" stroke="#000" stroke-width="2.4" stroke-linecap="butt"/>
<text x="1028.4" y="2463.0" font-size="33" text-anchor="end" fill="#000" stroke="#000" stroke-width="0.45" stroke-linejoin="round">0</text>
<text x="1028.4" y="2341.7" font-size="33" text-anchor="end" fill="#000" stroke="#000" stroke-width="0.45" stroke-linejoin="round">50</text>
<text x="1028.4" y="2220.3" font-size="33" text-anchor="end" fill="#000" stroke="#000" stroke-width="0.45" stroke-linejoin="round">100</text>
<line x1="1043.4" y1="2451.0" x2="1043.4" y2="2461.0" stroke="#000" stroke-width="3.2" stroke-linecap="butt"/>
<text x="1043.4" y="2496.4" font-size="33" text-anchor="middle" fill="#000" stroke="#000" stroke-width="0.45" stroke-linejoin="round">0</text>
<line x1="1110.2" y1="2451.0" x2="1110.2" y2="2461.0" stroke="#000" stroke-width="3.2" stroke-linecap="butt"/>
<text x="1110.2" y="2496.4" font-size="33" text-anchor="middle" fill="#000" stroke="#000" stroke-width="0.45" stroke-linejoin="round">20</text>
<line x1="1177.0" y1="2451.0" x2="1177.0" y2="2461.0" stroke="#000" stroke-width="3.2" stroke-linecap="butt"/>
<text x="1177.0" y="2496.4" font-size="33" text-anchor="middle" fill="#000" stroke="#000" stroke-width="0.45" stroke-linejoin="round">40</text>
<line x1="1243.8" y1="2451.0" x2="1243.8" y2="2461.0" stroke="#000" stroke-width="3.2" stroke-linecap="butt"/>
<text x="1243.8" y="2496.4" font-size="33" text-anchor="middle" fill="#000" stroke="#000" stroke-width="0.45" stroke-linejoin="round">60</text>
<line x1="1310.6" y1="2451.0" x2="1310.6" y2="2461.0" stroke="#000" stroke-width="3.2" stroke-linecap="butt"/>
<text x="1310.6" y="2496.4" font-size="33" text-anchor="middle" fill="#000" stroke="#000" stroke-width="0.45" stroke-linejoin="round">80</text>
<line x1="1377.4" y1="2451.0" x2="1377.4" y2="2461.0" stroke="#000" stroke-width="3.2" stroke-linecap="butt"/>
<text x="1377.4" y="2496.4" font-size="33" text-anchor="middle" fill="#000" stroke="#000" stroke-width="0.45" stroke-linejoin="round">100</text>
<line x1="1444.2" y1="2451.0" x2="1444.2" y2="2461.0" stroke="#000" stroke-width="3.2" stroke-linecap="butt"/>
<text x="1444.2" y="2496.4" font-size="33" text-anchor="middle" fill="#000" stroke="#000" stroke-width="0.45" stroke-linejoin="round">120</text>
<text x="1245.0" y="2542.5" font-size="32.5" text-anchor="middle" fill="#000" stroke="#000" stroke-width="0.45" stroke-linejoin="round">Time (days)</text>
<text x="958.0" y="2465.5" font-size="32" text-anchor="start" fill="#000" stroke="#000" stroke-width="0.45" stroke-linejoin="round" transform="rotate(-90 958.0 2465.5)">Probability of Survival</text>
<line x1="1329.6" y1="2084.0" x2="1359.2" y2="2084.0" stroke="#000000" stroke-width="3" stroke-linecap="butt"/>
<line x1="1345.0" y1="2084.0" x2="1345.0" y2="2079.0" stroke="#000000" stroke-width="2.2" stroke-linecap="butt"/>
<text x="1374.3" y="2091.8" font-size="25.6" text-anchor="start" fill="#000" stroke="#000" stroke-width="0.45" stroke-linejoin="round">Vehicle</text>
<line x1="1329.6" y1="2121.5" x2="1359.2" y2="2121.5" stroke="#1a2cff" stroke-width="3" stroke-linecap="butt"/>
<line x1="1345.0" y1="2121.5" x2="1345.0" y2="2116.5" stroke="#1a2cff" stroke-width="2.2" stroke-linecap="butt"/>
<text x="1374.3" y="2130.0" font-size="25.6" text-anchor="start" fill="#000" stroke="#000" stroke-width="0.45" stroke-linejoin="round">Plk4i, 5 mg/kg p.o. QDx5</text>
<line x1="1329.6" y1="2159.0" x2="1359.2" y2="2159.0" stroke="#1a8f8c" stroke-width="3" stroke-linecap="butt"/>
<line x1="1345.0" y1="2159.0" x2="1345.0" y2="2154.0" stroke="#1a8f8c" stroke-width="2.2" stroke-linecap="butt"/>
<text x="1374.3" y="2167.5" font-size="25.6" text-anchor="start" fill="#000" stroke="#000" stroke-width="0.45" stroke-linejoin="round">Venetoclax, 100 mg/kg p.o. QDx5</text>
<line x1="1329.6" y1="2195.5" x2="1359.2" y2="2195.5" stroke="#ff2c0f" stroke-width="3" stroke-linecap="butt"/>
<line x1="1345.0" y1="2195.5" x2="1345.0" y2="2190.5" stroke="#ff2c0f" stroke-width="2.2" stroke-linecap="butt"/>
<text x="1374.3" y="2203.7" font-size="25.6" text-anchor="start" fill="#000" stroke="#000" stroke-width="0.45" stroke-linejoin="round">Plk4i + Venetoclax</text>
<text x="819.0" y="43.0" font-size="58" text-anchor="start" fill="#231f20" stroke="#231f20" stroke-width="0.45" stroke-linejoin="round">b</text>
<text x="1110.7" y="25.3" font-size="32.6" text-anchor="middle" fill="#000" stroke="#000" stroke-width="0.45" stroke-linejoin="round">Cl-Caspase3</text>
<text x="1418.7" y="25.3" font-size="32.6" text-anchor="middle" fill="#000" stroke="#000" stroke-width="0.45" stroke-linejoin="round">Pericentrin</text>
<text x="1730.5" y="25.3" font-size="32.6" text-anchor="middle" fill="#000" stroke="#000" stroke-width="0.45" stroke-linejoin="round">BAX</text>
<line x1="937.0" y1="45.0" x2="1253.5" y2="45.0" stroke="#000" stroke-width="3.2" stroke-linecap="round"/>
<line x1="1266.5" y1="45.0" x2="1569.5" y2="45.0" stroke="#000" stroke-width="3.2" stroke-linecap="round"/>
<line x1="1579.0" y1="45.0" x2="1885.5" y2="45.0" stroke="#000" stroke-width="3.2" stroke-linecap="round"/>
<line x1="889.0" y1="87.0" x2="889.0" y2="621.0" stroke="#231f20" stroke-width="3" stroke-linecap="butt"/>
<text x="926.0" y="205.0" font-size="33" text-anchor="start" fill="#000" stroke="#000" stroke-width="0.45" stroke-linejoin="round" transform="rotate(-90 926.0 205.0)">Vehicle</text>
<text x="926.0" y="410.0" font-size="33" text-anchor="start" fill="#000" stroke="#000" stroke-width="0.45" stroke-linejoin="round" transform="rotate(-90 926.0 410.0)">6.5 mg/Kg</text>
<text x="926.0" y="625.0" font-size="33" text-anchor="start" fill="#000" stroke="#000" stroke-width="0.45" stroke-linejoin="round" transform="rotate(-90 926.0 625.0)">8.5 mg/Kg</text>
<text x="872.0" y="423.0" font-size="33" text-anchor="start" fill="#000" stroke="#000" stroke-width="0.45" stroke-linejoin="round" transform="rotate(-90 872.0 423.0)">CFI-400945</text>
<rect x="944.0" y="63.0" width="307.0" height="179.0" fill="rgb(184,192,216)"/>
<rect x="944.0" y="63.0" width="307.0" height="179.0" filter="url(#f1)"/>
<rect x="944.0" y="63.0" width="307.0" height="179.0" filter="url(#f2)"/>
<rect x="944.0" y="63.0" width="307.0" height="179.0" filter="url(#f3)"/>
<polygon points="1131.0,63.0 1171.0,63.0 1176.0,90.0 1183.0,117.0 1192.0,140.0 1204.0,165.0 1218.0,190.0 1231.0,213.0 1251.0,236.0 1251.0,242.0 1167.0,242.0 1164.0,225.0 1162.0,213.0 1158.0,190.0 1154.0,165.0 1148.0,140.0 1139.0,117.0 1133.0,90.0" fill="#fdfdfd"/>
<polygon points="944.0,163.0 948.0,175.0 955.0,195.0 965.0,213.0 972.0,228.0 980.0,242.0 944.0,242.0" fill="#fdfdfd"/>
<polygon points="1123.0,63.0 1131.0,63.0 1132.0,80.0 1130.0,100.0 1125.0,114.0 1118.0,116.0 1122.0,100.0 1124.0,80.0" fill="#93542f" opacity="0.7"/>
<polygon points="1165.0,205.0 1185.0,208.0 1200.0,225.0 1215.0,242.0 1168.0,242.0" fill="#d5dae8" opacity="0.9"/>
<rect x="947.3" y="234.4" width="32.0" height="5.5" fill="#231f20"/>
<rect x="943.1" y="61.6" width="308.8" height="181.8" fill="none" stroke="#231f20" stroke-width="3.2"/>
<rect x="944" y="251" width="307" height="184.5" fill="#fdfdfd"/>
<rect x="944.0" y="251.0" width="307.0" height="184.5" fill="rgb(176,188,214)" clip-path="url(#c1)"/>
<rect x="944.0" y="251.0" width="307.0" height="184.5" filter="url(#f4)" clip-path="url(#c1)"/>
<rect x="944.0" y="251.0" width="307.0" height="184.5" filter="url(#f5)" clip-path="url(#c1)"/>
<rect x="944.0" y="251.0" width="307.0" height="184.5" filter="url(#f6)" clip-path="url(#c1)"/>
<rect x="944.0" y="251.0" width="307.0" height="184.5" fill="rgb(205,210,226)" clip-path="url(#c2)"/>
<rect x="944.0" y="251.0" width="307.0" height="184.5" filter="url(#f7)" clip-path="url(#c2)"/>
<rect x="944.0" y="251.0" width="307.0" height="184.5" fill="rgb(180,190,214)" clip-path="url(#c3)"/>
<rect x="944.0" y="251.0" width="307.0" height="184.5" filter="url(#f8)" clip-path="url(#c3)"/>
<rect x="944.0" y="251.0" width="307.0" height="184.5" fill="rgb(216,221,233)" clip-path="url(#c4)"/>
<rect x="944.0" y="251.0" width="307.0" height="184.5" filter="url(#f9)" clip-path="url(#c4)"/>
<rect x="944.0" y="251.0" width="307.0" height="184.5" fill="rgb(206,182,168)" clip-path="url(#c5)"/>
<rect x="944.0" y="251.0" width="307.0" height="184.5" filter="url(#f10)" clip-path="url(#c5)"/>
<rect x="944.0" y="251.0" width="307.0" height="184.5" filter="url(#f11)" clip-path="url(#c5)"/>
<rect x="944.0" y="251.0" width="307.0" height="184.5" filter="url(#f12)" clip-path="url(#c5)"/>
<rect x="947.0" y="427.5" width="33.0" height="5.5" fill="#231f20"/>
<rect x="943.1" y="249.6" width="308.8" height="187.3" fill="none" stroke="#231f20" stroke-width="3.2"/>
<rect x="944.0" y="446.0" width="307.0" height="185.0" fill="rgb(170,182,210)"/>
<rect x="944.0" y="446.0" width="307.0" height="185.0" filter="url(#f13)"/>
<rect x="944.0" y="446.0" width="307.0" height="185.0" filter="url(#f14)"/>
<rect x="944.0" y="446.0" width="307.0" height="185.0" filter="url(#f15)"/>
<rect x="944" y="446" width="307" height="185" fill="url(#g31)"/>
<rect x="944.0" y="446.0" width="307.0" height="185.0" filter="url(#f16)" opacity="0.6" mask="url(#m31)"/>
<rect x="944.0" y="446.0" width="307.0" height="185.0" filter="url(#f17)" clip-path="url(#c6)"/>
<rect x="944.0" y="446.0" width="307.0" height="185.0" filter="url(#f18)" opacity="0.5" mask="url(#m31b)"/>
<polygon points="1170.0,446.0 1200.0,446.0 1203.0,466.0 1192.0,460.0 1180.0,452.0" fill="#fdfdfd"/>
<polygon points="1215.0,631.0 1225.0,624.0 1240.0,622.0 1251.0,624.0 1251.0,631.0" fill="#fdfdfd"/>
<rect x="947.5" y="622.5" width="33.0" height="6.0" fill="#231f20"/>
<rect x="943.1" y="444.6" width="308.8" height="187.8" fill="none" stroke="#231f20" stroke-width="3.2"/>
<rect x="1267.0" y="63.0" width="300.0" height="179.0" fill="rgb(202,196,196)"/>
<rect x="1267.0" y="63.0" width="300.0" height="179.0" filter="url(#f19)" opacity="0.5"/>
<rect x="1267.0" y="63.0" width="300.0" height="179.0" fill="url(#pP1)"/>
<rect x="1267.0" y="63.0" width="300.0" height="179.0" filter="url(#f20)" opacity="0.5"/>
<rect x="1269.5" y="234.2" width="41.0" height="6.2" fill="#231f20"/>
<rect x="1266.2" y="61.6" width="302.2" height="181.7" fill="none" stroke="#0a0a0a" stroke-width="3.3"/>
<rect x="1267.0" y="251.0" width="300.0" height="184.5" fill="rgb(218,202,188)"/>
<rect x="1267.0" y="251.0" width="300.0" height="184.5" filter="url(#f21)" opacity="0.5"/>
<rect x="1267.0" y="251.0" width="300.0" height="184.5" fill="url(#pP2)"/>
<rect x="1267.0" y="251.0" width="300.0" height="184.5" filter="url(#f22)" opacity="0.5"/>
<rect x="1269.5" y="427.7" width="41.0" height="6.2" fill="#231f20"/>
<rect x="1266.2" y="249.7" width="302.2" height="187.2" fill="none" stroke="#0a0a0a" stroke-width="3.3"/>
<rect x="1267.0" y="446.0" width="300.0" height="185.0" fill="rgb(214,200,190)"/>
<rect x="1267.0" y="446.0" width="300.0" height="185.0" filter="url(#f23)" opacity="0.5"/>
<rect x="1267.0" y="446.0" width="300.0" height="185.0" fill="url(#pP3)"/>
<rect x="1267.0" y="446.0" width="300.0" height="185.0" filter="url(#f24)" opacity="0.5"/>
<rect x="1269.5" y="623.2" width="41.0" height="6.2" fill="#231f20"/>
<rect x="1266.2" y="444.6" width="302.2" height="187.7" fill="none" stroke="#0a0a0a" stroke-width="3.3"/>
<rect x="1583.0" y="63.0" width="301.0" height="179.0" fill="rgb(140,166,210)"/>
<rect x="1583.0" y="63.0" width="301.0" height="179.0" fill="url(#pB1)"/>
<rect x="1583.0" y="63.0" width="301.0" height="179.0" filter="url(#f25)"/>
<rect x="1584.6" y="234.0" width="24.0" height="5.5" fill="#231f20"/>
<rect x="1581.6" y="61.6" width="303.8" height="181.8" fill="none" stroke="#231f20" stroke-width="3.2"/>
<rect x="1583.0" y="251.0" width="301.0" height="184.5" fill="rgb(158,104,64)"/>
<rect x="1583.0" y="251.0" width="301.0" height="184.5" filter="url(#f26)" opacity="0.5"/>
<rect x="1583.0" y="251.0" width="301.0" height="184.5" fill="url(#pB2)"/>
<rect x="1583.0" y="251.0" width="301.0" height="184.5" filter="url(#f27)"/>
<rect x="1584.6" y="427.5" width="24.0" height="5.5" fill="#231f20"/>
<rect x="1581.6" y="249.6" width="303.8" height="187.3" fill="none" stroke="#231f20" stroke-width="3.2"/>
<rect x="1583.0" y="446.0" width="301.0" height="185.0" fill="rgb(146,104,74)"/>
<rect x="1583.0" y="446.0" width="301.0" height="185.0" filter="url(#f28)" opacity="0.55"/>
<rect x="1583.0" y="446.0" width="301.0" height="185.0" fill="url(#pB3)"/>
<rect x="1583.0" y="446.0" width="301.0" height="185.0" filter="url(#f29)"/>
<rect x="1584.6" y="623.0" width="24.0" height="5.5" fill="#231f20"/>
<rect x="1581.6" y="444.6" width="303.8" height="187.8" fill="none" stroke="#231f20" stroke-width="3.2"/>
<text x="817.0" y="718.0" font-size="58" text-anchor="start" fill="#231f20" stroke="#231f20" stroke-width="0.45" stroke-linejoin="round">d</text>
<text x="1374.0" y="753.8" font-size="33" text-anchor="middle" fill="#000" stroke="#000" stroke-width="0.45" stroke-linejoin="round">TMD-8</text>
<line x1="943.5" y1="778.5" x2="1752.5" y2="778.5" stroke="#000" stroke-width="3" stroke-linecap="butt"/>
<line x1="916.0" y1="812.5" x2="916.0" y2="1237.5" stroke="#000" stroke-width="3" stroke-linecap="butt"/>
<text x="897.0" y="1060.0" font-size="33" text-anchor="start" fill="#000" stroke="#000" stroke-width="0.45" stroke-linejoin="round" transform="rotate(-90 897.0 1060.0)">BAX</text>
<rect x="941.4" y="799.5" width="403.3" height="226.3" fill="rgb(156,180,218)"/>
<rect x="941.4" y="799.5" width="403.3" height="226.3" fill="url(#pD1)"/>
<rect x="941.4" y="799.5" width="403.3" height="226.3" filter="url(#f30)"/>
<rect x="940.4" y="798.5" width="137.9" height="43.7" fill="#fff"/>
<text x="961.4" y="831.2" font-size="32.5" text-anchor="start" fill="#1a1a1a" stroke="#1a1a1a" stroke-width="0.45" stroke-linejoin="round">Vehicle</text>
<rect x="946.4" y="1015.8" width="34.0" height="5.5" fill="#231f20"/>
<rect x="1348.7" y="799.5" width="403.3" height="226.3" fill="rgb(156,178,214)"/>
<rect x="1348.7" y="799.5" width="403.3" height="226.3" fill="url(#pD2)"/>
<rect x="1348.7" y="799.5" width="403.3" height="226.3" filter="url(#f31)"/>
<rect x="1347.7" y="798.5" width="201.0" height="43.7" fill="#fff"/>
<text x="1368.7" y="831.2" font-size="32.5" text-anchor="start" fill="#1a1a1a" stroke="#1a1a1a" stroke-width="0.45" stroke-linejoin="round">CFI-400945</text>
<rect x="1353.7" y="1015.8" width="34.0" height="5.5" fill="#231f20"/>
<rect x="941.4" y="1030.4" width="403.3" height="226.3" fill="rgb(142,144,174)"/>
<rect x="941.4" y="1030.4" width="403.3" height="226.3" filter="url(#f32)" opacity="0.85"/>
<rect x="941.4" y="1030.4" width="403.3" height="226.3" fill="url(#pD3)"/>
<rect x="941.4" y="1030.4" width="403.3" height="226.3" filter="url(#f33)"/>
<rect x="940.4" y="1029.4" width="201.6" height="43.6" fill="#fff"/>
<text x="961.4" y="1062.1" font-size="32.5" text-anchor="start" fill="#1a1a1a" stroke="#1a1a1a" stroke-width="0.45" stroke-linejoin="round">Venetoclax</text>
<rect x="946.4" y="1246.7" width="34.0" height="5.5" fill="#231f20"/>
<rect x="1348.7" y="1030.4" width="403.3" height="226.3" fill="rgb(162,92,44)"/>
<rect x="1348.7" y="1030.4" width="403.3" height="226.3" filter="url(#f34)" opacity="0.7"/>
<rect x="1348.7" y="1030.4" width="403.3" height="226.3" fill="url(#pD4)"/>
<rect x="1348.7" y="1030.4" width="403.3" height="226.3" filter="url(#f35)"/>
<rect x="1347.7" y="1029.4" width="136.5" height="43.6" fill="#fff"/>
<text x="1368.7" y="1062.1" font-size="32.5" text-anchor="start" fill="#1a1a1a" stroke="#1a1a1a" stroke-width="0.45" stroke-linejoin="round">Combo</text>
<rect x="1353.7" y="1246.7" width="34.0" height="5.5" fill="#231f20"/>
<text x="834.5" y="1386.5" font-size="58" text-anchor="start" fill="#231f20" stroke="#231f20" stroke-width="0.45" stroke-linejoin="round">f</text>
<text x="1360.5" y="1413.5" font-size="32.6" text-anchor="middle" fill="#000" stroke="#000" stroke-width="0.45" stroke-linejoin="round">PDX 74251-R1</text>
<line x1="948.0" y1="1425.5" x2="1756.0" y2="1425.5" stroke="#000" stroke-width="3" stroke-linecap="butt"/>
<line x1="916.0" y1="1459.5" x2="916.0" y2="1884.5" stroke="#000" stroke-width="3" stroke-linecap="butt"/>
<text x="897.0" y="1708.0" font-size="33" text-anchor="start" fill="#000" stroke="#000" stroke-width="0.45" stroke-linejoin="round" transform="rotate(-90 897.0 1708.0)">BAX</text>
<rect x="938.8" y="1437.1" width="404.6" height="225.0" fill="rgb(112,142,200)"/>
<rect x="938.8" y="1437.1" width="404.6" height="225.0" filter="url(#f36)" opacity="0.4"/>
<rect x="938.8" y="1437.1" width="404.6" height="225.0" fill="url(#pF1)"/>
<rect x="938.8" y="1437.1" width="404.6" height="225.0" filter="url(#f37)"/>
<rect x="937.8" y="1436.1" width="138.5" height="41.8" fill="#fff"/>
<text x="959.3" y="1467.4" font-size="32.5" text-anchor="start" fill="#1a1a1a" stroke="#1a1a1a" stroke-width="0.45" stroke-linejoin="round">Vehicle</text>
<rect x="943.8" y="1650.1" width="34.0" height="5.5" fill="#231f20"/>
<rect x="1353.9" y="1437.1" width="401.4" height="226.3" fill="rgb(120,148,202)"/>
<rect x="1353.9" y="1437.1" width="401.4" height="226.3" filter="url(#f38)" opacity="0.4"/>
<rect x="1353.9" y="1437.1" width="401.4" height="226.3" fill="url(#pF2)"/>
<rect x="1353.9" y="1437.1" width="401.4" height="226.3" filter="url(#f39)"/>
<rect x="1352.9" y="1436.1" width="201.7" height="41.9" fill="#fff"/>
<text x="1374.4" y="1467.4" font-size="32.5" text-anchor="start" fill="#1a1a1a" stroke="#1a1a1a" stroke-width="0.45" stroke-linejoin="round">CFI-400945</text>
<rect x="1358.9" y="1651.4" width="34.0" height="5.5" fill="#231f20"/>
<rect x="938.8" y="1667.4" width="404.6" height="226.3" fill="rgb(182,180,194)"/>
<rect x="938.8" y="1667.4" width="404.6" height="226.3" filter="url(#f40)" opacity="0.45"/>
<rect x="938.8" y="1667.4" width="404.6" height="226.3" fill="url(#pF3)"/>
<rect x="938.8" y="1667.4" width="404.6" height="226.3" filter="url(#f41)"/>
<rect x="937.8" y="1666.4" width="199.7" height="44.4" fill="#fff"/>
<text x="959.3" y="1697.7" font-size="32.5" text-anchor="start" fill="#1a1a1a" stroke="#1a1a1a" stroke-width="0.45" stroke-linejoin="round">Venetoclax</text>
<rect x="943.8" y="1881.7" width="34.0" height="5.5" fill="#231f20"/>
<rect x="1353.9" y="1667.4" width="401.4" height="223.6" fill="rgb(142,142,175)"/>
<rect x="1353.9" y="1667.4" width="401.4" height="223.6" filter="url(#f42)" opacity="0.4"/>
<rect x="1353.9" y="1667.4" width="401.4" height="223.6" fill="url(#pF4)"/>
<rect x="1353.9" y="1667.4" width="401.4" height="223.6" filter="url(#f43)"/>
<rect x="1352.9" y="1666.4" width="137.9" height="44.4" fill="#fff"/>
<text x="1374.4" y="1697.7" font-size="32.5" text-anchor="start" fill="#1a1a1a" stroke="#1a1a1a" stroke-width="0.45" stroke-linejoin="round">Combo</text>
<rect x="1358.9" y="1879.0" width="34.0" height="5.5" fill="#231f20"/>
</svg></body></html>
